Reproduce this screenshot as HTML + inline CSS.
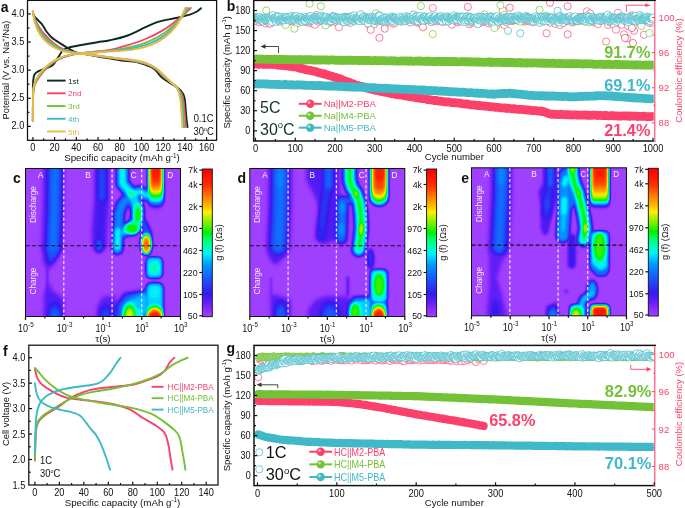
<!DOCTYPE html>
<html><head><meta charset="utf-8"><title>Figure</title>
<style>html,body{margin:0;padding:0;background:#fff}svg{display:block}text{font-family:"Liberation Sans", Arial, sans-serif}</style>
</head><body>
<svg width="685" height="508" viewBox="0 0 685 508">
<rect width="685" height="508" fill="#fff"/>
<path d="M32.8,88.6C32.9,87.2 33.0,82.3 33.3,80.0C33.6,77.7 33.7,76.0 34.5,74.5C35.3,73.0 36.2,72.3 38.1,71.3C40.0,70.3 43.6,69.4 46.1,68.3C48.6,67.2 51.1,66.6 53.2,64.7C55.3,62.8 57.0,58.9 58.5,56.7C60.0,54.5 60.9,52.7 62.0,51.4C63.1,50.1 63.8,49.7 65.0,49.0C66.2,48.3 66.6,48.0 69.1,47.4C71.6,46.8 75.1,46.1 79.8,45.2C84.5,44.3 92.5,43.0 97.5,42.2C102.5,41.4 105.0,41.3 110.0,40.2C115.0,39.1 121.8,37.7 127.7,35.5C133.6,33.3 140.5,29.5 145.5,27.2C150.5,24.9 152.6,23.4 157.9,21.8C163.2,20.2 172.1,18.9 177.4,17.7C182.7,16.5 186.6,15.6 189.8,14.6C193.1,13.6 195.0,12.6 196.9,11.5C198.8,10.4 200.3,8.8 201.0,8.3" fill="none" stroke="#0b2a1c" stroke-width="1.9" stroke-linejoin="round" stroke-linecap="round"/>
<path d="M32.8,13.3C33.2,14.0 34.0,15.9 35.5,17.7C37.0,19.5 39.9,21.7 41.7,23.9C43.5,26.1 44.5,28.8 46.1,31.0C47.7,33.2 49.0,35.1 51.4,37.2C53.8,39.3 57.3,41.5 60.3,43.4C63.2,45.3 66.4,47.3 69.1,48.8C71.8,50.3 73.5,51.4 76.2,52.3C78.9,53.2 81.2,53.4 85.1,54.1C88.9,54.8 93.5,55.7 99.3,56.7C105.1,57.7 113.8,59.4 120.0,60.3C126.2,61.2 131.5,60.9 136.6,62.0C141.7,63.1 147.6,65.5 150.8,67.0C154.1,68.5 154.3,69.2 156.1,70.9C157.9,72.6 159.8,75.5 161.4,77.1C163.1,78.7 163.9,79.1 166.0,80.5C168.1,81.9 171.3,83.6 173.8,85.3C176.3,87.0 179.1,88.5 180.9,90.6C182.7,92.7 183.6,93.5 184.5,97.7C185.4,101.9 185.7,110.6 186.2,115.5C186.7,120.4 187.3,125.1 187.5,127.0" fill="none" stroke="#0b2a1c" stroke-width="1.9" stroke-linejoin="round" stroke-linecap="round"/>
<path d="M32.8,121.0C32.8,117.5 32.9,105.4 33.0,100.0C33.1,94.6 33.2,91.7 33.7,88.6C34.2,85.5 34.8,84.2 36.3,81.6C37.8,78.9 40.3,75.4 42.5,72.7C44.7,70.0 46.9,67.8 49.6,65.6C52.3,63.4 55.0,61.2 58.5,59.4C62.0,57.6 67.1,56.0 70.9,55.0C74.8,54.0 76.9,53.8 81.6,53.2C86.3,52.6 94.6,51.7 99.3,51.2C104.0,50.7 105.3,51.0 110.0,50.0C114.7,49.0 121.8,47.0 127.7,45.2C133.6,43.4 139.6,41.5 145.5,39.0C151.4,36.5 158.2,33.1 163.2,30.1C168.2,27.2 172.0,24.0 175.6,21.3C179.2,18.6 182.0,16.4 184.5,14.2C187.0,12.0 189.7,9.0 190.7,8.0" fill="none" stroke="#fb416b" stroke-width="1.9" stroke-linejoin="round" stroke-linecap="round"/>
<path d="M32.8,11.5C33.2,12.8 34.0,16.4 35.0,19.0C36.0,21.6 37.2,24.2 39.0,27.0C40.8,29.8 43.5,33.2 46.0,36.0C48.5,38.8 51.2,41.3 54.0,43.5C56.8,45.7 59.5,47.5 63.0,49.0C66.5,50.5 71.3,51.7 75.0,52.5C78.7,53.3 81.0,53.4 85.0,54.0C89.0,54.6 93.2,55.3 99.0,56.2C104.8,57.1 113.8,58.3 120.0,59.2C126.2,60.1 131.0,60.5 136.0,61.5C141.0,62.5 146.5,64.1 150.0,65.5C153.5,66.9 154.8,68.2 157.0,70.0C159.2,71.8 160.8,74.0 163.0,76.0C165.2,78.0 167.5,79.9 170.0,82.0C172.5,84.1 175.9,86.2 178.0,88.5C180.1,90.8 181.4,92.4 182.5,96.0C183.6,99.6 183.9,104.8 184.5,110.0C185.1,115.2 185.6,124.2 185.8,127.0" fill="none" stroke="#fb416b" stroke-width="1.9" stroke-linejoin="round" stroke-linecap="round"/>
<path d="M32.8,121.0C32.8,117.3 32.9,104.6 33.0,99.1C33.1,93.5 33.2,90.8 33.7,87.7C34.2,84.6 34.8,83.1 36.3,80.4C37.8,77.7 40.3,74.2 42.5,71.6C44.7,69.0 46.9,66.9 49.6,64.8C52.3,62.7 55.0,60.6 58.5,58.9C62.0,57.3 67.1,55.8 70.9,54.8C74.8,53.9 76.9,53.7 81.6,53.2C86.3,52.7 94.4,52.1 99.3,51.7C104.2,51.2 105.8,51.4 110.9,50.6C116.0,49.9 123.9,48.7 130.1,47.2C136.2,45.7 142.2,44.1 147.9,41.8C153.5,39.5 159.4,36.3 164.0,33.3C168.6,30.3 172.5,26.6 175.6,23.7C178.7,20.8 180.8,18.4 182.9,15.8C185.0,13.2 187.4,9.3 188.3,8.0" fill="none" stroke="#72c136" stroke-width="1.9" stroke-linejoin="round" stroke-linecap="round"/>
<path d="M32.8,11.5C33.1,12.9 33.9,17.1 34.8,19.9C35.8,22.8 36.9,25.7 38.6,28.6C40.4,31.5 42.8,34.8 45.3,37.6C47.8,40.3 50.7,42.8 53.7,44.9C56.7,47.0 59.4,48.6 63.3,50.0C67.2,51.3 73.0,52.3 76.9,53.0C80.9,53.7 83.3,53.8 87.0,54.3C90.7,54.8 93.6,55.3 99.1,56.1C104.6,56.8 114.2,58.1 120.0,58.9C125.8,59.7 129.4,59.9 134.1,60.8C138.8,61.7 144.4,63.0 148.2,64.5C152.0,65.9 154.2,67.5 156.6,69.3C159.1,71.1 160.8,73.3 163.1,75.4C165.3,77.5 167.7,79.8 170.1,81.8C172.5,83.9 175.5,85.5 177.4,87.9C179.3,90.4 180.5,92.6 181.5,96.7C182.5,100.7 182.9,107.1 183.4,112.2C183.9,117.3 184.2,124.5 184.4,127.0" fill="none" stroke="#72c136" stroke-width="1.9" stroke-linejoin="round" stroke-linecap="round"/>
<path d="M32.8,121.0C32.8,117.2 32.9,104.2 33.0,98.5C33.1,92.8 33.2,90.2 33.7,87.1C34.2,84.0 34.8,82.4 36.3,79.7C37.8,76.9 40.3,73.4 42.5,70.8C44.7,68.3 46.9,66.3 49.6,64.2C52.3,62.2 55.0,60.2 58.5,58.6C62.0,57.1 67.1,55.6 70.9,54.7C74.8,53.8 76.9,53.7 81.6,53.2C86.3,52.7 94.3,52.3 99.3,52.0C104.3,51.6 106.1,51.6 111.5,51.0C116.9,50.5 125.3,49.7 131.7,48.5C138.0,47.3 144.0,45.8 149.5,43.7C155.0,41.5 160.2,38.5 164.6,35.4C168.9,32.4 172.7,28.4 175.6,25.3C178.5,22.2 179.9,19.7 181.8,16.8C183.7,13.9 185.9,9.5 186.7,8.0" fill="none" stroke="#3fb9c8" stroke-width="1.9" stroke-linejoin="round" stroke-linecap="round"/>
<path d="M32.8,11.5C33.1,13.0 33.8,17.6 34.7,20.6C35.6,23.7 36.7,26.8 38.4,29.8C40.1,32.8 42.3,36.0 44.8,38.7C47.3,41.4 50.3,44.0 53.4,46.0C56.6,47.9 59.4,49.4 63.6,50.7C67.7,51.9 74.2,52.7 78.4,53.3C82.5,54.0 85.0,54.1 88.5,54.6C92.0,55.0 94.0,55.3 99.2,56.0C104.5,56.7 114.4,58.0 120.0,58.7C125.6,59.4 128.2,59.5 132.7,60.3C137.2,61.1 142.9,62.3 146.8,63.7C150.8,65.1 153.7,66.9 156.4,68.8C159.1,70.7 160.8,72.8 163.1,75.0C165.4,77.1 167.9,79.6 170.2,81.7C172.5,83.8 175.2,84.9 176.9,87.5C178.7,90.1 179.8,92.8 180.8,97.2C181.7,101.6 182.2,108.9 182.6,113.8C183.0,118.8 183.2,124.8 183.4,127.0" fill="none" stroke="#3fb9c8" stroke-width="1.9" stroke-linejoin="round" stroke-linecap="round"/>
<path d="M32.8,121.0C32.8,117.2 32.9,103.7 33.0,98.0C33.1,92.3 33.2,89.8 33.7,86.6C34.2,83.4 34.8,81.7 36.3,79.0C37.8,76.3 40.3,72.7 42.5,70.2C44.7,67.7 46.9,65.8 49.6,63.8C52.3,61.8 55.0,59.9 58.5,58.4C62.0,56.9 67.1,55.5 70.9,54.6C74.8,53.7 76.9,53.6 81.6,53.2C86.3,52.8 94.2,52.5 99.3,52.2C104.4,51.9 106.4,51.8 112.0,51.4C117.6,51.0 126.5,50.6 133.0,49.6C139.5,48.6 145.5,47.3 150.8,45.2C156.1,43.1 160.9,40.3 165.0,37.2C169.1,34.1 172.9,29.9 175.6,26.6C178.2,23.4 179.3,20.8 180.9,17.7C182.5,14.6 184.7,9.6 185.4,8.0" fill="none" stroke="#efb73e" stroke-width="1.9" stroke-linejoin="round" stroke-linecap="round"/>
<path d="M32.8,11.5C33.1,13.1 33.7,18.1 34.6,21.3C35.5,24.6 36.5,27.9 38.1,31.0C39.7,34.1 41.8,37.2 44.3,39.9C46.8,42.6 50.0,45.1 53.2,47.0C56.5,48.9 59.4,50.3 63.8,51.4C68.2,52.5 75.4,53.1 79.8,53.7C84.2,54.3 86.8,54.4 90.0,54.8C93.2,55.2 94.3,55.3 99.3,55.9C104.3,56.5 114.7,57.9 120.0,58.5C125.3,59.1 127.1,59.1 131.3,59.8C135.6,60.5 141.4,61.5 145.5,62.9C149.6,64.3 153.2,66.4 156.1,68.3C159.0,70.2 160.8,72.3 163.2,74.5C165.6,76.7 168.1,79.5 170.3,81.6C172.5,83.7 174.9,84.4 176.5,87.1C178.1,89.8 179.1,93.0 180.0,97.7C180.9,102.4 181.4,110.6 181.8,115.5C182.2,120.4 182.2,125.1 182.3,127.0" fill="none" stroke="#efb73e" stroke-width="1.9" stroke-linejoin="round" stroke-linecap="round"/>
<rect x="27.5" y="0.4" width="189.1" height="139.9" fill="none" stroke="#111" stroke-width="1.25"/>
<line x1="32.90" y1="140.30" x2="32.90" y2="137.00" stroke="#111" stroke-width="1.2"/>
<text transform="translate(32.9 150.8) scale(0.9 1)" font-size="10.25" fill="#111" text-anchor="middle">0</text>
<line x1="43.76" y1="140.30" x2="43.76" y2="138.30" stroke="#111" stroke-width="1.2"/>
<line x1="54.61" y1="140.30" x2="54.61" y2="137.00" stroke="#111" stroke-width="1.2"/>
<text transform="translate(54.611999999999995 150.8) scale(0.9 1)" font-size="10.25" fill="#111" text-anchor="middle">20</text>
<line x1="65.47" y1="140.30" x2="65.47" y2="138.30" stroke="#111" stroke-width="1.2"/>
<line x1="76.32" y1="140.30" x2="76.32" y2="137.00" stroke="#111" stroke-width="1.2"/>
<text transform="translate(76.32399999999998 150.8) scale(0.9 1)" font-size="10.25" fill="#111" text-anchor="middle">40</text>
<line x1="87.18" y1="140.30" x2="87.18" y2="138.30" stroke="#111" stroke-width="1.2"/>
<line x1="98.04" y1="140.30" x2="98.04" y2="137.00" stroke="#111" stroke-width="1.2"/>
<text transform="translate(98.036 150.8) scale(0.9 1)" font-size="10.25" fill="#111" text-anchor="middle">60</text>
<line x1="108.89" y1="140.30" x2="108.89" y2="138.30" stroke="#111" stroke-width="1.2"/>
<line x1="119.75" y1="140.30" x2="119.75" y2="137.00" stroke="#111" stroke-width="1.2"/>
<text transform="translate(119.74799999999999 150.8) scale(0.9 1)" font-size="10.25" fill="#111" text-anchor="middle">80</text>
<line x1="130.60" y1="140.30" x2="130.60" y2="138.30" stroke="#111" stroke-width="1.2"/>
<line x1="141.46" y1="140.30" x2="141.46" y2="137.00" stroke="#111" stroke-width="1.2"/>
<text transform="translate(141.45999999999998 150.8) scale(0.9 1)" font-size="10.25" fill="#111" text-anchor="middle">100</text>
<line x1="152.32" y1="140.30" x2="152.32" y2="138.30" stroke="#111" stroke-width="1.2"/>
<line x1="163.17" y1="140.30" x2="163.17" y2="137.00" stroke="#111" stroke-width="1.2"/>
<text transform="translate(163.172 150.8) scale(0.9 1)" font-size="10.25" fill="#111" text-anchor="middle">120</text>
<line x1="174.03" y1="140.30" x2="174.03" y2="138.30" stroke="#111" stroke-width="1.2"/>
<line x1="184.88" y1="140.30" x2="184.88" y2="137.00" stroke="#111" stroke-width="1.2"/>
<text transform="translate(184.884 150.8) scale(0.9 1)" font-size="10.25" fill="#111" text-anchor="middle">140</text>
<line x1="195.74" y1="140.30" x2="195.74" y2="138.30" stroke="#111" stroke-width="1.2"/>
<line x1="206.60" y1="140.30" x2="206.60" y2="137.00" stroke="#111" stroke-width="1.2"/>
<text transform="translate(206.59599999999998 150.8) scale(0.9 1)" font-size="10.25" fill="#111" text-anchor="middle">160</text>
<line x1="27.50" y1="126.40" x2="30.80" y2="126.40" stroke="#111" stroke-width="1.2"/>
<text transform="translate(24.3 129.3) scale(0.9 1)" font-size="10.25" fill="#111" text-anchor="end">2.0</text>
<line x1="27.50" y1="112.34" x2="29.50" y2="112.34" stroke="#111" stroke-width="1.2"/>
<line x1="27.50" y1="98.28" x2="30.80" y2="98.28" stroke="#111" stroke-width="1.2"/>
<text transform="translate(24.3 101.17500000000001) scale(0.9 1)" font-size="10.25" fill="#111" text-anchor="end">2.5</text>
<line x1="27.50" y1="84.21" x2="29.50" y2="84.21" stroke="#111" stroke-width="1.2"/>
<line x1="27.50" y1="70.15" x2="30.80" y2="70.15" stroke="#111" stroke-width="1.2"/>
<text transform="translate(24.3 73.05000000000001) scale(0.9 1)" font-size="10.25" fill="#111" text-anchor="end">3.0</text>
<line x1="27.50" y1="56.09" x2="29.50" y2="56.09" stroke="#111" stroke-width="1.2"/>
<line x1="27.50" y1="42.02" x2="30.80" y2="42.02" stroke="#111" stroke-width="1.2"/>
<text transform="translate(24.3 44.925) scale(0.9 1)" font-size="10.25" fill="#111" text-anchor="end">3.5</text>
<line x1="27.50" y1="27.96" x2="29.50" y2="27.96" stroke="#111" stroke-width="1.2"/>
<line x1="27.50" y1="13.90" x2="30.80" y2="13.90" stroke="#111" stroke-width="1.2"/>
<text transform="translate(24.3 16.8) scale(0.9 1)" font-size="10.25" fill="#111" text-anchor="end">4.0</text>
<text x="122" y="161.4" font-size="9.75" fill="#111" text-anchor="middle">Specific capacity (mAh g<tspan font-size="6.3" dy="-3.8">-1</tspan><tspan dy="3.8">)</tspan></text>
<text x="9" y="70" font-size="9.4" fill="#111" text-anchor="middle" transform="rotate(-90 9 70)">Potential (V vs. Na<tspan font-size="6" dy="-3.6">+</tspan><tspan dy="3.6">/Na)</tspan></text>
<text x="0.8" y="11.5" font-size="14" fill="#111" text-anchor="start" font-weight="bold">a</text>
<line x1="47.00" y1="80.60" x2="65.60" y2="80.60" stroke="#0b2a1c" stroke-width="1.9"/>
<text x="68" y="83.69999999999999" font-size="8.1" fill="#0b2a1c" text-anchor="start">1st</text>
<line x1="47.00" y1="93.32" x2="65.60" y2="93.32" stroke="#fb416b" stroke-width="1.9"/>
<text x="68" y="96.41999999999999" font-size="8.1" fill="#fb416b" text-anchor="start">2nd</text>
<line x1="47.00" y1="106.04" x2="65.60" y2="106.04" stroke="#72c136" stroke-width="1.9"/>
<text x="68" y="109.13999999999999" font-size="8.1" fill="#72c136" text-anchor="start">3rd</text>
<line x1="47.00" y1="118.76" x2="65.60" y2="118.76" stroke="#3fb9c8" stroke-width="1.9"/>
<text x="68" y="121.85999999999999" font-size="8.1" fill="#3fb9c8" text-anchor="start">4th</text>
<line x1="47.00" y1="131.48" x2="65.60" y2="131.48" stroke="#efb73e" stroke-width="1.9"/>
<text x="68" y="134.57999999999998" font-size="8.1" fill="#efb73e" text-anchor="start">5th</text>
<text transform="translate(213.5 122.0) scale(0.9 1)" font-size="10.46" fill="#111" text-anchor="end">0.1C</text>
<text transform="translate(213.8 134.7) scale(0.9 1)" font-size="10.46" fill="#111" text-anchor="end">30<tspan font-size="6" dy="-4">o</tspan><tspan dy="4">C</tspan></text>
<clipPath id="cb"><rect x="253.7" y="0.4" width="401.50000000000006" height="140.6"/></clipPath>
<g fill="#fff" stroke="#fb416b" stroke-width="0.65" clip-path="url(#cb)"><circle cx="256.3" cy="21.2" r="3.6"/><circle cx="257.9" cy="20.0" r="3.6"/><circle cx="259.5" cy="22.3" r="3.6"/><circle cx="261.1" cy="21.2" r="3.6"/><circle cx="262.7" cy="19.2" r="3.6"/><circle cx="264.2" cy="20.4" r="3.6"/><circle cx="265.8" cy="23.5" r="3.6"/><circle cx="267.4" cy="19.5" r="3.6"/><circle cx="269.0" cy="23.5" r="3.6"/><circle cx="270.6" cy="23.6" r="3.6"/><circle cx="272.2" cy="20.4" r="3.6"/><circle cx="273.8" cy="20.9" r="3.6"/><circle cx="275.4" cy="20.3" r="3.6"/><circle cx="277.0" cy="20.2" r="3.6"/><circle cx="278.6" cy="20.0" r="3.6"/><circle cx="280.1" cy="18.9" r="3.6"/><circle cx="281.7" cy="21.4" r="3.6"/><circle cx="283.3" cy="21.0" r="3.6"/><circle cx="284.9" cy="21.5" r="3.6"/><circle cx="286.5" cy="22.3" r="3.6"/><circle cx="288.1" cy="22.1" r="3.6"/><circle cx="289.7" cy="20.4" r="3.6"/><circle cx="291.3" cy="20.8" r="3.6"/><circle cx="292.9" cy="18.8" r="3.6"/><circle cx="294.5" cy="21.0" r="3.6"/><circle cx="296.0" cy="22.1" r="3.6"/><circle cx="297.6" cy="23.2" r="3.6"/><circle cx="299.2" cy="19.5" r="3.6"/><circle cx="300.8" cy="18.6" r="3.6"/><circle cx="302.4" cy="20.3" r="3.6"/><circle cx="304.0" cy="19.9" r="3.6"/><circle cx="305.6" cy="21.8" r="3.6"/><circle cx="307.2" cy="22.4" r="3.6"/><circle cx="308.8" cy="21.7" r="3.6"/><circle cx="310.4" cy="23.1" r="3.6"/><circle cx="311.9" cy="20.5" r="3.6"/><circle cx="313.5" cy="23.8" r="3.6"/><circle cx="315.1" cy="24.8" r="3.6"/><circle cx="316.7" cy="14.9" r="3.6"/><circle cx="318.3" cy="21.8" r="3.6"/><circle cx="319.9" cy="20.6" r="3.6"/><circle cx="321.5" cy="20.7" r="3.6"/><circle cx="323.1" cy="21.7" r="3.6"/><circle cx="324.7" cy="20.4" r="3.6"/><circle cx="326.3" cy="21.3" r="3.6"/><circle cx="327.8" cy="18.7" r="3.6"/><circle cx="329.4" cy="22.8" r="3.6"/><circle cx="331.0" cy="22.1" r="3.6"/><circle cx="332.6" cy="20.1" r="3.6"/><circle cx="334.2" cy="20.3" r="3.6"/><circle cx="335.8" cy="20.0" r="3.6"/><circle cx="337.4" cy="22.9" r="3.6"/><circle cx="339.0" cy="27.3" r="3.6"/><circle cx="340.6" cy="20.1" r="3.6"/><circle cx="342.2" cy="18.5" r="3.6"/><circle cx="343.7" cy="21.5" r="3.6"/><circle cx="345.3" cy="21.1" r="3.6"/><circle cx="346.9" cy="21.3" r="3.6"/><circle cx="348.5" cy="18.8" r="3.6"/><circle cx="350.1" cy="22.8" r="3.6"/><circle cx="351.7" cy="19.1" r="3.6"/><circle cx="353.3" cy="19.5" r="3.6"/><circle cx="354.9" cy="20.6" r="3.6"/><circle cx="356.5" cy="19.9" r="3.6"/><circle cx="358.1" cy="19.9" r="3.6"/><circle cx="359.6" cy="20.8" r="3.6"/><circle cx="361.2" cy="17.7" r="3.6"/><circle cx="362.8" cy="20.3" r="3.6"/><circle cx="364.4" cy="20.9" r="3.6"/><circle cx="366.0" cy="19.4" r="3.6"/><circle cx="367.6" cy="17.9" r="3.6"/><circle cx="369.2" cy="24.9" r="3.6"/><circle cx="370.8" cy="20.2" r="3.6"/><circle cx="372.4" cy="20.5" r="3.6"/><circle cx="374.0" cy="24.5" r="3.6"/><circle cx="375.5" cy="19.0" r="3.6"/><circle cx="377.1" cy="21.4" r="3.6"/><circle cx="378.7" cy="18.9" r="3.6"/><circle cx="380.3" cy="20.5" r="3.6"/><circle cx="381.9" cy="21.2" r="3.6"/><circle cx="383.5" cy="22.0" r="3.6"/><circle cx="385.1" cy="20.6" r="3.6"/><circle cx="386.7" cy="22.8" r="3.6"/><circle cx="388.3" cy="20.3" r="3.6"/><circle cx="389.9" cy="18.0" r="3.6"/><circle cx="391.4" cy="19.8" r="3.6"/><circle cx="393.0" cy="23.6" r="3.6"/><circle cx="394.6" cy="23.1" r="3.6"/><circle cx="396.2" cy="19.6" r="3.6"/><circle cx="397.8" cy="20.6" r="3.6"/><circle cx="399.4" cy="19.2" r="3.6"/><circle cx="401.0" cy="21.3" r="3.6"/><circle cx="402.6" cy="19.4" r="3.6"/><circle cx="404.2" cy="21.3" r="3.6"/><circle cx="405.8" cy="20.5" r="3.6"/><circle cx="407.3" cy="19.8" r="3.6"/><circle cx="408.9" cy="19.9" r="3.6"/><circle cx="410.5" cy="22.4" r="3.6"/><circle cx="412.1" cy="18.8" r="3.6"/><circle cx="413.7" cy="19.7" r="3.6"/><circle cx="415.3" cy="20.8" r="3.6"/><circle cx="416.9" cy="22.6" r="3.6"/><circle cx="418.5" cy="22.2" r="3.6"/><circle cx="420.1" cy="18.4" r="3.6"/><circle cx="421.7" cy="24.0" r="3.6"/><circle cx="423.2" cy="18.6" r="3.6"/><circle cx="424.8" cy="20.2" r="3.6"/><circle cx="426.4" cy="20.2" r="3.6"/><circle cx="428.0" cy="19.0" r="3.6"/><circle cx="429.6" cy="18.5" r="3.6"/><circle cx="431.2" cy="22.0" r="3.6"/><circle cx="432.8" cy="8.0" r="3.6"/><circle cx="434.4" cy="21.3" r="3.6"/><circle cx="436.0" cy="19.3" r="3.6"/><circle cx="437.6" cy="21.5" r="3.6"/><circle cx="439.1" cy="20.5" r="3.6"/><circle cx="440.7" cy="19.7" r="3.6"/><circle cx="442.3" cy="21.9" r="3.6"/><circle cx="443.9" cy="21.5" r="3.6"/><circle cx="445.5" cy="19.6" r="3.6"/><circle cx="447.1" cy="21.6" r="3.6"/><circle cx="448.7" cy="19.5" r="3.6"/><circle cx="450.3" cy="21.8" r="3.6"/><circle cx="451.9" cy="24.6" r="3.6"/><circle cx="453.5" cy="19.9" r="3.6"/><circle cx="455.0" cy="20.5" r="3.6"/><circle cx="456.6" cy="21.8" r="3.6"/><circle cx="458.2" cy="22.2" r="3.6"/><circle cx="459.8" cy="21.3" r="3.6"/><circle cx="461.4" cy="20.7" r="3.6"/><circle cx="463.0" cy="21.6" r="3.6"/><circle cx="464.6" cy="21.3" r="3.6"/><circle cx="466.2" cy="18.2" r="3.6"/><circle cx="467.8" cy="20.6" r="3.6"/><circle cx="469.4" cy="24.3" r="3.6"/><circle cx="470.9" cy="22.7" r="3.6"/><circle cx="472.5" cy="20.9" r="3.6"/><circle cx="474.1" cy="22.6" r="3.6"/><circle cx="475.7" cy="21.2" r="3.6"/><circle cx="477.3" cy="18.1" r="3.6"/><circle cx="478.9" cy="23.5" r="3.6"/><circle cx="480.5" cy="18.0" r="3.6"/><circle cx="482.1" cy="21.9" r="3.6"/><circle cx="483.7" cy="21.4" r="3.6"/><circle cx="485.3" cy="20.6" r="3.6"/><circle cx="486.8" cy="22.2" r="3.6"/><circle cx="488.4" cy="23.3" r="3.6"/><circle cx="490.0" cy="21.3" r="3.6"/><circle cx="491.6" cy="23.1" r="3.6"/><circle cx="493.2" cy="19.7" r="3.6"/><circle cx="494.8" cy="21.1" r="3.6"/><circle cx="496.4" cy="25.6" r="3.6"/><circle cx="498.0" cy="20.5" r="3.6"/><circle cx="499.6" cy="22.6" r="3.6"/><circle cx="501.2" cy="20.0" r="3.6"/><circle cx="502.7" cy="10.4" r="3.6"/><circle cx="504.3" cy="25.3" r="3.6"/><circle cx="505.9" cy="21.9" r="3.6"/><circle cx="507.5" cy="18.9" r="3.6"/><circle cx="509.1" cy="18.1" r="3.6"/><circle cx="510.7" cy="21.1" r="3.6"/><circle cx="512.3" cy="20.9" r="3.6"/><circle cx="513.9" cy="20.4" r="3.6"/><circle cx="515.5" cy="19.7" r="3.6"/><circle cx="517.1" cy="19.6" r="3.6"/><circle cx="518.6" cy="20.9" r="3.6"/><circle cx="520.2" cy="19.9" r="3.6"/><circle cx="521.8" cy="21.0" r="3.6"/><circle cx="523.4" cy="21.5" r="3.6"/><circle cx="525.0" cy="21.4" r="3.6"/><circle cx="526.6" cy="20.6" r="3.6"/><circle cx="528.2" cy="20.6" r="3.6"/><circle cx="529.8" cy="21.5" r="3.6"/><circle cx="531.4" cy="19.7" r="3.6"/><circle cx="533.0" cy="22.2" r="3.6"/><circle cx="534.5" cy="19.7" r="3.6"/><circle cx="536.1" cy="21.4" r="3.6"/><circle cx="537.7" cy="20.8" r="3.6"/><circle cx="539.3" cy="20.1" r="3.6"/><circle cx="540.9" cy="20.4" r="3.6"/><circle cx="542.5" cy="19.5" r="3.6"/><circle cx="544.1" cy="21.3" r="3.6"/><circle cx="545.7" cy="19.0" r="3.6"/><circle cx="547.3" cy="19.0" r="3.6"/><circle cx="548.9" cy="21.0" r="3.6"/><circle cx="550.4" cy="22.8" r="3.6"/><circle cx="552.0" cy="20.1" r="3.6"/><circle cx="553.6" cy="21.1" r="3.6"/><circle cx="555.2" cy="23.8" r="3.6"/><circle cx="556.8" cy="20.7" r="3.6"/><circle cx="558.4" cy="22.5" r="3.6"/><circle cx="560.0" cy="25.0" r="3.6"/><circle cx="561.6" cy="21.4" r="3.6"/><circle cx="563.2" cy="23.0" r="3.6"/><circle cx="564.8" cy="20.1" r="3.6"/><circle cx="566.3" cy="20.6" r="3.6"/><circle cx="567.9" cy="20.9" r="3.6"/><circle cx="569.5" cy="19.9" r="3.6"/><circle cx="571.1" cy="19.2" r="3.6"/><circle cx="572.7" cy="22.5" r="3.6"/><circle cx="574.3" cy="21.3" r="3.6"/><circle cx="575.9" cy="19.1" r="3.6"/><circle cx="577.5" cy="21.2" r="3.6"/><circle cx="579.1" cy="16.8" r="3.6"/><circle cx="580.7" cy="20.7" r="3.6"/><circle cx="582.2" cy="16.7" r="3.6"/><circle cx="583.8" cy="19.3" r="3.6"/><circle cx="585.4" cy="20.8" r="3.6"/><circle cx="587.0" cy="11.3" r="3.6"/><circle cx="588.6" cy="20.9" r="3.6"/><circle cx="590.2" cy="13.5" r="3.6"/><circle cx="591.8" cy="20.6" r="3.6"/><circle cx="593.4" cy="22.5" r="3.6"/><circle cx="595.0" cy="21.8" r="3.6"/><circle cx="596.6" cy="21.5" r="3.6"/><circle cx="598.1" cy="24.0" r="3.6"/><circle cx="599.7" cy="19.9" r="3.6"/><circle cx="601.3" cy="20.9" r="3.6"/><circle cx="602.9" cy="17.9" r="3.6"/><circle cx="604.5" cy="20.0" r="3.6"/></g>
<g fill="#fff" stroke="#fb416b" stroke-width="0.65" clip-path="url(#cb)"><circle cx="606.1" cy="41.5" r="3.6"/><circle cx="608.1" cy="25.0" r="3.6"/><circle cx="610.1" cy="22.4" r="3.6"/><circle cx="612.1" cy="20.3" r="3.6"/><circle cx="614.0" cy="25.0" r="3.6"/><circle cx="616.0" cy="29.7" r="3.6"/><circle cx="618.0" cy="12.8" r="3.6"/><circle cx="620.0" cy="20.2" r="3.6"/><circle cx="622.0" cy="24.8" r="3.6"/><circle cx="624.0" cy="34.3" r="3.6"/><circle cx="626.0" cy="20.6" r="3.6"/><circle cx="628.0" cy="26.1" r="3.6"/><circle cx="629.9" cy="22.4" r="3.6"/><circle cx="631.9" cy="15.3" r="3.6"/><circle cx="633.9" cy="21.0" r="3.6"/><circle cx="635.9" cy="20.7" r="3.6"/><circle cx="637.9" cy="17.7" r="3.6"/><circle cx="639.9" cy="24.1" r="3.6"/><circle cx="641.9" cy="19.9" r="3.6"/><circle cx="643.9" cy="34.8" r="3.6"/><circle cx="645.8" cy="20.7" r="3.6"/><circle cx="647.8" cy="20.3" r="3.6"/><circle cx="649.8" cy="23.0" r="3.6"/><circle cx="651.8" cy="22.4" r="3.6"/></g>
<g fill="#fff" stroke="#72c136" stroke-width="0.65" clip-path="url(#cb)"><circle cx="255.9" cy="17.7" r="3.6"/><circle cx="257.9" cy="19.6" r="3.6"/><circle cx="259.9" cy="18.0" r="3.6"/><circle cx="261.9" cy="17.6" r="3.6"/><circle cx="263.8" cy="17.7" r="3.6"/><circle cx="265.8" cy="19.1" r="3.6"/><circle cx="267.8" cy="19.3" r="3.6"/><circle cx="269.8" cy="18.1" r="3.6"/><circle cx="271.8" cy="19.5" r="3.6"/><circle cx="273.8" cy="18.6" r="3.6"/><circle cx="275.8" cy="19.5" r="3.6"/><circle cx="277.8" cy="21.8" r="3.6"/><circle cx="279.7" cy="19.6" r="3.6"/><circle cx="281.7" cy="21.5" r="3.6"/><circle cx="283.7" cy="19.4" r="3.6"/><circle cx="285.7" cy="25.0" r="3.6"/><circle cx="287.7" cy="18.0" r="3.6"/><circle cx="289.7" cy="19.2" r="3.6"/><circle cx="291.7" cy="18.6" r="3.6"/><circle cx="293.7" cy="18.5" r="3.6"/><circle cx="295.6" cy="17.5" r="3.6"/><circle cx="297.6" cy="19.2" r="3.6"/><circle cx="299.6" cy="17.8" r="3.6"/><circle cx="301.6" cy="20.0" r="3.6"/><circle cx="303.6" cy="20.0" r="3.6"/><circle cx="305.6" cy="18.5" r="3.6"/><circle cx="307.6" cy="20.0" r="3.6"/><circle cx="309.6" cy="3.7" r="3.6"/><circle cx="311.5" cy="18.1" r="3.6"/><circle cx="313.5" cy="18.5" r="3.6"/><circle cx="315.5" cy="19.6" r="3.6"/><circle cx="317.5" cy="18.9" r="3.6"/><circle cx="319.5" cy="18.3" r="3.6"/><circle cx="321.5" cy="18.7" r="3.6"/><circle cx="323.5" cy="20.6" r="3.6"/><circle cx="325.5" cy="25.5" r="3.6"/><circle cx="327.4" cy="19.4" r="3.6"/><circle cx="329.4" cy="20.4" r="3.6"/><circle cx="331.4" cy="19.3" r="3.6"/><circle cx="333.4" cy="18.9" r="3.6"/><circle cx="335.4" cy="20.2" r="3.6"/><circle cx="337.4" cy="19.1" r="3.6"/><circle cx="339.4" cy="18.4" r="3.6"/><circle cx="341.4" cy="19.4" r="3.6"/><circle cx="343.3" cy="20.2" r="3.6"/><circle cx="345.3" cy="19.6" r="3.6"/><circle cx="347.3" cy="18.7" r="3.6"/><circle cx="349.3" cy="17.0" r="3.6"/><circle cx="351.3" cy="16.3" r="3.6"/><circle cx="353.3" cy="21.2" r="3.6"/><circle cx="355.3" cy="19.1" r="3.6"/><circle cx="357.3" cy="18.8" r="3.6"/><circle cx="359.2" cy="19.2" r="3.6"/><circle cx="361.2" cy="18.4" r="3.6"/><circle cx="363.2" cy="19.3" r="3.6"/><circle cx="365.2" cy="20.3" r="3.6"/><circle cx="367.2" cy="19.9" r="3.6"/><circle cx="369.2" cy="18.6" r="3.6"/><circle cx="371.2" cy="18.7" r="3.6"/><circle cx="373.2" cy="19.4" r="3.6"/><circle cx="375.1" cy="18.8" r="3.6"/><circle cx="377.1" cy="19.8" r="3.6"/><circle cx="379.1" cy="20.2" r="3.6"/><circle cx="381.1" cy="18.6" r="3.6"/><circle cx="383.1" cy="20.6" r="3.6"/><circle cx="385.1" cy="19.8" r="3.6"/><circle cx="387.1" cy="21.4" r="3.6"/><circle cx="389.1" cy="18.2" r="3.6"/><circle cx="391.0" cy="19.3" r="3.6"/><circle cx="393.0" cy="17.5" r="3.6"/><circle cx="395.0" cy="21.5" r="3.6"/><circle cx="397.0" cy="18.5" r="3.6"/><circle cx="399.0" cy="18.2" r="3.6"/><circle cx="401.0" cy="19.5" r="3.6"/><circle cx="403.0" cy="20.8" r="3.6"/><circle cx="405.0" cy="19.5" r="3.6"/><circle cx="406.9" cy="19.4" r="3.6"/><circle cx="408.9" cy="17.9" r="3.6"/><circle cx="410.9" cy="20.0" r="3.6"/><circle cx="412.9" cy="19.3" r="3.6"/><circle cx="414.9" cy="17.8" r="3.6"/><circle cx="416.9" cy="18.1" r="3.6"/><circle cx="418.9" cy="18.7" r="3.6"/><circle cx="420.9" cy="6.1" r="3.6"/><circle cx="422.8" cy="19.6" r="3.6"/><circle cx="424.8" cy="18.1" r="3.6"/><circle cx="426.8" cy="18.4" r="3.6"/><circle cx="428.8" cy="20.1" r="3.6"/><circle cx="430.8" cy="17.7" r="3.6"/><circle cx="432.8" cy="34.1" r="3.6"/><circle cx="434.8" cy="19.2" r="3.6"/><circle cx="436.8" cy="19.3" r="3.6"/><circle cx="438.7" cy="17.7" r="3.6"/><circle cx="440.7" cy="18.3" r="3.6"/><circle cx="442.7" cy="19.1" r="3.6"/><circle cx="444.7" cy="18.7" r="3.6"/><circle cx="446.7" cy="17.5" r="3.6"/><circle cx="448.7" cy="18.5" r="3.6"/><circle cx="450.7" cy="16.6" r="3.6"/><circle cx="452.7" cy="19.2" r="3.6"/><circle cx="454.6" cy="18.5" r="3.6"/><circle cx="456.6" cy="18.1" r="3.6"/><circle cx="458.6" cy="19.6" r="3.6"/><circle cx="460.6" cy="20.6" r="3.6"/><circle cx="462.6" cy="18.5" r="3.6"/><circle cx="464.6" cy="19.8" r="3.6"/><circle cx="466.6" cy="18.8" r="3.6"/><circle cx="468.6" cy="18.9" r="3.6"/><circle cx="470.5" cy="19.1" r="3.6"/><circle cx="472.5" cy="18.0" r="3.6"/><circle cx="474.5" cy="20.4" r="3.6"/><circle cx="476.5" cy="19.6" r="3.6"/><circle cx="478.5" cy="18.7" r="3.6"/><circle cx="480.5" cy="17.7" r="3.6"/><circle cx="482.5" cy="18.9" r="3.6"/><circle cx="484.5" cy="14.4" r="3.6"/><circle cx="486.4" cy="19.4" r="3.6"/><circle cx="488.4" cy="18.3" r="3.6"/><circle cx="490.4" cy="18.6" r="3.6"/><circle cx="492.4" cy="19.4" r="3.6"/><circle cx="494.4" cy="28.0" r="3.6"/><circle cx="496.4" cy="20.3" r="3.6"/><circle cx="498.4" cy="19.1" r="3.6"/><circle cx="500.4" cy="5.2" r="3.6"/><circle cx="502.3" cy="20.9" r="3.6"/><circle cx="504.3" cy="14.8" r="3.6"/><circle cx="506.3" cy="19.2" r="3.6"/><circle cx="508.3" cy="19.3" r="3.6"/><circle cx="510.3" cy="17.5" r="3.6"/><circle cx="512.3" cy="19.6" r="3.6"/><circle cx="514.3" cy="16.6" r="3.6"/><circle cx="516.3" cy="19.4" r="3.6"/><circle cx="518.2" cy="19.4" r="3.6"/><circle cx="520.2" cy="21.6" r="3.6"/><circle cx="522.2" cy="19.0" r="3.6"/><circle cx="524.2" cy="19.3" r="3.6"/><circle cx="526.2" cy="16.7" r="3.6"/><circle cx="528.2" cy="20.0" r="3.6"/><circle cx="530.2" cy="20.4" r="3.6"/><circle cx="532.2" cy="18.7" r="3.6"/><circle cx="534.1" cy="18.7" r="3.6"/><circle cx="536.1" cy="20.9" r="3.6"/><circle cx="538.1" cy="20.0" r="3.6"/><circle cx="540.1" cy="19.8" r="3.6"/><circle cx="542.1" cy="19.2" r="3.6"/><circle cx="544.1" cy="19.7" r="3.6"/><circle cx="546.1" cy="15.7" r="3.6"/><circle cx="548.1" cy="20.1" r="3.6"/><circle cx="550.0" cy="19.6" r="3.6"/><circle cx="552.0" cy="18.4" r="3.6"/><circle cx="554.0" cy="19.3" r="3.6"/><circle cx="556.0" cy="20.9" r="3.6"/><circle cx="558.0" cy="19.2" r="3.6"/><circle cx="560.0" cy="20.5" r="3.6"/><circle cx="562.0" cy="18.5" r="3.6"/><circle cx="564.0" cy="18.4" r="3.6"/><circle cx="565.9" cy="20.5" r="3.6"/><circle cx="567.9" cy="19.6" r="3.6"/><circle cx="569.9" cy="17.9" r="3.6"/><circle cx="571.9" cy="19.0" r="3.6"/><circle cx="573.9" cy="18.5" r="3.6"/><circle cx="575.9" cy="18.2" r="3.6"/><circle cx="577.9" cy="20.2" r="3.6"/><circle cx="579.9" cy="18.0" r="3.6"/><circle cx="581.8" cy="19.3" r="3.6"/><circle cx="583.8" cy="21.1" r="3.6"/><circle cx="585.8" cy="21.9" r="3.6"/><circle cx="587.8" cy="18.4" r="3.6"/><circle cx="589.8" cy="22.4" r="3.6"/><circle cx="591.8" cy="18.7" r="3.6"/><circle cx="593.8" cy="17.9" r="3.6"/><circle cx="595.8" cy="19.5" r="3.6"/><circle cx="597.7" cy="18.5" r="3.6"/><circle cx="599.7" cy="20.1" r="3.6"/><circle cx="601.7" cy="18.8" r="3.6"/><circle cx="603.7" cy="19.4" r="3.6"/><circle cx="605.7" cy="19.1" r="3.6"/><circle cx="607.7" cy="18.3" r="3.6"/><circle cx="609.7" cy="19.3" r="3.6"/><circle cx="611.7" cy="17.8" r="3.6"/><circle cx="613.6" cy="18.3" r="3.6"/><circle cx="615.6" cy="19.2" r="3.6"/><circle cx="617.6" cy="19.5" r="3.6"/><circle cx="619.6" cy="18.6" r="3.6"/><circle cx="621.6" cy="18.8" r="3.6"/><circle cx="623.6" cy="19.1" r="3.6"/><circle cx="625.6" cy="19.6" r="3.6"/><circle cx="627.6" cy="19.6" r="3.6"/><circle cx="629.5" cy="20.0" r="3.6"/><circle cx="631.5" cy="18.8" r="3.6"/><circle cx="633.5" cy="19.8" r="3.6"/><circle cx="635.5" cy="18.0" r="3.6"/><circle cx="637.5" cy="16.9" r="3.6"/><circle cx="639.5" cy="21.9" r="3.6"/><circle cx="641.5" cy="25.8" r="3.6"/><circle cx="643.5" cy="18.4" r="3.6"/><circle cx="645.4" cy="19.9" r="3.6"/><circle cx="647.4" cy="18.4" r="3.6"/><circle cx="649.4" cy="33.1" r="3.6"/><circle cx="651.4" cy="19.7" r="3.6"/></g>
<g fill="#fff" stroke="#fb416b" stroke-width="0.7" clip-path="url(#cb)"><circle cx="370.7" cy="29.8" r="3.6"/><circle cx="379.4" cy="37.8" r="3.6"/><circle cx="384.7" cy="28.7" r="3.6"/><circle cx="423" cy="27.3" r="3.6"/><circle cx="550" cy="2.8" r="3.6"/><circle cx="567.6" cy="6.3" r="3.6"/><circle cx="509.8" cy="7.7" r="3.6"/><circle cx="467.8" cy="7" r="3.6"/><circle cx="546.6" cy="33.3" r="3.6"/><circle cx="567.6" cy="34.3" r="3.6"/><circle cx="627" cy="38.5" r="3.6"/><circle cx="634" cy="30.8" r="3.6"/><circle cx="632" cy="28" r="3.6"/><circle cx="625" cy="38" r="3.6"/><circle cx="633" cy="43" r="3.6"/></g>
<g fill="#fff" stroke="#72c136" stroke-width="0.7" clip-path="url(#cb)"><circle cx="266.3" cy="10.5" r="3.6"/><circle cx="320.9" cy="6.3" r="3.6"/><circle cx="294.3" cy="28.7" r="3.6"/><circle cx="375.9" cy="13.3" r="3.6"/><circle cx="539.6" cy="9.8" r="3.6"/></g>
<g fill="#fff" stroke="#3fb9c8" stroke-width="0.72" clip-path="url(#cb)"><circle cx="255.9" cy="17.2" r="3.6"/><circle cx="256.3" cy="17.8" r="3.6"/><circle cx="256.7" cy="18.1" r="3.6"/><circle cx="257.1" cy="17.9" r="3.6"/><circle cx="257.5" cy="17.5" r="3.6"/><circle cx="257.9" cy="17.8" r="3.6"/><circle cx="258.3" cy="18.5" r="3.6"/><circle cx="258.7" cy="18.1" r="3.6"/><circle cx="259.1" cy="19.2" r="3.6"/><circle cx="259.5" cy="18.7" r="3.6"/><circle cx="259.9" cy="17.2" r="3.6"/><circle cx="260.3" cy="19.8" r="3.6"/><circle cx="260.7" cy="18.5" r="3.6"/><circle cx="261.1" cy="19.6" r="3.6"/><circle cx="261.5" cy="18.3" r="3.6"/><circle cx="261.9" cy="19.5" r="3.6"/><circle cx="262.3" cy="20.0" r="3.6"/><circle cx="262.7" cy="18.9" r="3.6"/><circle cx="263.1" cy="19.2" r="3.6"/><circle cx="263.4" cy="21.5" r="3.6"/><circle cx="263.8" cy="18.7" r="3.6"/><circle cx="264.2" cy="19.1" r="3.6"/><circle cx="264.6" cy="20.1" r="3.6"/><circle cx="265.0" cy="19.7" r="3.6"/><circle cx="265.4" cy="20.3" r="3.6"/><circle cx="265.8" cy="17.9" r="3.6"/><circle cx="266.2" cy="20.1" r="3.6"/><circle cx="266.6" cy="18.3" r="3.6"/><circle cx="267.0" cy="19.7" r="3.6"/><circle cx="267.4" cy="18.7" r="3.6"/><circle cx="267.8" cy="19.5" r="3.6"/><circle cx="268.2" cy="18.5" r="3.6"/><circle cx="268.6" cy="17.8" r="3.6"/><circle cx="269.0" cy="17.7" r="3.6"/><circle cx="269.4" cy="19.1" r="3.6"/><circle cx="269.8" cy="18.8" r="3.6"/><circle cx="270.2" cy="19.0" r="3.6"/><circle cx="270.6" cy="21.0" r="3.6"/><circle cx="271.0" cy="20.0" r="3.6"/><circle cx="271.4" cy="18.8" r="3.6"/><circle cx="271.8" cy="16.0" r="3.6"/><circle cx="272.2" cy="22.2" r="3.6"/><circle cx="272.6" cy="17.4" r="3.6"/><circle cx="273.0" cy="15.2" r="3.6"/><circle cx="273.4" cy="18.0" r="3.6"/><circle cx="273.8" cy="19.1" r="3.6"/><circle cx="274.2" cy="17.6" r="3.6"/><circle cx="274.6" cy="18.2" r="3.6"/><circle cx="275.0" cy="17.9" r="3.6"/><circle cx="275.4" cy="19.4" r="3.6"/><circle cx="275.8" cy="21.7" r="3.6"/><circle cx="276.2" cy="18.8" r="3.6"/><circle cx="276.6" cy="19.9" r="3.6"/><circle cx="277.0" cy="18.8" r="3.6"/><circle cx="277.4" cy="17.1" r="3.6"/><circle cx="277.8" cy="16.1" r="3.6"/><circle cx="278.2" cy="17.6" r="3.6"/><circle cx="278.6" cy="16.7" r="3.6"/><circle cx="279.0" cy="19.5" r="3.6"/><circle cx="279.4" cy="19.7" r="3.6"/><circle cx="279.7" cy="21.1" r="3.6"/><circle cx="280.1" cy="20.0" r="3.6"/><circle cx="280.5" cy="19.6" r="3.6"/><circle cx="280.9" cy="19.7" r="3.6"/><circle cx="281.3" cy="17.0" r="3.6"/><circle cx="281.7" cy="18.8" r="3.6"/><circle cx="282.1" cy="19.5" r="3.6"/><circle cx="282.5" cy="18.4" r="3.6"/><circle cx="282.9" cy="18.3" r="3.6"/><circle cx="283.3" cy="19.6" r="3.6"/><circle cx="283.7" cy="20.4" r="3.6"/><circle cx="284.1" cy="17.3" r="3.6"/><circle cx="284.5" cy="18.6" r="3.6"/><circle cx="284.9" cy="20.2" r="3.6"/><circle cx="285.3" cy="18.1" r="3.6"/><circle cx="285.7" cy="18.5" r="3.6"/><circle cx="286.1" cy="18.1" r="3.6"/><circle cx="286.5" cy="18.2" r="3.6"/><circle cx="286.9" cy="18.4" r="3.6"/><circle cx="287.3" cy="17.0" r="3.6"/><circle cx="287.7" cy="19.8" r="3.6"/><circle cx="288.1" cy="19.8" r="3.6"/><circle cx="288.5" cy="18.7" r="3.6"/><circle cx="288.9" cy="18.0" r="3.6"/><circle cx="289.3" cy="17.1" r="3.6"/><circle cx="289.7" cy="20.4" r="3.6"/><circle cx="290.1" cy="16.8" r="3.6"/><circle cx="290.5" cy="18.6" r="3.6"/><circle cx="290.9" cy="19.6" r="3.6"/><circle cx="291.3" cy="19.9" r="3.6"/><circle cx="291.7" cy="18.7" r="3.6"/><circle cx="292.1" cy="15.9" r="3.6"/><circle cx="292.5" cy="19.5" r="3.6"/><circle cx="292.9" cy="18.2" r="3.6"/><circle cx="293.3" cy="17.1" r="3.6"/><circle cx="293.7" cy="18.6" r="3.6"/><circle cx="294.1" cy="18.2" r="3.6"/><circle cx="294.5" cy="17.0" r="3.6"/><circle cx="294.9" cy="18.4" r="3.6"/><circle cx="295.2" cy="19.5" r="3.6"/><circle cx="295.6" cy="16.1" r="3.6"/><circle cx="296.0" cy="17.9" r="3.6"/><circle cx="296.4" cy="16.2" r="3.6"/><circle cx="296.8" cy="18.6" r="3.6"/><circle cx="297.2" cy="18.8" r="3.6"/><circle cx="297.6" cy="20.2" r="3.6"/><circle cx="298.0" cy="18.7" r="3.6"/><circle cx="298.4" cy="18.4" r="3.6"/><circle cx="298.8" cy="19.6" r="3.6"/><circle cx="299.2" cy="21.1" r="3.6"/><circle cx="299.6" cy="20.1" r="3.6"/><circle cx="300.0" cy="19.2" r="3.6"/><circle cx="300.4" cy="18.9" r="3.6"/><circle cx="300.8" cy="16.9" r="3.6"/><circle cx="301.2" cy="18.6" r="3.6"/><circle cx="301.6" cy="18.9" r="3.6"/><circle cx="302.0" cy="18.9" r="3.6"/><circle cx="302.4" cy="21.9" r="3.6"/><circle cx="302.8" cy="17.9" r="3.6"/><circle cx="303.2" cy="19.5" r="3.6"/><circle cx="303.6" cy="20.1" r="3.6"/><circle cx="304.0" cy="20.2" r="3.6"/><circle cx="304.4" cy="21.2" r="3.6"/><circle cx="304.8" cy="18.2" r="3.6"/><circle cx="305.2" cy="20.7" r="3.6"/><circle cx="305.6" cy="17.9" r="3.6"/><circle cx="306.0" cy="18.3" r="3.6"/><circle cx="306.4" cy="16.9" r="3.6"/><circle cx="306.8" cy="18.5" r="3.6"/><circle cx="307.2" cy="18.5" r="3.6"/><circle cx="307.6" cy="19.1" r="3.6"/><circle cx="308.0" cy="18.1" r="3.6"/><circle cx="308.4" cy="19.4" r="3.6"/><circle cx="308.8" cy="20.5" r="3.6"/><circle cx="309.2" cy="17.1" r="3.6"/><circle cx="309.6" cy="18.0" r="3.6"/><circle cx="310.0" cy="17.6" r="3.6"/><circle cx="310.4" cy="21.2" r="3.6"/><circle cx="310.8" cy="16.0" r="3.6"/><circle cx="311.1" cy="20.4" r="3.6"/><circle cx="311.5" cy="18.5" r="3.6"/><circle cx="311.9" cy="18.5" r="3.6"/><circle cx="312.3" cy="20.4" r="3.6"/><circle cx="312.7" cy="20.6" r="3.6"/><circle cx="313.1" cy="18.2" r="3.6"/><circle cx="313.5" cy="18.4" r="3.6"/><circle cx="313.9" cy="19.3" r="3.6"/><circle cx="314.3" cy="17.5" r="3.6"/><circle cx="314.7" cy="19.2" r="3.6"/><circle cx="315.1" cy="16.7" r="3.6"/><circle cx="315.5" cy="17.2" r="3.6"/><circle cx="315.9" cy="19.1" r="3.6"/><circle cx="316.3" cy="17.4" r="3.6"/><circle cx="316.7" cy="18.5" r="3.6"/><circle cx="317.1" cy="19.9" r="3.6"/><circle cx="317.5" cy="17.0" r="3.6"/><circle cx="317.9" cy="18.4" r="3.6"/><circle cx="318.3" cy="19.2" r="3.6"/><circle cx="318.7" cy="17.8" r="3.6"/><circle cx="319.1" cy="18.7" r="3.6"/><circle cx="319.5" cy="17.2" r="3.6"/><circle cx="319.9" cy="18.7" r="3.6"/><circle cx="320.3" cy="18.1" r="3.6"/><circle cx="320.7" cy="17.3" r="3.6"/><circle cx="321.1" cy="18.9" r="3.6"/><circle cx="321.5" cy="15.6" r="3.6"/><circle cx="321.9" cy="19.2" r="3.6"/><circle cx="322.3" cy="20.2" r="3.6"/><circle cx="322.7" cy="16.7" r="3.6"/><circle cx="323.1" cy="17.6" r="3.6"/><circle cx="323.5" cy="19.6" r="3.6"/><circle cx="323.9" cy="19.6" r="3.6"/><circle cx="324.3" cy="18.3" r="3.6"/><circle cx="324.7" cy="19.1" r="3.6"/><circle cx="325.1" cy="18.4" r="3.6"/><circle cx="325.5" cy="17.7" r="3.6"/><circle cx="325.9" cy="20.7" r="3.6"/><circle cx="326.3" cy="16.8" r="3.6"/><circle cx="326.7" cy="20.9" r="3.6"/><circle cx="327.1" cy="19.2" r="3.6"/><circle cx="327.4" cy="19.4" r="3.6"/><circle cx="327.8" cy="17.8" r="3.6"/><circle cx="328.2" cy="19.9" r="3.6"/><circle cx="328.6" cy="20.6" r="3.6"/><circle cx="329.0" cy="18.5" r="3.6"/><circle cx="329.4" cy="20.4" r="3.6"/><circle cx="329.8" cy="18.0" r="3.6"/><circle cx="330.2" cy="19.4" r="3.6"/><circle cx="330.6" cy="19.5" r="3.6"/><circle cx="331.0" cy="21.2" r="3.6"/><circle cx="331.4" cy="18.7" r="3.6"/><circle cx="331.8" cy="17.6" r="3.6"/><circle cx="332.2" cy="19.1" r="3.6"/><circle cx="332.6" cy="18.0" r="3.6"/><circle cx="333.0" cy="16.0" r="3.6"/><circle cx="333.4" cy="16.7" r="3.6"/><circle cx="333.8" cy="16.4" r="3.6"/><circle cx="334.2" cy="19.0" r="3.6"/><circle cx="334.6" cy="18.1" r="3.6"/><circle cx="335.0" cy="17.0" r="3.6"/><circle cx="335.4" cy="19.0" r="3.6"/><circle cx="335.8" cy="18.5" r="3.6"/><circle cx="336.2" cy="19.3" r="3.6"/><circle cx="336.6" cy="20.2" r="3.6"/><circle cx="337.0" cy="17.6" r="3.6"/><circle cx="337.4" cy="17.3" r="3.6"/><circle cx="337.8" cy="17.6" r="3.6"/><circle cx="338.2" cy="19.5" r="3.6"/><circle cx="338.6" cy="19.6" r="3.6"/><circle cx="339.0" cy="18.3" r="3.6"/><circle cx="339.4" cy="18.4" r="3.6"/><circle cx="339.8" cy="20.7" r="3.6"/><circle cx="340.2" cy="19.6" r="3.6"/><circle cx="340.6" cy="19.9" r="3.6"/><circle cx="341.0" cy="17.6" r="3.6"/><circle cx="341.4" cy="17.9" r="3.6"/><circle cx="341.8" cy="19.4" r="3.6"/><circle cx="342.2" cy="19.5" r="3.6"/><circle cx="342.6" cy="19.7" r="3.6"/><circle cx="342.9" cy="19.7" r="3.6"/><circle cx="343.3" cy="17.9" r="3.6"/><circle cx="343.7" cy="17.0" r="3.6"/><circle cx="344.1" cy="22.3" r="3.6"/><circle cx="344.5" cy="18.5" r="3.6"/><circle cx="344.9" cy="17.5" r="3.6"/><circle cx="345.3" cy="16.8" r="3.6"/><circle cx="345.7" cy="17.3" r="3.6"/><circle cx="346.1" cy="17.7" r="3.6"/><circle cx="346.5" cy="20.6" r="3.6"/><circle cx="346.9" cy="18.9" r="3.6"/><circle cx="347.3" cy="21.4" r="3.6"/><circle cx="347.7" cy="17.0" r="3.6"/><circle cx="348.1" cy="20.5" r="3.6"/><circle cx="348.5" cy="17.3" r="3.6"/><circle cx="348.9" cy="19.0" r="3.6"/><circle cx="349.3" cy="18.4" r="3.6"/><circle cx="349.7" cy="17.4" r="3.6"/><circle cx="350.1" cy="18.6" r="3.6"/><circle cx="350.5" cy="19.3" r="3.6"/><circle cx="350.9" cy="17.9" r="3.6"/><circle cx="351.3" cy="17.2" r="3.6"/><circle cx="351.7" cy="19.3" r="3.6"/><circle cx="352.1" cy="19.4" r="3.6"/><circle cx="352.5" cy="18.2" r="3.6"/><circle cx="352.9" cy="18.0" r="3.6"/><circle cx="353.3" cy="20.5" r="3.6"/><circle cx="353.7" cy="18.2" r="3.6"/><circle cx="354.1" cy="15.4" r="3.6"/><circle cx="354.5" cy="17.7" r="3.6"/><circle cx="354.9" cy="20.9" r="3.6"/><circle cx="355.3" cy="19.4" r="3.6"/><circle cx="355.7" cy="18.9" r="3.6"/><circle cx="356.1" cy="18.1" r="3.6"/><circle cx="356.5" cy="19.6" r="3.6"/><circle cx="356.9" cy="18.2" r="3.6"/><circle cx="357.3" cy="18.9" r="3.6"/><circle cx="357.7" cy="19.8" r="3.6"/><circle cx="358.1" cy="20.1" r="3.6"/><circle cx="358.5" cy="18.6" r="3.6"/><circle cx="358.9" cy="20.7" r="3.6"/><circle cx="359.2" cy="16.4" r="3.6"/><circle cx="359.6" cy="17.4" r="3.6"/><circle cx="360.0" cy="21.3" r="3.6"/><circle cx="360.4" cy="17.8" r="3.6"/><circle cx="360.8" cy="14.2" r="3.6"/><circle cx="361.2" cy="19.3" r="3.6"/><circle cx="361.6" cy="18.1" r="3.6"/><circle cx="362.0" cy="18.3" r="3.6"/><circle cx="362.4" cy="19.2" r="3.6"/><circle cx="362.8" cy="18.1" r="3.6"/><circle cx="363.2" cy="17.4" r="3.6"/><circle cx="363.6" cy="16.3" r="3.6"/><circle cx="364.0" cy="20.1" r="3.6"/><circle cx="364.4" cy="21.2" r="3.6"/><circle cx="364.8" cy="18.1" r="3.6"/><circle cx="365.2" cy="16.8" r="3.6"/><circle cx="365.6" cy="21.3" r="3.6"/><circle cx="366.0" cy="17.7" r="3.6"/><circle cx="366.4" cy="18.7" r="3.6"/><circle cx="366.8" cy="18.0" r="3.6"/><circle cx="367.2" cy="19.4" r="3.6"/><circle cx="367.6" cy="18.6" r="3.6"/><circle cx="368.0" cy="23.4" r="3.6"/><circle cx="368.4" cy="17.9" r="3.6"/><circle cx="368.8" cy="20.0" r="3.6"/><circle cx="369.2" cy="18.0" r="3.6"/><circle cx="369.6" cy="19.8" r="3.6"/><circle cx="370.0" cy="17.1" r="3.6"/><circle cx="370.4" cy="17.9" r="3.6"/><circle cx="370.8" cy="20.3" r="3.6"/><circle cx="371.2" cy="20.0" r="3.6"/><circle cx="371.6" cy="17.2" r="3.6"/><circle cx="372.0" cy="18.9" r="3.6"/><circle cx="372.4" cy="16.7" r="3.6"/><circle cx="372.8" cy="18.3" r="3.6"/><circle cx="373.2" cy="17.9" r="3.6"/><circle cx="373.6" cy="19.7" r="3.6"/><circle cx="374.0" cy="18.6" r="3.6"/><circle cx="374.4" cy="19.6" r="3.6"/><circle cx="374.8" cy="21.1" r="3.6"/><circle cx="375.1" cy="19.6" r="3.6"/><circle cx="375.5" cy="20.0" r="3.6"/><circle cx="375.9" cy="17.8" r="3.6"/><circle cx="376.3" cy="16.8" r="3.6"/><circle cx="376.7" cy="19.0" r="3.6"/><circle cx="377.1" cy="19.2" r="3.6"/><circle cx="377.5" cy="17.7" r="3.6"/><circle cx="377.9" cy="18.6" r="3.6"/><circle cx="378.3" cy="19.1" r="3.6"/><circle cx="378.7" cy="19.1" r="3.6"/><circle cx="379.1" cy="15.2" r="3.6"/><circle cx="379.5" cy="16.0" r="3.6"/><circle cx="379.9" cy="20.0" r="3.6"/><circle cx="380.3" cy="20.7" r="3.6"/><circle cx="380.7" cy="20.1" r="3.6"/><circle cx="381.1" cy="20.0" r="3.6"/><circle cx="381.5" cy="19.1" r="3.6"/><circle cx="381.9" cy="19.6" r="3.6"/><circle cx="382.3" cy="18.7" r="3.6"/><circle cx="382.7" cy="19.3" r="3.6"/><circle cx="383.1" cy="18.3" r="3.6"/><circle cx="383.5" cy="21.6" r="3.6"/><circle cx="383.9" cy="17.7" r="3.6"/><circle cx="384.3" cy="20.8" r="3.6"/><circle cx="384.7" cy="19.2" r="3.6"/><circle cx="385.1" cy="17.4" r="3.6"/><circle cx="385.5" cy="20.7" r="3.6"/><circle cx="385.9" cy="21.1" r="3.6"/><circle cx="386.3" cy="18.1" r="3.6"/><circle cx="386.7" cy="18.6" r="3.6"/><circle cx="387.1" cy="17.5" r="3.6"/><circle cx="387.5" cy="19.4" r="3.6"/><circle cx="387.9" cy="21.3" r="3.6"/><circle cx="388.3" cy="20.4" r="3.6"/><circle cx="388.7" cy="19.3" r="3.6"/><circle cx="389.1" cy="18.4" r="3.6"/><circle cx="389.5" cy="18.0" r="3.6"/><circle cx="389.9" cy="19.0" r="3.6"/><circle cx="390.3" cy="19.3" r="3.6"/><circle cx="390.6" cy="18.3" r="3.6"/><circle cx="391.0" cy="19.2" r="3.6"/><circle cx="391.4" cy="18.6" r="3.6"/><circle cx="391.8" cy="16.6" r="3.6"/><circle cx="392.2" cy="18.4" r="3.6"/><circle cx="392.6" cy="20.8" r="3.6"/><circle cx="393.0" cy="17.1" r="3.6"/><circle cx="393.4" cy="17.8" r="3.6"/><circle cx="393.8" cy="17.8" r="3.6"/><circle cx="394.2" cy="19.1" r="3.6"/><circle cx="394.6" cy="18.5" r="3.6"/><circle cx="395.0" cy="18.7" r="3.6"/><circle cx="395.4" cy="17.7" r="3.6"/><circle cx="395.8" cy="18.2" r="3.6"/><circle cx="396.2" cy="17.8" r="3.6"/><circle cx="396.6" cy="19.9" r="3.6"/><circle cx="397.0" cy="20.0" r="3.6"/><circle cx="397.4" cy="19.4" r="3.6"/><circle cx="397.8" cy="18.4" r="3.6"/><circle cx="398.2" cy="19.9" r="3.6"/><circle cx="398.6" cy="19.9" r="3.6"/><circle cx="399.0" cy="18.1" r="3.6"/><circle cx="399.4" cy="18.4" r="3.6"/><circle cx="399.8" cy="20.4" r="3.6"/><circle cx="400.2" cy="16.7" r="3.6"/><circle cx="400.6" cy="19.1" r="3.6"/><circle cx="401.0" cy="21.6" r="3.6"/><circle cx="401.4" cy="21.0" r="3.6"/><circle cx="401.8" cy="19.2" r="3.6"/><circle cx="402.2" cy="17.4" r="3.6"/><circle cx="402.6" cy="19.4" r="3.6"/><circle cx="403.0" cy="20.4" r="3.6"/><circle cx="403.4" cy="18.7" r="3.6"/><circle cx="403.8" cy="18.7" r="3.6"/><circle cx="404.2" cy="20.8" r="3.6"/><circle cx="404.6" cy="20.0" r="3.6"/><circle cx="405.0" cy="17.5" r="3.6"/><circle cx="405.4" cy="20.8" r="3.6"/><circle cx="405.8" cy="19.1" r="3.6"/><circle cx="406.2" cy="16.2" r="3.6"/><circle cx="406.6" cy="17.7" r="3.6"/><circle cx="406.9" cy="19.4" r="3.6"/><circle cx="407.3" cy="18.5" r="3.6"/><circle cx="407.7" cy="19.6" r="3.6"/><circle cx="408.1" cy="18.5" r="3.6"/><circle cx="408.5" cy="16.9" r="3.6"/><circle cx="408.9" cy="18.5" r="3.6"/><circle cx="409.3" cy="17.8" r="3.6"/><circle cx="409.7" cy="19.3" r="3.6"/><circle cx="410.1" cy="18.6" r="3.6"/><circle cx="410.5" cy="18.5" r="3.6"/><circle cx="410.9" cy="17.0" r="3.6"/><circle cx="411.3" cy="20.2" r="3.6"/><circle cx="411.7" cy="18.9" r="3.6"/><circle cx="412.1" cy="18.4" r="3.6"/><circle cx="412.5" cy="18.0" r="3.6"/><circle cx="412.9" cy="20.0" r="3.6"/><circle cx="413.3" cy="19.3" r="3.6"/><circle cx="413.7" cy="14.4" r="3.6"/><circle cx="414.1" cy="17.5" r="3.6"/><circle cx="414.5" cy="20.3" r="3.6"/><circle cx="414.9" cy="20.4" r="3.6"/><circle cx="415.3" cy="19.6" r="3.6"/><circle cx="415.7" cy="17.4" r="3.6"/><circle cx="416.1" cy="16.1" r="3.6"/><circle cx="416.5" cy="18.9" r="3.6"/><circle cx="416.9" cy="18.9" r="3.6"/><circle cx="417.3" cy="16.4" r="3.6"/><circle cx="417.7" cy="18.5" r="3.6"/><circle cx="418.1" cy="21.1" r="3.6"/><circle cx="418.5" cy="17.9" r="3.6"/><circle cx="418.9" cy="18.5" r="3.6"/><circle cx="419.3" cy="17.1" r="3.6"/><circle cx="419.7" cy="18.2" r="3.6"/><circle cx="420.1" cy="16.0" r="3.6"/><circle cx="420.5" cy="19.7" r="3.6"/><circle cx="420.9" cy="19.3" r="3.6"/><circle cx="421.3" cy="18.3" r="3.6"/><circle cx="421.7" cy="20.5" r="3.6"/><circle cx="422.1" cy="19.5" r="3.6"/><circle cx="422.5" cy="19.9" r="3.6"/><circle cx="422.8" cy="17.8" r="3.6"/><circle cx="423.2" cy="17.8" r="3.6"/><circle cx="423.6" cy="18.8" r="3.6"/><circle cx="424.0" cy="20.4" r="3.6"/><circle cx="424.4" cy="16.5" r="3.6"/><circle cx="424.8" cy="16.5" r="3.6"/><circle cx="425.2" cy="18.1" r="3.6"/><circle cx="425.6" cy="18.3" r="3.6"/><circle cx="426.0" cy="18.8" r="3.6"/><circle cx="426.4" cy="16.9" r="3.6"/><circle cx="426.8" cy="19.5" r="3.6"/><circle cx="427.2" cy="18.7" r="3.6"/><circle cx="427.6" cy="19.4" r="3.6"/><circle cx="428.0" cy="17.7" r="3.6"/><circle cx="428.4" cy="17.7" r="3.6"/><circle cx="428.8" cy="17.5" r="3.6"/><circle cx="429.2" cy="17.2" r="3.6"/><circle cx="429.6" cy="18.6" r="3.6"/><circle cx="430.0" cy="18.4" r="3.6"/><circle cx="430.4" cy="16.3" r="3.6"/><circle cx="430.8" cy="19.8" r="3.6"/><circle cx="431.2" cy="19.3" r="3.6"/><circle cx="431.6" cy="18.5" r="3.6"/><circle cx="432.0" cy="19.7" r="3.6"/><circle cx="432.4" cy="19.8" r="3.6"/><circle cx="432.8" cy="20.6" r="3.6"/><circle cx="433.2" cy="18.5" r="3.6"/><circle cx="433.6" cy="16.8" r="3.6"/><circle cx="434.0" cy="18.0" r="3.6"/><circle cx="434.4" cy="18.0" r="3.6"/><circle cx="434.8" cy="19.5" r="3.6"/><circle cx="435.2" cy="19.1" r="3.6"/><circle cx="435.6" cy="16.2" r="3.6"/><circle cx="436.0" cy="19.9" r="3.6"/><circle cx="436.4" cy="18.7" r="3.6"/><circle cx="436.8" cy="18.3" r="3.6"/><circle cx="437.2" cy="18.8" r="3.6"/><circle cx="437.6" cy="18.4" r="3.6"/><circle cx="438.0" cy="17.3" r="3.6"/><circle cx="438.4" cy="18.4" r="3.6"/><circle cx="438.7" cy="17.5" r="3.6"/><circle cx="439.1" cy="18.2" r="3.6"/><circle cx="439.5" cy="19.0" r="3.6"/><circle cx="439.9" cy="16.7" r="3.6"/><circle cx="440.3" cy="18.0" r="3.6"/><circle cx="440.7" cy="16.4" r="3.6"/><circle cx="441.1" cy="18.5" r="3.6"/><circle cx="441.5" cy="16.2" r="3.6"/><circle cx="441.9" cy="18.7" r="3.6"/><circle cx="442.3" cy="21.4" r="3.6"/><circle cx="442.7" cy="17.6" r="3.6"/><circle cx="443.1" cy="18.2" r="3.6"/><circle cx="443.5" cy="18.1" r="3.6"/><circle cx="443.9" cy="18.6" r="3.6"/><circle cx="444.3" cy="18.2" r="3.6"/><circle cx="444.7" cy="19.8" r="3.6"/><circle cx="445.1" cy="18.7" r="3.6"/><circle cx="445.5" cy="19.4" r="3.6"/><circle cx="445.9" cy="21.1" r="3.6"/><circle cx="446.3" cy="16.8" r="3.6"/><circle cx="446.7" cy="17.9" r="3.6"/><circle cx="447.1" cy="16.5" r="3.6"/><circle cx="447.5" cy="17.9" r="3.6"/><circle cx="447.9" cy="17.7" r="3.6"/><circle cx="448.3" cy="19.9" r="3.6"/><circle cx="448.7" cy="21.4" r="3.6"/><circle cx="449.1" cy="18.3" r="3.6"/><circle cx="449.5" cy="18.1" r="3.6"/><circle cx="449.9" cy="19.8" r="3.6"/><circle cx="450.3" cy="18.8" r="3.6"/><circle cx="450.7" cy="18.8" r="3.6"/><circle cx="451.1" cy="19.4" r="3.6"/><circle cx="451.5" cy="18.8" r="3.6"/><circle cx="451.9" cy="18.0" r="3.6"/><circle cx="452.3" cy="19.6" r="3.6"/><circle cx="452.7" cy="18.7" r="3.6"/><circle cx="453.1" cy="19.2" r="3.6"/><circle cx="453.5" cy="20.3" r="3.6"/><circle cx="453.9" cy="18.7" r="3.6"/><circle cx="454.2" cy="15.3" r="3.6"/><circle cx="454.6" cy="18.3" r="3.6"/><circle cx="455.0" cy="17.9" r="3.6"/><circle cx="455.4" cy="18.1" r="3.6"/><circle cx="455.8" cy="17.1" r="3.6"/><circle cx="456.2" cy="17.6" r="3.6"/><circle cx="456.6" cy="20.1" r="3.6"/><circle cx="457.0" cy="19.7" r="3.6"/><circle cx="457.4" cy="16.6" r="3.6"/><circle cx="457.8" cy="17.1" r="3.6"/><circle cx="458.2" cy="17.6" r="3.6"/><circle cx="458.6" cy="17.7" r="3.6"/><circle cx="459.0" cy="17.8" r="3.6"/><circle cx="459.4" cy="17.8" r="3.6"/><circle cx="459.8" cy="18.3" r="3.6"/><circle cx="460.2" cy="19.3" r="3.6"/><circle cx="460.6" cy="17.5" r="3.6"/><circle cx="461.0" cy="16.6" r="3.6"/><circle cx="461.4" cy="20.9" r="3.6"/><circle cx="461.8" cy="17.5" r="3.6"/><circle cx="462.2" cy="16.6" r="3.6"/><circle cx="462.6" cy="19.6" r="3.6"/><circle cx="463.0" cy="19.4" r="3.6"/><circle cx="463.4" cy="17.5" r="3.6"/><circle cx="463.8" cy="16.7" r="3.6"/><circle cx="464.2" cy="20.0" r="3.6"/><circle cx="464.6" cy="22.0" r="3.6"/><circle cx="465.0" cy="19.1" r="3.6"/><circle cx="465.4" cy="20.4" r="3.6"/><circle cx="465.8" cy="17.9" r="3.6"/><circle cx="466.2" cy="17.5" r="3.6"/><circle cx="466.6" cy="18.1" r="3.6"/><circle cx="467.0" cy="16.5" r="3.6"/><circle cx="467.4" cy="16.1" r="3.6"/><circle cx="467.8" cy="20.3" r="3.6"/><circle cx="468.2" cy="20.5" r="3.6"/><circle cx="468.6" cy="16.9" r="3.6"/><circle cx="469.0" cy="18.3" r="3.6"/><circle cx="469.4" cy="19.0" r="3.6"/><circle cx="469.8" cy="17.1" r="3.6"/><circle cx="470.1" cy="18.7" r="3.6"/><circle cx="470.5" cy="17.1" r="3.6"/><circle cx="470.9" cy="19.0" r="3.6"/><circle cx="471.3" cy="17.6" r="3.6"/><circle cx="471.7" cy="21.5" r="3.6"/><circle cx="472.1" cy="20.6" r="3.6"/><circle cx="472.5" cy="20.3" r="3.6"/><circle cx="472.9" cy="18.4" r="3.6"/><circle cx="473.3" cy="18.0" r="3.6"/><circle cx="473.7" cy="17.9" r="3.6"/><circle cx="474.1" cy="18.7" r="3.6"/><circle cx="474.5" cy="18.2" r="3.6"/><circle cx="474.9" cy="20.0" r="3.6"/><circle cx="475.3" cy="19.8" r="3.6"/><circle cx="475.7" cy="19.1" r="3.6"/><circle cx="476.1" cy="20.1" r="3.6"/><circle cx="476.5" cy="19.8" r="3.6"/><circle cx="476.9" cy="18.5" r="3.6"/><circle cx="477.3" cy="20.0" r="3.6"/><circle cx="477.7" cy="24.1" r="3.6"/><circle cx="478.1" cy="16.6" r="3.6"/><circle cx="478.5" cy="20.2" r="3.6"/><circle cx="478.9" cy="19.3" r="3.6"/><circle cx="479.3" cy="19.4" r="3.6"/><circle cx="479.7" cy="16.6" r="3.6"/><circle cx="480.1" cy="17.8" r="3.6"/><circle cx="480.5" cy="19.8" r="3.6"/><circle cx="480.9" cy="20.7" r="3.6"/><circle cx="481.3" cy="17.9" r="3.6"/><circle cx="481.7" cy="16.6" r="3.6"/><circle cx="482.1" cy="19.3" r="3.6"/><circle cx="482.5" cy="19.9" r="3.6"/><circle cx="482.9" cy="17.1" r="3.6"/><circle cx="483.3" cy="18.0" r="3.6"/><circle cx="483.7" cy="20.2" r="3.6"/><circle cx="484.1" cy="18.6" r="3.6"/><circle cx="484.5" cy="20.2" r="3.6"/><circle cx="484.9" cy="18.1" r="3.6"/><circle cx="485.3" cy="18.5" r="3.6"/><circle cx="485.7" cy="20.5" r="3.6"/><circle cx="486.1" cy="17.1" r="3.6"/><circle cx="486.4" cy="19.1" r="3.6"/><circle cx="486.8" cy="17.5" r="3.6"/><circle cx="487.2" cy="20.0" r="3.6"/><circle cx="487.6" cy="20.8" r="3.6"/><circle cx="488.0" cy="18.2" r="3.6"/><circle cx="488.4" cy="19.9" r="3.6"/><circle cx="488.8" cy="19.2" r="3.6"/><circle cx="489.2" cy="17.8" r="3.6"/><circle cx="489.6" cy="20.0" r="3.6"/><circle cx="490.0" cy="19.0" r="3.6"/><circle cx="490.4" cy="18.0" r="3.6"/><circle cx="490.8" cy="16.2" r="3.6"/><circle cx="491.2" cy="17.2" r="3.6"/><circle cx="491.6" cy="17.0" r="3.6"/><circle cx="492.0" cy="21.6" r="3.6"/><circle cx="492.4" cy="18.6" r="3.6"/><circle cx="492.8" cy="18.8" r="3.6"/><circle cx="493.2" cy="21.7" r="3.6"/><circle cx="493.6" cy="18.7" r="3.6"/><circle cx="494.0" cy="17.1" r="3.6"/><circle cx="494.4" cy="18.7" r="3.6"/><circle cx="494.8" cy="19.7" r="3.6"/><circle cx="495.2" cy="17.9" r="3.6"/><circle cx="495.6" cy="16.9" r="3.6"/><circle cx="496.0" cy="19.4" r="3.6"/><circle cx="496.4" cy="19.7" r="3.6"/><circle cx="496.8" cy="17.8" r="3.6"/><circle cx="497.2" cy="16.3" r="3.6"/><circle cx="497.6" cy="21.1" r="3.6"/><circle cx="498.0" cy="21.8" r="3.6"/><circle cx="498.4" cy="21.8" r="3.6"/><circle cx="498.8" cy="18.4" r="3.6"/><circle cx="499.2" cy="19.5" r="3.6"/><circle cx="499.6" cy="18.0" r="3.6"/><circle cx="500.0" cy="20.1" r="3.6"/><circle cx="500.4" cy="19.6" r="3.6"/><circle cx="500.8" cy="21.0" r="3.6"/><circle cx="501.2" cy="19.4" r="3.6"/><circle cx="501.6" cy="18.4" r="3.6"/><circle cx="502.0" cy="19.6" r="3.6"/><circle cx="502.3" cy="18.8" r="3.6"/><circle cx="502.7" cy="19.7" r="3.6"/><circle cx="503.1" cy="19.5" r="3.6"/><circle cx="503.5" cy="17.4" r="3.6"/><circle cx="503.9" cy="18.4" r="3.6"/><circle cx="504.3" cy="18.8" r="3.6"/><circle cx="504.7" cy="18.8" r="3.6"/><circle cx="505.1" cy="20.4" r="3.6"/><circle cx="505.5" cy="19.7" r="3.6"/><circle cx="505.9" cy="19.7" r="3.6"/><circle cx="506.3" cy="19.1" r="3.6"/><circle cx="506.7" cy="17.0" r="3.6"/><circle cx="507.1" cy="18.8" r="3.6"/><circle cx="507.5" cy="17.5" r="3.6"/><circle cx="507.9" cy="16.9" r="3.6"/><circle cx="508.3" cy="18.0" r="3.6"/><circle cx="508.7" cy="17.3" r="3.6"/><circle cx="509.1" cy="18.6" r="3.6"/><circle cx="509.5" cy="19.2" r="3.6"/><circle cx="509.9" cy="19.7" r="3.6"/><circle cx="510.3" cy="16.9" r="3.6"/><circle cx="510.7" cy="18.8" r="3.6"/><circle cx="511.1" cy="18.1" r="3.6"/><circle cx="511.5" cy="19.6" r="3.6"/><circle cx="511.9" cy="17.6" r="3.6"/><circle cx="512.3" cy="17.4" r="3.6"/><circle cx="512.7" cy="19.8" r="3.6"/><circle cx="513.1" cy="19.5" r="3.6"/><circle cx="513.5" cy="19.4" r="3.6"/><circle cx="513.9" cy="18.0" r="3.6"/><circle cx="514.3" cy="19.6" r="3.6"/><circle cx="514.7" cy="19.3" r="3.6"/><circle cx="515.1" cy="17.0" r="3.6"/><circle cx="515.5" cy="17.8" r="3.6"/><circle cx="515.9" cy="19.0" r="3.6"/><circle cx="516.3" cy="18.5" r="3.6"/><circle cx="516.7" cy="17.6" r="3.6"/><circle cx="517.1" cy="18.5" r="3.6"/><circle cx="517.5" cy="19.7" r="3.6"/><circle cx="517.9" cy="17.4" r="3.6"/><circle cx="518.2" cy="15.5" r="3.6"/><circle cx="518.6" cy="17.5" r="3.6"/><circle cx="519.0" cy="17.7" r="3.6"/><circle cx="519.4" cy="18.1" r="3.6"/><circle cx="519.8" cy="18.5" r="3.6"/><circle cx="520.2" cy="18.7" r="3.6"/><circle cx="520.6" cy="17.9" r="3.6"/><circle cx="521.0" cy="16.8" r="3.6"/><circle cx="521.4" cy="18.3" r="3.6"/><circle cx="521.8" cy="18.9" r="3.6"/><circle cx="522.2" cy="19.3" r="3.6"/><circle cx="522.6" cy="17.7" r="3.6"/><circle cx="523.0" cy="17.7" r="3.6"/><circle cx="523.4" cy="18.1" r="3.6"/><circle cx="523.8" cy="17.7" r="3.6"/><circle cx="524.2" cy="17.9" r="3.6"/><circle cx="524.6" cy="19.0" r="3.6"/><circle cx="525.0" cy="18.5" r="3.6"/><circle cx="525.4" cy="17.3" r="3.6"/><circle cx="525.8" cy="18.9" r="3.6"/><circle cx="526.2" cy="15.9" r="3.6"/><circle cx="526.6" cy="18.7" r="3.6"/><circle cx="527.0" cy="16.9" r="3.6"/><circle cx="527.4" cy="17.6" r="3.6"/><circle cx="527.8" cy="17.6" r="3.6"/><circle cx="528.2" cy="18.6" r="3.6"/><circle cx="528.6" cy="20.0" r="3.6"/><circle cx="529.0" cy="19.2" r="3.6"/><circle cx="529.4" cy="17.5" r="3.6"/><circle cx="529.8" cy="18.0" r="3.6"/><circle cx="530.2" cy="19.7" r="3.6"/><circle cx="530.6" cy="19.9" r="3.6"/><circle cx="531.0" cy="19.2" r="3.6"/><circle cx="531.4" cy="17.7" r="3.6"/><circle cx="531.8" cy="18.3" r="3.6"/><circle cx="532.2" cy="19.0" r="3.6"/><circle cx="532.6" cy="19.8" r="3.6"/><circle cx="533.0" cy="18.3" r="3.6"/><circle cx="533.4" cy="21.4" r="3.6"/><circle cx="533.8" cy="18.8" r="3.6"/><circle cx="534.1" cy="18.4" r="3.6"/><circle cx="534.5" cy="19.5" r="3.6"/><circle cx="534.9" cy="17.6" r="3.6"/><circle cx="535.3" cy="18.7" r="3.6"/><circle cx="535.7" cy="16.2" r="3.6"/><circle cx="536.1" cy="18.5" r="3.6"/><circle cx="536.5" cy="18.1" r="3.6"/><circle cx="536.9" cy="18.8" r="3.6"/><circle cx="537.3" cy="19.1" r="3.6"/><circle cx="537.7" cy="18.4" r="3.6"/><circle cx="538.1" cy="17.7" r="3.6"/><circle cx="538.5" cy="19.4" r="3.6"/><circle cx="538.9" cy="17.0" r="3.6"/><circle cx="539.3" cy="20.6" r="3.6"/><circle cx="539.7" cy="19.6" r="3.6"/><circle cx="540.1" cy="22.9" r="3.6"/><circle cx="540.5" cy="17.6" r="3.6"/><circle cx="540.9" cy="20.7" r="3.6"/><circle cx="541.3" cy="17.6" r="3.6"/><circle cx="541.7" cy="20.2" r="3.6"/><circle cx="542.1" cy="16.9" r="3.6"/><circle cx="542.5" cy="17.2" r="3.6"/><circle cx="542.9" cy="18.7" r="3.6"/><circle cx="543.3" cy="19.3" r="3.6"/><circle cx="543.7" cy="18.8" r="3.6"/><circle cx="544.1" cy="21.2" r="3.6"/><circle cx="544.5" cy="17.4" r="3.6"/><circle cx="544.9" cy="19.2" r="3.6"/><circle cx="545.3" cy="18.9" r="3.6"/><circle cx="545.7" cy="21.2" r="3.6"/><circle cx="546.1" cy="16.8" r="3.6"/><circle cx="546.5" cy="18.0" r="3.6"/><circle cx="546.9" cy="18.1" r="3.6"/><circle cx="547.3" cy="19.0" r="3.6"/><circle cx="547.7" cy="19.4" r="3.6"/><circle cx="548.1" cy="21.0" r="3.6"/><circle cx="548.5" cy="16.9" r="3.6"/><circle cx="548.9" cy="19.1" r="3.6"/><circle cx="549.3" cy="17.6" r="3.6"/><circle cx="549.7" cy="18.3" r="3.6"/><circle cx="550.0" cy="19.0" r="3.6"/><circle cx="550.4" cy="18.1" r="3.6"/><circle cx="550.8" cy="18.7" r="3.6"/><circle cx="551.2" cy="17.8" r="3.6"/><circle cx="551.6" cy="17.6" r="3.6"/><circle cx="552.0" cy="19.2" r="3.6"/><circle cx="552.4" cy="17.7" r="3.6"/><circle cx="552.8" cy="17.4" r="3.6"/><circle cx="553.2" cy="20.9" r="3.6"/><circle cx="553.6" cy="19.4" r="3.6"/><circle cx="554.0" cy="19.9" r="3.6"/><circle cx="554.4" cy="19.6" r="3.6"/><circle cx="554.8" cy="17.9" r="3.6"/><circle cx="555.2" cy="18.0" r="3.6"/><circle cx="555.6" cy="17.7" r="3.6"/><circle cx="556.0" cy="18.3" r="3.6"/><circle cx="556.4" cy="19.3" r="3.6"/><circle cx="556.8" cy="18.5" r="3.6"/><circle cx="557.2" cy="19.2" r="3.6"/><circle cx="557.6" cy="10.8" r="3.6"/><circle cx="558.0" cy="18.8" r="3.6"/><circle cx="558.4" cy="19.5" r="3.6"/><circle cx="558.8" cy="22.3" r="3.6"/><circle cx="559.2" cy="20.1" r="3.6"/><circle cx="559.6" cy="18.6" r="3.6"/><circle cx="560.0" cy="15.8" r="3.6"/><circle cx="560.4" cy="18.6" r="3.6"/><circle cx="560.8" cy="17.0" r="3.6"/><circle cx="561.2" cy="19.5" r="3.6"/><circle cx="561.6" cy="18.5" r="3.6"/><circle cx="562.0" cy="18.5" r="3.6"/><circle cx="562.4" cy="19.0" r="3.6"/><circle cx="562.8" cy="17.9" r="3.6"/><circle cx="563.2" cy="18.0" r="3.6"/><circle cx="563.6" cy="19.1" r="3.6"/><circle cx="564.0" cy="18.8" r="3.6"/><circle cx="564.4" cy="19.9" r="3.6"/><circle cx="564.8" cy="19.3" r="3.6"/><circle cx="565.2" cy="17.6" r="3.6"/><circle cx="565.5" cy="18.3" r="3.6"/><circle cx="565.9" cy="19.6" r="3.6"/><circle cx="566.3" cy="20.4" r="3.6"/><circle cx="566.7" cy="20.5" r="3.6"/><circle cx="567.1" cy="17.3" r="3.6"/><circle cx="567.5" cy="19.3" r="3.6"/><circle cx="567.9" cy="19.3" r="3.6"/><circle cx="568.3" cy="17.1" r="3.6"/><circle cx="568.7" cy="18.0" r="3.6"/><circle cx="569.1" cy="17.5" r="3.6"/><circle cx="569.5" cy="17.4" r="3.6"/><circle cx="569.9" cy="18.4" r="3.6"/><circle cx="570.3" cy="16.2" r="3.6"/><circle cx="570.7" cy="18.7" r="3.6"/><circle cx="571.1" cy="19.7" r="3.6"/><circle cx="571.5" cy="18.2" r="3.6"/><circle cx="571.9" cy="19.8" r="3.6"/><circle cx="572.3" cy="18.2" r="3.6"/><circle cx="572.7" cy="17.4" r="3.6"/><circle cx="573.1" cy="21.3" r="3.6"/><circle cx="573.5" cy="20.3" r="3.6"/><circle cx="573.9" cy="18.1" r="3.6"/><circle cx="574.3" cy="17.7" r="3.6"/><circle cx="574.7" cy="18.1" r="3.6"/><circle cx="575.1" cy="16.5" r="3.6"/><circle cx="575.5" cy="20.2" r="3.6"/><circle cx="575.9" cy="20.5" r="3.6"/><circle cx="576.3" cy="20.4" r="3.6"/><circle cx="576.7" cy="19.6" r="3.6"/><circle cx="577.1" cy="19.4" r="3.6"/><circle cx="577.5" cy="20.6" r="3.6"/><circle cx="577.9" cy="18.5" r="3.6"/><circle cx="578.3" cy="18.5" r="3.6"/><circle cx="578.7" cy="18.9" r="3.6"/><circle cx="579.1" cy="19.3" r="3.6"/><circle cx="579.5" cy="18.5" r="3.6"/><circle cx="579.9" cy="19.9" r="3.6"/><circle cx="580.3" cy="19.4" r="3.6"/><circle cx="580.7" cy="19.2" r="3.6"/><circle cx="581.1" cy="18.3" r="3.6"/><circle cx="581.5" cy="19.3" r="3.6"/><circle cx="581.8" cy="18.9" r="3.6"/><circle cx="582.2" cy="17.4" r="3.6"/><circle cx="582.6" cy="17.8" r="3.6"/><circle cx="583.0" cy="19.6" r="3.6"/><circle cx="583.4" cy="19.0" r="3.6"/><circle cx="583.8" cy="20.5" r="3.6"/><circle cx="584.2" cy="18.9" r="3.6"/><circle cx="584.6" cy="17.5" r="3.6"/><circle cx="585.0" cy="18.1" r="3.6"/><circle cx="585.4" cy="19.2" r="3.6"/><circle cx="585.8" cy="20.9" r="3.6"/><circle cx="586.2" cy="18.8" r="3.6"/><circle cx="586.6" cy="19.3" r="3.6"/><circle cx="587.0" cy="17.1" r="3.6"/><circle cx="587.4" cy="15.8" r="3.6"/><circle cx="587.8" cy="17.2" r="3.6"/><circle cx="588.2" cy="17.0" r="3.6"/><circle cx="588.6" cy="18.9" r="3.6"/><circle cx="589.0" cy="18.6" r="3.6"/><circle cx="589.4" cy="19.4" r="3.6"/><circle cx="589.8" cy="16.8" r="3.6"/><circle cx="590.2" cy="20.7" r="3.6"/><circle cx="590.6" cy="20.6" r="3.6"/><circle cx="591.0" cy="18.2" r="3.6"/><circle cx="591.4" cy="19.3" r="3.6"/><circle cx="591.8" cy="18.6" r="3.6"/><circle cx="592.2" cy="20.7" r="3.6"/><circle cx="592.6" cy="20.2" r="3.6"/><circle cx="593.0" cy="17.2" r="3.6"/><circle cx="593.4" cy="17.0" r="3.6"/><circle cx="593.8" cy="18.2" r="3.6"/><circle cx="594.2" cy="18.5" r="3.6"/><circle cx="594.6" cy="19.3" r="3.6"/><circle cx="595.0" cy="18.8" r="3.6"/><circle cx="595.4" cy="17.9" r="3.6"/><circle cx="595.8" cy="19.3" r="3.6"/><circle cx="596.2" cy="19.0" r="3.6"/><circle cx="596.6" cy="18.5" r="3.6"/><circle cx="597.0" cy="19.5" r="3.6"/><circle cx="597.4" cy="19.2" r="3.6"/><circle cx="597.7" cy="19.9" r="3.6"/><circle cx="598.1" cy="20.7" r="3.6"/><circle cx="598.5" cy="19.2" r="3.6"/><circle cx="598.9" cy="17.5" r="3.6"/><circle cx="599.3" cy="18.6" r="3.6"/><circle cx="599.7" cy="17.1" r="3.6"/><circle cx="600.1" cy="20.4" r="3.6"/><circle cx="600.5" cy="17.9" r="3.6"/><circle cx="600.9" cy="20.5" r="3.6"/><circle cx="601.3" cy="17.3" r="3.6"/><circle cx="601.7" cy="16.6" r="3.6"/><circle cx="602.1" cy="19.1" r="3.6"/><circle cx="602.5" cy="19.1" r="3.6"/><circle cx="602.9" cy="17.3" r="3.6"/><circle cx="603.3" cy="19.8" r="3.6"/><circle cx="603.7" cy="19.7" r="3.6"/><circle cx="604.1" cy="17.6" r="3.6"/><circle cx="604.5" cy="18.8" r="3.6"/><circle cx="604.9" cy="18.6" r="3.6"/><circle cx="605.3" cy="17.3" r="3.6"/><circle cx="605.7" cy="18.5" r="3.6"/><circle cx="606.1" cy="17.5" r="3.6"/><circle cx="606.5" cy="17.2" r="3.6"/><circle cx="606.9" cy="19.8" r="3.6"/><circle cx="607.3" cy="18.7" r="3.6"/><circle cx="607.7" cy="14.8" r="3.6"/><circle cx="608.1" cy="19.8" r="3.6"/><circle cx="608.5" cy="18.4" r="3.6"/><circle cx="608.9" cy="21.4" r="3.6"/><circle cx="609.3" cy="19.6" r="3.6"/><circle cx="609.7" cy="19.7" r="3.6"/><circle cx="610.1" cy="16.6" r="3.6"/><circle cx="610.5" cy="21.0" r="3.6"/><circle cx="610.9" cy="18.5" r="3.6"/><circle cx="611.3" cy="20.9" r="3.6"/><circle cx="611.7" cy="19.7" r="3.6"/><circle cx="612.1" cy="17.4" r="3.6"/><circle cx="612.5" cy="19.3" r="3.6"/><circle cx="612.9" cy="17.7" r="3.6"/><circle cx="613.2" cy="19.4" r="3.6"/><circle cx="613.6" cy="18.0" r="3.6"/><circle cx="614.0" cy="18.6" r="3.6"/><circle cx="614.4" cy="18.6" r="3.6"/><circle cx="614.8" cy="20.3" r="3.6"/><circle cx="615.2" cy="18.2" r="3.6"/><circle cx="615.6" cy="17.7" r="3.6"/><circle cx="616.0" cy="18.3" r="3.6"/><circle cx="616.4" cy="21.7" r="3.6"/><circle cx="616.8" cy="19.7" r="3.6"/><circle cx="617.2" cy="19.2" r="3.6"/><circle cx="617.6" cy="19.0" r="3.6"/><circle cx="618.0" cy="17.5" r="3.6"/><circle cx="618.4" cy="18.8" r="3.6"/><circle cx="618.8" cy="18.4" r="3.6"/><circle cx="619.2" cy="19.1" r="3.6"/><circle cx="619.6" cy="18.9" r="3.6"/><circle cx="620.0" cy="17.7" r="3.6"/><circle cx="620.4" cy="19.0" r="3.6"/><circle cx="620.8" cy="16.7" r="3.6"/><circle cx="621.2" cy="18.2" r="3.6"/><circle cx="621.6" cy="17.0" r="3.6"/><circle cx="622.0" cy="18.0" r="3.6"/><circle cx="622.4" cy="16.7" r="3.6"/><circle cx="622.8" cy="16.6" r="3.6"/><circle cx="623.2" cy="17.6" r="3.6"/><circle cx="623.6" cy="18.2" r="3.6"/><circle cx="624.0" cy="18.1" r="3.6"/><circle cx="624.4" cy="20.6" r="3.6"/><circle cx="624.8" cy="21.0" r="3.6"/><circle cx="625.2" cy="18.7" r="3.6"/><circle cx="625.6" cy="20.6" r="3.6"/><circle cx="626.0" cy="19.0" r="3.6"/><circle cx="626.4" cy="18.3" r="3.6"/><circle cx="626.8" cy="19.6" r="3.6"/><circle cx="627.2" cy="19.6" r="3.6"/><circle cx="627.6" cy="18.8" r="3.6"/><circle cx="628.0" cy="17.3" r="3.6"/><circle cx="628.4" cy="22.3" r="3.6"/><circle cx="628.8" cy="20.3" r="3.6"/><circle cx="629.2" cy="18.9" r="3.6"/><circle cx="629.5" cy="19.9" r="3.6"/><circle cx="629.9" cy="17.3" r="3.6"/><circle cx="630.3" cy="17.0" r="3.6"/><circle cx="630.7" cy="20.2" r="3.6"/><circle cx="631.1" cy="18.0" r="3.6"/><circle cx="631.5" cy="19.7" r="3.6"/><circle cx="631.9" cy="20.2" r="3.6"/><circle cx="632.3" cy="18.8" r="3.6"/><circle cx="632.7" cy="16.7" r="3.6"/><circle cx="633.1" cy="19.6" r="3.6"/><circle cx="633.5" cy="16.6" r="3.6"/><circle cx="633.9" cy="19.0" r="3.6"/><circle cx="634.3" cy="17.2" r="3.6"/><circle cx="634.7" cy="17.2" r="3.6"/><circle cx="635.1" cy="18.6" r="3.6"/><circle cx="635.5" cy="21.3" r="3.6"/><circle cx="635.9" cy="15.7" r="3.6"/><circle cx="636.3" cy="18.5" r="3.6"/><circle cx="636.7" cy="18.6" r="3.6"/><circle cx="637.1" cy="20.4" r="3.6"/><circle cx="637.5" cy="18.7" r="3.6"/><circle cx="637.9" cy="19.2" r="3.6"/><circle cx="638.3" cy="18.2" r="3.6"/><circle cx="638.7" cy="18.0" r="3.6"/><circle cx="639.1" cy="19.1" r="3.6"/><circle cx="639.5" cy="18.6" r="3.6"/><circle cx="639.9" cy="15.0" r="3.6"/><circle cx="640.3" cy="20.0" r="3.6"/><circle cx="640.7" cy="16.8" r="3.6"/><circle cx="641.1" cy="18.2" r="3.6"/><circle cx="641.5" cy="19.1" r="3.6"/><circle cx="641.9" cy="19.5" r="3.6"/><circle cx="642.3" cy="19.8" r="3.6"/><circle cx="642.7" cy="20.0" r="3.6"/><circle cx="643.1" cy="19.3" r="3.6"/><circle cx="643.5" cy="19.4" r="3.6"/><circle cx="643.9" cy="19.4" r="3.6"/><circle cx="644.3" cy="19.6" r="3.6"/><circle cx="644.7" cy="18.3" r="3.6"/><circle cx="645.0" cy="19.4" r="3.6"/><circle cx="645.4" cy="19.6" r="3.6"/><circle cx="645.8" cy="19.4" r="3.6"/><circle cx="646.2" cy="19.1" r="3.6"/><circle cx="646.6" cy="19.0" r="3.6"/><circle cx="647.0" cy="16.5" r="3.6"/><circle cx="647.4" cy="19.5" r="3.6"/><circle cx="647.8" cy="17.4" r="3.6"/><circle cx="648.2" cy="19.5" r="3.6"/><circle cx="648.6" cy="20.4" r="3.6"/><circle cx="649.0" cy="18.1" r="3.6"/><circle cx="649.4" cy="19.3" r="3.6"/><circle cx="649.8" cy="18.2" r="3.6"/><circle cx="650.2" cy="21.3" r="3.6"/><circle cx="650.6" cy="17.6" r="3.6"/><circle cx="651.0" cy="18.8" r="3.6"/><circle cx="651.4" cy="18.6" r="3.6"/><circle cx="651.8" cy="18.8" r="3.6"/><circle cx="652.2" cy="18.8" r="3.6"/><circle cx="652.6" cy="19.3" r="3.6"/><circle cx="653.0" cy="17.7" r="3.6"/></g>
<g fill="#fff" stroke="#3fb9c8" stroke-width="0.7" clip-path="url(#cb)"><circle cx="520.3" cy="33.3" r="3.6"/><circle cx="508" cy="30.8" r="3.6"/></g>
<g clip-path="url(#cb)">
<polyline points="255.9,64.1 257.5,64.2 259.1,64.3 260.7,63.9 262.3,64.1 263.8,64.4 265.4,64.4 267.0,64.1 268.6,64.4 270.2,64.3 271.8,64.5 273.4,64.4 275.0,64.4 276.6,65.0 278.2,64.9 279.7,65.3 281.3,65.2 282.9,65.5 284.5,65.5 286.1,65.9 287.7,65.9 289.3,66.4 290.9,66.3 292.5,66.8 294.1,66.8 295.6,66.9 297.2,67.4 298.8,67.8 300.4,68.4 302.0,68.5 303.6,68.8 305.2,69.6 306.8,69.9 308.4,70.2 310.0,70.3 311.5,70.7 313.1,71.1 314.7,71.3 316.3,71.7 317.9,72.4 319.5,72.8 321.1,73.3 322.7,73.6 324.3,73.9 325.9,74.6 327.4,75.0 329.0,75.4 330.6,75.9 332.2,76.3 333.8,76.9 335.4,77.3 337.0,77.9 338.6,78.3 340.2,78.9 341.8,79.6 343.3,80.5 344.9,80.8 346.5,81.4 348.1,82.0 349.7,82.5 351.3,83.6 352.9,83.7 354.5,84.6 356.1,85.2 357.7,85.3 359.2,85.9 360.8,86.2 362.4,86.6 364.0,87.0 365.6,87.4 367.2,88.2 368.8,88.6 370.4,89.1 372.0,89.1 373.6,89.8 375.1,90.0 376.7,90.5 378.3,90.8 379.9,91.0 381.5,91.6 383.1,91.5 384.7,92.2 386.3,92.5 387.9,92.7 389.5,93.0 391.0,93.6 392.6,93.5 394.2,94.0 395.8,94.4 397.4,94.5 399.0,94.9 400.6,95.0 402.2,95.3 403.8,95.6 405.4,95.9 406.9,96.0 408.5,96.4 410.1,96.7 411.7,96.8 413.3,97.2 414.9,97.3 416.5,97.9 418.1,97.9 419.7,98.3 421.3,98.4 422.8,98.6 424.4,98.7 426.0,99.0 427.6,99.6 429.2,99.6 430.8,99.9 432.4,100.1 434.0,100.5 435.6,100.4 437.2,100.6 438.7,101.1 440.3,101.1 441.9,101.4 443.5,101.6 445.1,101.9 446.7,102.0 448.3,101.8 449.9,102.2 451.5,102.6 453.1,102.7 454.6,102.6 456.2,102.8 457.8,103.0 459.4,103.1 461.0,103.4 462.6,103.8 464.2,103.9 465.8,104.0 467.4,104.0 469.0,104.3 470.5,104.8 472.1,104.8 473.7,104.9 475.3,105.1 476.9,105.4 478.5,105.6 480.1,105.5 481.7,105.9 483.3,105.9 484.9,106.2 486.4,106.2 488.0,106.5 489.6,106.6 491.2,106.8 492.8,106.8 494.4,107.1 496.0,107.4 497.6,107.3 499.2,107.5 500.8,107.9 502.3,107.8 503.9,108.0 505.5,108.0 507.1,108.5 508.7,108.2 510.3,108.6 511.9,108.9 513.5,108.7 515.1,108.9 516.7,109.3 518.2,109.3 519.8,109.3 521.4,109.3 523.0,109.6 524.6,109.7 526.2,110.0 527.8,109.9 529.4,110.1 531.0,110.4 532.6,110.6 534.1,110.5 535.7,110.7 537.3,110.9 538.9,111.2 540.5,111.0 542.1,111.5 543.7,111.5 545.3,112.1 546.9,112.9 548.5,113.5 550.0,113.9 551.6,114.3 553.2,114.2 554.8,114.3 556.4,114.3 558.0,114.6 559.6,114.6 561.2,114.2 562.8,114.6 564.4,114.6 565.9,114.6 567.5,114.9 569.1,114.7 570.7,114.8 572.3,115.0 573.9,114.9 575.5,114.9 577.1,115.0 578.7,115.2 580.3,115.1 581.8,115.2 583.4,115.1 585.0,114.9 586.6,115.3 588.2,115.2 589.8,115.4 591.4,115.4 593.0,115.1 594.6,115.2 596.2,115.2 597.7,115.6 599.3,115.3 600.9,115.3 602.5,115.7 604.1,115.6 605.7,115.4 607.3,115.7 608.9,115.8 610.5,115.7 612.1,115.5 613.6,115.9 615.2,115.8 616.8,115.9 618.4,116.1 620.0,116.1 621.6,116.1 623.2,115.8 624.8,115.9 626.4,116.1 628.0,115.8 629.5,116.4 631.1,116.0 632.7,116.1 634.3,116.1 635.9,116.1 637.5,116.5 639.1,116.4 640.7,116.4 642.3,116.4 643.9,116.2 645.4,116.4 647.0,116.7 648.6,116.7 650.2,116.7 651.8,116.5" fill="none" stroke="#fb416b" stroke-width="8.8" stroke-linejoin="round" stroke-linecap="round"/>
<polyline points="255.9,59.0 257.5,59.0 259.1,59.2 260.7,59.2 262.3,59.2 263.8,59.3 265.4,59.3 267.0,59.2 268.6,59.5 270.2,59.2 271.8,59.6 273.4,59.4 275.0,59.2 276.6,59.3 278.2,59.5 279.7,59.4 281.3,59.5 282.9,59.4 284.5,59.4 286.1,59.7 287.7,59.5 289.3,59.7 290.9,59.7 292.5,59.7 294.1,59.6 295.6,59.9 297.2,59.6 298.8,59.9 300.4,59.5 302.0,59.7 303.6,59.8 305.2,59.6 306.8,60.0 308.4,59.6 310.0,59.9 311.5,59.7 313.1,60.1 314.7,59.9 316.3,60.1 317.9,59.9 319.5,60.0 321.1,60.1 322.7,59.9 324.3,59.9 325.9,60.2 327.4,59.9 329.0,60.3 330.6,59.9 332.2,59.9 333.8,59.9 335.4,60.3 337.0,60.4 338.6,60.1 340.2,60.3 341.8,60.1 343.3,60.5 344.9,60.4 346.5,60.1 348.1,60.1 349.7,60.4 351.3,60.1 352.9,60.5 354.5,60.3 356.1,60.3 357.7,60.5 359.2,60.4 360.8,60.5 362.4,60.3 364.0,60.7 365.6,60.4 367.2,60.7 368.8,60.4 370.4,60.7 372.0,60.8 373.6,60.6 375.1,60.4 376.7,60.6 378.3,60.8 379.9,60.6 381.5,60.7 383.1,60.5 384.7,60.7 386.3,60.9 387.9,60.8 389.5,60.9 391.0,60.7 392.6,61.0 394.2,60.7 395.8,61.1 397.4,61.2 399.0,61.2 400.6,61.0 402.2,60.9 403.8,60.9 405.4,61.1 406.9,61.0 408.5,61.3 410.1,60.9 411.7,61.1 413.3,61.3 414.9,61.2 416.5,61.2 418.1,61.0 419.7,61.0 421.3,61.1 422.8,61.4 424.4,61.4 426.0,61.1 427.6,61.5 429.2,61.1 430.8,61.4 432.4,61.6 434.0,61.3 435.6,61.6 437.2,61.5 438.7,61.2 440.3,61.4 441.9,61.5 443.5,61.4 445.1,61.6 446.7,61.4 448.3,61.7 449.9,61.5 451.5,61.4 453.1,61.6 454.6,61.4 456.2,61.7 457.8,61.8 459.4,61.8 461.0,61.7 462.6,61.5 464.2,61.8 465.8,61.6 467.4,61.9 469.0,61.7 470.5,62.0 472.1,61.9 473.7,61.9 475.3,62.1 476.9,61.9 478.5,61.9 480.1,62.3 481.7,62.0 483.3,62.3 484.9,62.4 486.4,62.2 488.0,62.0 489.6,62.0 491.2,62.5 492.8,62.1 494.4,62.3 496.0,62.4 497.6,62.2 499.2,62.4 500.8,62.3 502.3,62.5 503.9,62.5 505.5,62.5 507.1,62.4 508.7,62.5 510.3,62.5 511.9,62.5 513.5,62.5 515.1,62.9 516.7,62.7 518.2,62.9 519.8,62.5 521.4,63.0 523.0,62.8 524.6,63.0 526.2,62.9 527.8,63.0 529.4,62.8 531.0,63.1 532.6,62.8 534.1,62.9 535.7,62.8 537.3,63.0 538.9,63.1 540.5,63.0 542.1,63.4 543.7,63.0 545.3,63.3 546.9,63.1 548.5,63.3 550.0,63.4 551.6,63.4 553.2,63.1 554.8,63.3 556.4,63.5 558.0,63.7 559.6,63.2 561.2,63.6 562.8,63.6 564.4,63.7 565.9,63.5 567.5,63.8 569.1,63.6 570.7,63.9 572.3,63.5 573.9,63.9 575.5,63.7 577.1,63.7 578.7,63.6 580.3,63.7 581.8,64.0 583.4,64.0 585.0,63.7 586.6,63.9 588.2,63.8 589.8,63.9 591.4,63.9 593.0,64.0 594.6,64.3 596.2,64.4 597.7,64.3 599.3,64.2 600.9,64.2 602.5,64.4 604.1,64.5 605.7,64.4 607.3,64.4 608.9,64.2 610.5,64.4 612.1,64.6 613.6,64.6 615.2,64.2 616.8,64.6 618.4,64.4 620.0,64.4 621.6,64.8 623.2,64.7 624.8,64.7 626.4,64.5 628.0,64.8 629.5,64.9 631.1,64.9 632.7,64.9 634.3,64.9 635.9,65.0 637.5,64.9 639.1,64.8 640.7,65.1 642.3,65.1 643.9,65.1 645.4,64.9 647.0,65.2 648.6,65.0 650.2,65.3 651.8,64.9" fill="none" stroke="#72c136" stroke-width="8.8" stroke-linejoin="round" stroke-linecap="round"/>
<polyline points="255.9,83.9 257.5,83.9 259.1,83.7 260.7,84.0 262.3,83.8 263.8,83.8 265.4,84.0 267.0,83.9 268.6,84.1 270.2,84.3 271.8,84.3 273.4,84.3 275.0,84.2 276.6,84.5 278.2,84.5 279.7,84.5 281.3,84.7 282.9,84.7 284.5,84.5 286.1,84.4 287.7,84.8 289.3,84.9 290.9,84.7 292.5,84.9 294.1,85.1 295.6,85.1 297.2,84.7 298.8,85.0 300.4,84.8 302.0,84.9 303.6,85.3 305.2,85.2 306.8,85.3 308.4,85.3 310.0,85.3 311.5,85.3 313.1,85.4 314.7,85.7 316.3,85.6 317.9,85.5 319.5,85.5 321.1,85.6 322.7,85.9 324.3,85.8 325.9,86.0 327.4,86.1 329.0,85.8 330.6,86.1 332.2,85.8 333.8,86.3 335.4,86.0 337.0,86.1 338.6,86.5 340.2,86.3 341.8,86.3 343.3,86.7 344.9,86.6 346.5,86.9 348.1,86.7 349.7,86.8 351.3,87.1 352.9,86.9 354.5,87.3 356.1,86.9 357.7,87.3 359.2,87.0 360.8,87.3 362.4,87.1 364.0,87.3 365.6,87.7 367.2,87.5 368.8,87.8 370.4,87.6 372.0,87.7 373.6,87.6 375.1,87.9 376.7,88.2 378.3,88.1 379.9,88.1 381.5,88.4 383.1,88.5 384.7,88.4 386.3,88.2 387.9,88.5 389.5,88.5 391.0,88.8 392.6,88.6 394.2,88.8 395.8,88.9 397.4,88.8 399.0,89.0 400.6,89.1 402.2,89.3 403.8,89.2 405.4,89.2 406.9,89.5 408.5,89.2 410.1,89.6 411.7,89.6 413.3,89.6 414.9,89.6 416.5,89.9 418.1,90.0 419.7,90.0 421.3,90.1 422.8,89.9 424.4,90.1 426.0,90.1 427.6,90.6 429.2,90.6 430.8,90.4 432.4,90.7 434.0,90.7 435.6,90.6 437.2,90.8 438.7,91.1 440.3,91.1 441.9,91.0 443.5,91.4 445.1,91.2 446.7,91.4 448.3,91.5 449.9,91.8 451.5,91.7 453.1,91.9 454.6,91.9 456.2,91.9 457.8,92.2 459.4,92.2 461.0,92.3 462.6,92.2 464.2,92.2 465.8,92.5 467.4,92.7 469.0,92.8 470.5,92.7 472.1,92.7 473.7,93.0 475.3,93.2 476.9,93.0 478.5,93.4 480.1,93.2 481.7,93.3 483.3,93.3 484.9,93.5 486.4,93.7 488.0,94.1 489.6,94.1 491.2,93.9 492.8,94.0 494.4,94.4 496.0,93.9 497.6,93.9 499.2,93.8 500.8,93.6 502.3,93.5 503.9,93.5 505.5,93.4 507.1,93.6 508.7,93.1 510.3,93.1 511.9,93.6 513.5,93.5 515.1,93.9 516.7,93.9 518.2,94.2 519.8,94.1 521.4,94.2 523.0,94.6 524.6,94.6 526.2,94.8 527.8,95.1 529.4,95.3 531.0,95.2 532.6,95.4 534.1,95.8 535.7,95.7 537.3,95.6 538.9,95.8 540.5,95.7 542.1,96.0 543.7,95.6 545.3,96.1 546.9,96.0 548.5,95.9 550.0,96.3 551.6,96.0 553.2,96.0 554.8,96.0 556.4,96.3 558.0,96.4 559.6,96.4 561.2,96.3 562.8,96.6 564.4,96.3 565.9,96.4 567.5,96.6 569.1,96.8 570.7,96.7 572.3,96.8 573.9,96.8 575.5,96.6 577.1,96.8 578.7,96.7 580.3,96.4 581.8,96.4 583.4,96.5 585.0,96.2 586.6,96.1 588.2,96.4 589.8,96.2 591.4,96.1 593.0,96.1 594.6,96.2 596.2,95.7 597.7,95.8 599.3,95.6 600.9,95.7 602.5,95.7 604.1,95.8 605.7,95.7 607.3,95.8 608.9,95.8 610.5,96.0 612.1,96.0 613.6,96.4 615.2,96.5 616.8,96.6 618.4,96.4 620.0,96.8 621.6,96.9 623.2,96.9 624.8,97.2 626.4,97.3 628.0,97.4 629.5,97.5 631.1,97.6 632.7,97.8 634.3,97.6 635.9,98.0 637.5,98.1 639.1,98.1 640.7,98.1 642.3,98.1 643.9,98.5 645.4,98.7 647.0,98.6 648.6,98.7 650.2,98.8 651.8,98.8" fill="none" stroke="#3fb9c8" stroke-width="8.8" stroke-linejoin="round" stroke-linecap="round"/>
</g>
<rect x="253.7" y="0.4" width="401.50000000000006" height="140.6" fill="none" stroke="#111" stroke-width="1.5"/>
<line x1="654.90" y1="1.15" x2="654.90" y2="141.75" stroke="#fff" stroke-width="2.2"/>
<line x1="654.80" y1="1.15" x2="654.80" y2="141.75" stroke="#fb416b" stroke-width="1.1"/>
<line x1="255.50" y1="141.00" x2="255.50" y2="137.70" stroke="#111" stroke-width="1.2"/>
<text transform="translate(255.5 151.6) scale(0.9 1)" font-size="10.36" fill="#111" text-anchor="middle">0</text>
<line x1="275.38" y1="141.00" x2="275.38" y2="139.00" stroke="#111" stroke-width="1.2"/>
<line x1="295.25" y1="141.00" x2="295.25" y2="137.70" stroke="#111" stroke-width="1.2"/>
<text transform="translate(295.25 151.6) scale(0.9 1)" font-size="10.36" fill="#111" text-anchor="middle">100</text>
<line x1="315.12" y1="141.00" x2="315.12" y2="139.00" stroke="#111" stroke-width="1.2"/>
<line x1="335.00" y1="141.00" x2="335.00" y2="137.70" stroke="#111" stroke-width="1.2"/>
<text transform="translate(335.0 151.6) scale(0.9 1)" font-size="10.36" fill="#111" text-anchor="middle">200</text>
<line x1="354.88" y1="141.00" x2="354.88" y2="139.00" stroke="#111" stroke-width="1.2"/>
<line x1="374.75" y1="141.00" x2="374.75" y2="137.70" stroke="#111" stroke-width="1.2"/>
<text transform="translate(374.75 151.6) scale(0.9 1)" font-size="10.36" fill="#111" text-anchor="middle">300</text>
<line x1="394.62" y1="141.00" x2="394.62" y2="139.00" stroke="#111" stroke-width="1.2"/>
<line x1="414.50" y1="141.00" x2="414.50" y2="137.70" stroke="#111" stroke-width="1.2"/>
<text transform="translate(414.5 151.6) scale(0.9 1)" font-size="10.36" fill="#111" text-anchor="middle">400</text>
<line x1="434.38" y1="141.00" x2="434.38" y2="139.00" stroke="#111" stroke-width="1.2"/>
<line x1="454.25" y1="141.00" x2="454.25" y2="137.70" stroke="#111" stroke-width="1.2"/>
<text transform="translate(454.25 151.6) scale(0.9 1)" font-size="10.36" fill="#111" text-anchor="middle">500</text>
<line x1="474.12" y1="141.00" x2="474.12" y2="139.00" stroke="#111" stroke-width="1.2"/>
<line x1="494.00" y1="141.00" x2="494.00" y2="137.70" stroke="#111" stroke-width="1.2"/>
<text transform="translate(494.0 151.6) scale(0.9 1)" font-size="10.36" fill="#111" text-anchor="middle">600</text>
<line x1="513.88" y1="141.00" x2="513.88" y2="139.00" stroke="#111" stroke-width="1.2"/>
<line x1="533.75" y1="141.00" x2="533.75" y2="137.70" stroke="#111" stroke-width="1.2"/>
<text transform="translate(533.75 151.6) scale(0.9 1)" font-size="10.36" fill="#111" text-anchor="middle">700</text>
<line x1="553.62" y1="141.00" x2="553.62" y2="139.00" stroke="#111" stroke-width="1.2"/>
<line x1="573.50" y1="141.00" x2="573.50" y2="137.70" stroke="#111" stroke-width="1.2"/>
<text transform="translate(573.5 151.6) scale(0.9 1)" font-size="10.36" fill="#111" text-anchor="middle">800</text>
<line x1="593.38" y1="141.00" x2="593.38" y2="139.00" stroke="#111" stroke-width="1.2"/>
<line x1="613.25" y1="141.00" x2="613.25" y2="137.70" stroke="#111" stroke-width="1.2"/>
<text transform="translate(613.25 151.6) scale(0.9 1)" font-size="10.36" fill="#111" text-anchor="middle">900</text>
<line x1="633.12" y1="141.00" x2="633.12" y2="139.00" stroke="#111" stroke-width="1.2"/>
<line x1="653.00" y1="141.00" x2="653.00" y2="137.70" stroke="#111" stroke-width="1.2"/>
<text transform="translate(653.0 151.6) scale(0.9 1)" font-size="10.36" fill="#111" text-anchor="middle">1000</text>
<line x1="253.70" y1="130.80" x2="257.00" y2="130.80" stroke="#111" stroke-width="1.2"/>
<text transform="translate(250.39999999999998 134.10000000000002) scale(0.9 1)" font-size="10.14" fill="#111" text-anchor="end">0</text>
<line x1="253.70" y1="120.78" x2="255.70" y2="120.78" stroke="#111" stroke-width="1.2"/>
<line x1="253.70" y1="110.75" x2="257.00" y2="110.75" stroke="#111" stroke-width="1.2"/>
<text transform="translate(250.39999999999998 114.051) scale(0.9 1)" font-size="10.14" fill="#111" text-anchor="end">30</text>
<line x1="253.70" y1="100.73" x2="255.70" y2="100.73" stroke="#111" stroke-width="1.2"/>
<line x1="253.70" y1="90.70" x2="257.00" y2="90.70" stroke="#111" stroke-width="1.2"/>
<text transform="translate(250.39999999999998 94.00200000000001) scale(0.9 1)" font-size="10.14" fill="#111" text-anchor="end">60</text>
<line x1="253.70" y1="80.68" x2="255.70" y2="80.68" stroke="#111" stroke-width="1.2"/>
<line x1="253.70" y1="70.65" x2="257.00" y2="70.65" stroke="#111" stroke-width="1.2"/>
<text transform="translate(250.39999999999998 73.95300000000002) scale(0.9 1)" font-size="10.14" fill="#111" text-anchor="end">90</text>
<line x1="253.70" y1="60.63" x2="255.70" y2="60.63" stroke="#111" stroke-width="1.2"/>
<line x1="253.70" y1="50.60" x2="257.00" y2="50.60" stroke="#111" stroke-width="1.2"/>
<text transform="translate(250.39999999999998 53.90400000000001) scale(0.9 1)" font-size="10.14" fill="#111" text-anchor="end">120</text>
<line x1="253.70" y1="40.58" x2="255.70" y2="40.58" stroke="#111" stroke-width="1.2"/>
<line x1="253.70" y1="30.56" x2="257.00" y2="30.56" stroke="#111" stroke-width="1.2"/>
<text transform="translate(250.39999999999998 33.855000000000004) scale(0.9 1)" font-size="10.14" fill="#111" text-anchor="end">150</text>
<line x1="253.70" y1="20.53" x2="255.70" y2="20.53" stroke="#111" stroke-width="1.2"/>
<line x1="253.70" y1="10.51" x2="257.00" y2="10.51" stroke="#111" stroke-width="1.2"/>
<text transform="translate(250.39999999999998 13.806000000000015) scale(0.9 1)" font-size="10.14" fill="#111" text-anchor="end">180</text>
<line x1="654.80" y1="122.86" x2="651.90" y2="122.86" stroke="#fb416b" stroke-width="1"/>
<text x="658.6" y="126.25999999999999" font-size="9.5" fill="#fb416b" text-anchor="start">88</text>
<line x1="654.80" y1="105.30" x2="653.20" y2="105.30" stroke="#fb416b" stroke-width="1"/>
<line x1="654.80" y1="87.74" x2="651.90" y2="87.74" stroke="#fb416b" stroke-width="1"/>
<text x="658.6" y="91.14" font-size="9.5" fill="#fb416b" text-anchor="start">92</text>
<line x1="654.80" y1="70.18" x2="653.20" y2="70.18" stroke="#fb416b" stroke-width="1"/>
<line x1="654.80" y1="52.62" x2="651.90" y2="52.62" stroke="#fb416b" stroke-width="1"/>
<text x="658.6" y="56.019999999999996" font-size="9.5" fill="#fb416b" text-anchor="start">96</text>
<line x1="654.80" y1="35.06" x2="653.20" y2="35.06" stroke="#fb416b" stroke-width="1"/>
<line x1="654.80" y1="17.50" x2="651.90" y2="17.50" stroke="#fb416b" stroke-width="1"/>
<text x="658.6" y="20.9" font-size="9.5" fill="#fb416b" text-anchor="start">100</text>
<text x="454.3" y="160.4" font-size="9.6" fill="#111" text-anchor="middle">Cycle number</text>
<text x="229.8" y="72.3" font-size="9.5" fill="#111" text-anchor="middle" transform="rotate(-90 229.8 72.3)">Specific capacity (mAh g<tspan font-size="6" dy="-3.5">-1</tspan><tspan dy="3.5">)</tspan></text>
<text x="681.6" y="70.5" font-size="9.5" fill="#fb416b" text-anchor="middle" transform="rotate(-90 681.6 70.5)">Coulombic efficiency (%)</text>
<text x="226.8" y="11" font-size="14" fill="#111" text-anchor="start" font-weight="bold">b</text>
<text x="260" y="112.5" font-size="16" fill="#143321" text-anchor="start">5C</text>
<text x="260" y="134.5" font-size="16" fill="#143321" text-anchor="start">30<tspan font-size="9.5" dy="-6.3">o</tspan><tspan dy="6.3">C</tspan></text>
<line x1="298.80" y1="103.80" x2="321.60" y2="103.80" stroke="#fb416b" stroke-width="2"/>
<circle cx="310.20000000000005" cy="103.8" r="4.2" fill="#fb416b"/>
<circle cx="309.00000000000006" cy="102.5" r="1.5" fill="#fff" opacity="0.55"/>
<text x="323.7" y="107.2" font-size="9.45" fill="#fb416b" text-anchor="start">Na||M2-PBA</text>
<line x1="298.80" y1="115.75" x2="321.60" y2="115.75" stroke="#72c136" stroke-width="2"/>
<circle cx="310.20000000000005" cy="115.75" r="4.2" fill="#72c136"/>
<circle cx="309.00000000000006" cy="114.45" r="1.5" fill="#fff" opacity="0.55"/>
<text x="323.7" y="119.15" font-size="9.45" fill="#72c136" text-anchor="start">Na||M4-PBA</text>
<line x1="298.80" y1="127.70" x2="321.60" y2="127.70" stroke="#3fb9c8" stroke-width="2"/>
<circle cx="310.20000000000005" cy="127.69999999999999" r="4.2" fill="#3fb9c8"/>
<circle cx="309.00000000000006" cy="126.39999999999999" r="1.5" fill="#fff" opacity="0.55"/>
<text x="323.7" y="131.1" font-size="9.45" fill="#3fb9c8" text-anchor="start">Na||M5-PBA</text>
<text x="650.4" y="57.5" font-size="16.3" fill="#72c136" text-anchor="end" font-weight="bold">91.7%</text>
<text x="650.4" y="91" font-size="16.3" fill="#3fb9c8" text-anchor="end" font-weight="bold">69.1%</text>
<text x="650.4" y="135.8" font-size="16.3" fill="#fb416b" text-anchor="end" font-weight="bold">21.4%</text>
<path d="M278.5,53 V46.5 H262" fill="none" stroke="#333" stroke-width="0.9"/><path d="M260.5,46.5 l5,-2.2 v4.4z" fill="#333"/>
<path d="M626.4,12 V5.2 H646" fill="none" stroke="#fb416b" stroke-width="0.9"/><path d="M650.8,5.2 l-5.6,-1.8 v3.6z" fill="#fb416b"/>
<path d="M34.9,460.5C35.0,457.0 35.2,444.8 35.5,439.1C35.8,433.5 36.0,429.6 36.7,426.4C37.4,423.2 38.1,421.9 39.8,419.8C41.5,417.7 43.9,416.0 47.1,413.7C50.4,411.4 55.3,408.8 59.4,406.1C63.4,403.3 67.5,399.8 71.6,397.4C75.7,395.0 79.8,393.2 83.8,391.8C87.9,390.4 91.0,389.6 96.1,388.7C101.2,387.9 108.3,387.4 114.4,386.7C120.5,386.0 127.7,385.6 132.8,384.7C137.9,383.7 140.9,382.5 145.0,381.1C149.1,379.8 154.0,378.2 157.2,376.5C160.5,374.8 162.6,373.2 164.6,370.9C166.6,368.6 167.9,365.0 169.5,362.8C171.1,360.6 173.6,358.5 174.4,357.7" fill="none" stroke="#fb416b" stroke-width="1.9" stroke-linejoin="round" stroke-linecap="round"/>
<path d="M34.9,368.9C35.3,370.4 36.1,375.4 37.3,378.1C38.6,380.7 39.6,382.4 42.2,384.7C44.9,387.0 49.4,389.7 53.3,391.8C57.1,393.9 61.4,396.1 65.5,397.4C69.6,398.7 72.6,398.8 77.7,399.4C82.8,400.1 90.0,400.6 96.1,401.5C102.2,402.3 108.7,403.2 114.4,404.5C120.1,405.9 125.6,407.4 130.3,409.6C135.0,411.8 138.5,415.2 142.6,417.8C146.6,420.3 151.1,422.3 154.8,424.9C158.5,427.4 162.3,429.8 164.6,433.0C166.8,436.3 167.2,439.8 168.3,444.2C169.3,448.6 170.0,455.3 170.7,459.5C171.4,463.7 172.2,468.0 172.5,469.7" fill="none" stroke="#fb416b" stroke-width="1.9" stroke-linejoin="round" stroke-linecap="round"/>
<path d="M34.9,459.5C35.0,456.1 35.3,444.9 35.6,439.1C35.9,433.4 36.0,428.3 36.7,424.9C37.4,421.5 38.1,420.8 39.8,418.8C41.5,416.7 43.9,415.0 47.1,412.7C50.4,410.4 55.3,407.4 59.4,405.0C63.4,402.7 67.5,400.3 71.6,398.4C75.7,396.6 79.8,395.0 83.8,393.8C87.9,392.7 91.0,392.2 96.1,391.3C101.2,390.4 108.3,389.4 114.4,388.2C120.5,387.1 126.7,385.9 132.8,384.2C138.9,382.5 146.0,380.1 151.1,378.1C156.2,376.0 159.9,374.1 163.4,372.0C166.8,369.8 168.9,367.3 171.9,365.3C175.0,363.4 179.1,361.5 181.7,360.2C184.4,359.0 186.8,358.1 187.8,357.7" fill="none" stroke="#72c136" stroke-width="1.9" stroke-linejoin="round" stroke-linecap="round"/>
<path d="M34.9,367.9C35.5,368.6 36.9,370.1 38.6,372.0C40.2,373.8 42.2,376.6 44.7,379.1C47.1,381.5 49.8,384.2 53.3,386.7C56.7,389.3 61.4,392.4 65.5,394.3C69.6,396.3 72.6,397.1 77.7,398.4C82.8,399.7 90.0,400.9 96.1,402.0C102.2,403.1 108.3,404.0 114.4,405.0C120.5,406.1 126.7,406.6 132.8,408.1C138.9,409.5 146.0,411.5 151.1,413.7C156.2,415.9 159.7,418.8 163.4,421.3C167.0,423.9 170.5,426.4 173.2,429.0C175.8,431.5 177.6,432.4 179.3,436.6C180.9,440.8 181.9,448.9 182.9,454.4C184.0,459.9 185.0,467.1 185.4,469.7" fill="none" stroke="#72c136" stroke-width="1.9" stroke-linejoin="round" stroke-linecap="round"/>
<path d="M34.9,454.4C35.0,450.2 35.2,435.7 35.5,429.0C35.8,422.2 36.0,417.9 36.7,413.7C37.4,409.4 38.5,406.2 39.8,403.5C41.1,400.8 42.4,399.3 44.7,397.4C46.9,395.5 49.8,393.8 53.3,392.3C56.7,390.9 61.4,389.7 65.5,388.7C69.6,387.8 73.6,387.3 77.7,386.7C81.8,386.1 86.5,385.8 90.0,385.2C93.4,384.6 96.1,384.2 98.5,383.1C101.0,382.1 102.6,380.9 104.6,379.1C106.7,377.2 108.9,374.4 110.8,372.0C112.6,369.5 114.0,366.7 115.7,364.3C117.3,361.9 119.7,358.8 120.5,357.7" fill="none" stroke="#3fb9c8" stroke-width="1.9" stroke-linejoin="round" stroke-linecap="round"/>
<path d="M34.9,383.1C35.1,384.4 35.5,388.2 36.1,390.8C36.7,393.3 37.3,396.3 38.6,398.4C39.8,400.5 41.4,402.1 43.5,403.5C45.5,405.0 47.7,406.0 50.8,407.1C53.9,408.2 58.4,409.3 61.8,410.1C65.3,411.0 68.5,411.2 71.6,412.2C74.7,413.1 77.7,413.9 80.2,415.7C82.6,417.5 84.7,420.8 86.3,422.9C87.9,424.9 88.3,425.9 90.0,427.9C91.6,430.0 94.2,432.4 96.1,435.1C97.9,437.8 99.3,440.6 101.0,444.2C102.6,447.9 104.3,452.7 105.9,457.0C107.4,461.2 109.4,467.6 110.1,469.7" fill="none" stroke="#3fb9c8" stroke-width="1.9" stroke-linejoin="round" stroke-linecap="round"/>
<rect x="28.8" y="345.2" width="189.2" height="139.8" fill="none" stroke="#111" stroke-width="1.25"/>
<line x1="34.90" y1="485.00" x2="34.90" y2="481.70" stroke="#111" stroke-width="1.2"/>
<text transform="translate(34.9 495.8) scale(0.9 1)" font-size="10.25" fill="#111" text-anchor="middle">0</text>
<line x1="47.13" y1="485.00" x2="47.13" y2="483.00" stroke="#111" stroke-width="1.2"/>
<line x1="59.37" y1="485.00" x2="59.37" y2="481.70" stroke="#111" stroke-width="1.2"/>
<text transform="translate(59.37 495.8) scale(0.9 1)" font-size="10.25" fill="#111" text-anchor="middle">20</text>
<line x1="71.60" y1="485.00" x2="71.60" y2="483.00" stroke="#111" stroke-width="1.2"/>
<line x1="83.84" y1="485.00" x2="83.84" y2="481.70" stroke="#111" stroke-width="1.2"/>
<text transform="translate(83.84 495.8) scale(0.9 1)" font-size="10.25" fill="#111" text-anchor="middle">40</text>
<line x1="96.08" y1="485.00" x2="96.08" y2="483.00" stroke="#111" stroke-width="1.2"/>
<line x1="108.31" y1="485.00" x2="108.31" y2="481.70" stroke="#111" stroke-width="1.2"/>
<text transform="translate(108.31 495.8) scale(0.9 1)" font-size="10.25" fill="#111" text-anchor="middle">60</text>
<line x1="120.54" y1="485.00" x2="120.54" y2="483.00" stroke="#111" stroke-width="1.2"/>
<line x1="132.78" y1="485.00" x2="132.78" y2="481.70" stroke="#111" stroke-width="1.2"/>
<text transform="translate(132.78 495.8) scale(0.9 1)" font-size="10.25" fill="#111" text-anchor="middle">80</text>
<line x1="145.02" y1="485.00" x2="145.02" y2="483.00" stroke="#111" stroke-width="1.2"/>
<line x1="157.25" y1="485.00" x2="157.25" y2="481.70" stroke="#111" stroke-width="1.2"/>
<text transform="translate(157.25 495.8) scale(0.9 1)" font-size="10.25" fill="#111" text-anchor="middle">100</text>
<line x1="169.49" y1="485.00" x2="169.49" y2="483.00" stroke="#111" stroke-width="1.2"/>
<line x1="181.72" y1="485.00" x2="181.72" y2="481.70" stroke="#111" stroke-width="1.2"/>
<text transform="translate(181.72 495.8) scale(0.9 1)" font-size="10.25" fill="#111" text-anchor="middle">120</text>
<line x1="193.96" y1="485.00" x2="193.96" y2="483.00" stroke="#111" stroke-width="1.2"/>
<line x1="206.19" y1="485.00" x2="206.19" y2="481.70" stroke="#111" stroke-width="1.2"/>
<text transform="translate(206.19 495.8) scale(0.9 1)" font-size="10.25" fill="#111" text-anchor="middle">140</text>
<text transform="translate(25.3 488.65) scale(0.9 1)" font-size="10.25" fill="#111" text-anchor="end">1.5</text>
<line x1="28.80" y1="472.22" x2="30.80" y2="472.22" stroke="#111" stroke-width="1.2"/>
<line x1="28.80" y1="459.50" x2="32.10" y2="459.50" stroke="#111" stroke-width="1.2"/>
<text transform="translate(25.3 463.2) scale(0.9 1)" font-size="10.25" fill="#111" text-anchor="end">2.0</text>
<line x1="28.80" y1="446.77" x2="30.80" y2="446.77" stroke="#111" stroke-width="1.2"/>
<line x1="28.80" y1="434.05" x2="32.10" y2="434.05" stroke="#111" stroke-width="1.2"/>
<text transform="translate(25.3 437.74999999999994) scale(0.9 1)" font-size="10.25" fill="#111" text-anchor="end">2.5</text>
<line x1="28.80" y1="421.32" x2="30.80" y2="421.32" stroke="#111" stroke-width="1.2"/>
<line x1="28.80" y1="408.60" x2="32.10" y2="408.60" stroke="#111" stroke-width="1.2"/>
<text transform="translate(25.3 412.29999999999995) scale(0.9 1)" font-size="10.25" fill="#111" text-anchor="end">3.0</text>
<line x1="28.80" y1="395.88" x2="30.80" y2="395.88" stroke="#111" stroke-width="1.2"/>
<line x1="28.80" y1="383.15" x2="32.10" y2="383.15" stroke="#111" stroke-width="1.2"/>
<text transform="translate(25.3 386.84999999999997) scale(0.9 1)" font-size="10.25" fill="#111" text-anchor="end">3.5</text>
<line x1="28.80" y1="370.43" x2="30.80" y2="370.43" stroke="#111" stroke-width="1.2"/>
<line x1="28.80" y1="357.70" x2="32.10" y2="357.70" stroke="#111" stroke-width="1.2"/>
<text transform="translate(25.3 361.4) scale(0.9 1)" font-size="10.25" fill="#111" text-anchor="end">4.0</text>
<text x="122.5" y="506" font-size="9.75" fill="#111" text-anchor="middle">Specific capacity (mAh g<tspan font-size="6.3" dy="-3.8">-1</tspan><tspan dy="3.8">)</tspan></text>
<text x="9" y="414" font-size="9.4" fill="#111" text-anchor="middle" transform="rotate(-90 9 414)">Cell voltage (V)</text>
<text x="3" y="356" font-size="14" fill="#111" text-anchor="start" font-weight="bold">f</text>
<line x1="151.60" y1="386.80" x2="163.50" y2="386.80" stroke="#fb416b" stroke-width="1.9"/>
<text transform="translate(167.6 390.0) scale(0.9 1)" font-size="8.99" fill="#fb416b" text-anchor="start">HC||M2-PBA</text>
<line x1="151.60" y1="398.20" x2="163.50" y2="398.20" stroke="#72c136" stroke-width="1.9"/>
<text transform="translate(167.6 401.4) scale(0.9 1)" font-size="8.99" fill="#72c136" text-anchor="start">HC||M4-PBA</text>
<line x1="151.60" y1="409.60" x2="163.50" y2="409.60" stroke="#3fb9c8" stroke-width="1.9"/>
<text transform="translate(167.6 412.8) scale(0.9 1)" font-size="8.99" fill="#3fb9c8" text-anchor="start">HC||M5-PBA</text>
<text transform="translate(40 463.7) scale(0.9 1)" font-size="10.46" fill="#111" text-anchor="start">1C</text>
<text transform="translate(40 476.8) scale(0.9 1)" font-size="10.46" fill="#111" text-anchor="start">30<tspan font-size="6" dy="-4">o</tspan><tspan dy="4">C</tspan></text>
<clipPath id="cg"><rect x="254" y="345.4" width="401.20000000000005" height="140.20000000000005"/></clipPath>
<g fill="#fff" stroke="#fb416b" stroke-width="0.65" clip-path="url(#cg)"><circle cx="258.3" cy="377.2" r="3.6"/><circle cx="259.9" cy="359.7" r="3.6"/><circle cx="261.5" cy="360.2" r="3.6"/><circle cx="263.1" cy="358.3" r="3.6"/><circle cx="264.6" cy="360.2" r="3.6"/><circle cx="266.2" cy="360.3" r="3.6"/><circle cx="267.8" cy="358.9" r="3.6"/><circle cx="269.4" cy="359.5" r="3.6"/><circle cx="271.0" cy="358.2" r="3.6"/><circle cx="272.6" cy="359.5" r="3.6"/><circle cx="274.2" cy="360.5" r="3.6"/><circle cx="275.8" cy="360.5" r="3.6"/><circle cx="277.3" cy="359.5" r="3.6"/><circle cx="278.9" cy="358.2" r="3.6"/><circle cx="280.5" cy="359.4" r="3.6"/><circle cx="282.1" cy="360.9" r="3.6"/><circle cx="283.7" cy="358.8" r="3.6"/><circle cx="285.3" cy="359.7" r="3.6"/><circle cx="286.9" cy="360.9" r="3.6"/><circle cx="288.4" cy="360.9" r="3.6"/><circle cx="290.0" cy="361.1" r="3.6"/><circle cx="291.6" cy="359.9" r="3.6"/><circle cx="293.2" cy="358.2" r="3.6"/><circle cx="294.8" cy="359.9" r="3.6"/><circle cx="296.4" cy="359.5" r="3.6"/><circle cx="298.0" cy="359.9" r="3.6"/><circle cx="299.6" cy="361.2" r="3.6"/><circle cx="301.1" cy="359.4" r="3.6"/><circle cx="302.7" cy="360.2" r="3.6"/><circle cx="304.3" cy="359.3" r="3.6"/><circle cx="305.9" cy="359.3" r="3.6"/><circle cx="307.5" cy="358.4" r="3.6"/><circle cx="309.1" cy="359.3" r="3.6"/><circle cx="310.7" cy="358.4" r="3.6"/><circle cx="312.3" cy="361.2" r="3.6"/><circle cx="313.8" cy="360.3" r="3.6"/><circle cx="315.4" cy="357.8" r="3.6"/><circle cx="317.0" cy="360.5" r="3.6"/><circle cx="318.6" cy="358.5" r="3.6"/><circle cx="320.2" cy="358.8" r="3.6"/><circle cx="321.8" cy="360.9" r="3.6"/><circle cx="323.4" cy="360.1" r="3.6"/><circle cx="324.9" cy="359.3" r="3.6"/><circle cx="326.5" cy="359.9" r="3.6"/><circle cx="328.1" cy="359.5" r="3.6"/><circle cx="329.7" cy="358.4" r="3.6"/><circle cx="331.3" cy="360.8" r="3.6"/><circle cx="332.9" cy="359.3" r="3.6"/><circle cx="334.5" cy="359.4" r="3.6"/><circle cx="336.1" cy="357.7" r="3.6"/><circle cx="337.6" cy="359.9" r="3.6"/><circle cx="339.2" cy="359.5" r="3.6"/><circle cx="340.8" cy="360.2" r="3.6"/><circle cx="342.4" cy="360.4" r="3.6"/><circle cx="344.0" cy="356.1" r="3.6"/><circle cx="345.6" cy="360.5" r="3.6"/><circle cx="347.2" cy="358.7" r="3.6"/><circle cx="348.8" cy="359.8" r="3.6"/><circle cx="350.3" cy="359.0" r="3.6"/><circle cx="351.9" cy="360.5" r="3.6"/><circle cx="353.5" cy="358.5" r="3.6"/><circle cx="355.1" cy="358.0" r="3.6"/><circle cx="356.7" cy="359.6" r="3.6"/><circle cx="358.3" cy="357.8" r="3.6"/><circle cx="359.9" cy="359.2" r="3.6"/><circle cx="361.4" cy="360.3" r="3.6"/><circle cx="363.0" cy="358.5" r="3.6"/><circle cx="364.6" cy="360.1" r="3.6"/><circle cx="366.2" cy="360.2" r="3.6"/><circle cx="367.8" cy="360.0" r="3.6"/><circle cx="369.4" cy="359.4" r="3.6"/><circle cx="371.0" cy="359.4" r="3.6"/><circle cx="372.6" cy="358.7" r="3.6"/><circle cx="374.1" cy="359.9" r="3.6"/><circle cx="375.7" cy="360.6" r="3.6"/><circle cx="377.3" cy="358.7" r="3.6"/><circle cx="378.9" cy="359.3" r="3.6"/><circle cx="380.5" cy="359.8" r="3.6"/><circle cx="382.1" cy="360.3" r="3.6"/><circle cx="383.7" cy="360.2" r="3.6"/><circle cx="385.3" cy="359.6" r="3.6"/><circle cx="386.8" cy="359.0" r="3.6"/><circle cx="388.4" cy="359.4" r="3.6"/><circle cx="390.0" cy="360.9" r="3.6"/><circle cx="391.6" cy="358.6" r="3.6"/><circle cx="393.2" cy="359.6" r="3.6"/><circle cx="394.8" cy="359.9" r="3.6"/><circle cx="396.4" cy="359.5" r="3.6"/><circle cx="397.9" cy="359.9" r="3.6"/><circle cx="399.5" cy="359.0" r="3.6"/><circle cx="401.1" cy="359.9" r="3.6"/><circle cx="402.7" cy="361.0" r="3.6"/><circle cx="404.3" cy="361.2" r="3.6"/><circle cx="405.9" cy="358.0" r="3.6"/><circle cx="407.5" cy="359.4" r="3.6"/><circle cx="409.1" cy="359.7" r="3.6"/><circle cx="410.6" cy="360.2" r="3.6"/><circle cx="412.2" cy="360.0" r="3.6"/><circle cx="413.8" cy="359.6" r="3.6"/><circle cx="415.4" cy="359.5" r="3.6"/><circle cx="417.0" cy="359.6" r="3.6"/><circle cx="418.6" cy="359.1" r="3.6"/><circle cx="420.2" cy="360.6" r="3.6"/><circle cx="421.8" cy="359.5" r="3.6"/><circle cx="423.3" cy="359.9" r="3.6"/><circle cx="424.9" cy="357.1" r="3.6"/><circle cx="426.5" cy="359.6" r="3.6"/><circle cx="428.1" cy="359.8" r="3.6"/><circle cx="429.7" cy="360.0" r="3.6"/><circle cx="431.3" cy="359.4" r="3.6"/><circle cx="432.9" cy="360.0" r="3.6"/><circle cx="434.5" cy="359.4" r="3.6"/><circle cx="436.0" cy="359.8" r="3.6"/><circle cx="437.6" cy="359.2" r="3.6"/><circle cx="439.2" cy="359.3" r="3.6"/><circle cx="440.8" cy="359.9" r="3.6"/><circle cx="442.4" cy="359.5" r="3.6"/><circle cx="444.0" cy="360.1" r="3.6"/><circle cx="445.6" cy="359.5" r="3.6"/><circle cx="447.1" cy="359.6" r="3.6"/><circle cx="448.7" cy="360.0" r="3.6"/><circle cx="450.3" cy="360.7" r="3.6"/><circle cx="451.9" cy="360.6" r="3.6"/><circle cx="453.5" cy="358.8" r="3.6"/><circle cx="455.1" cy="359.7" r="3.6"/><circle cx="456.7" cy="361.2" r="3.6"/><circle cx="458.3" cy="359.5" r="3.6"/><circle cx="459.8" cy="359.7" r="3.6"/><circle cx="461.4" cy="361.2" r="3.6"/><circle cx="463.0" cy="358.7" r="3.6"/><circle cx="464.6" cy="360.8" r="3.6"/><circle cx="466.2" cy="359.0" r="3.6"/><circle cx="467.8" cy="360.0" r="3.6"/><circle cx="469.4" cy="358.8" r="3.6"/><circle cx="471.0" cy="358.1" r="3.6"/><circle cx="472.5" cy="359.6" r="3.6"/><circle cx="474.1" cy="357.9" r="3.6"/><circle cx="475.7" cy="362.0" r="3.6"/><circle cx="477.3" cy="356.6" r="3.6"/><circle cx="478.9" cy="359.2" r="3.6"/><circle cx="480.5" cy="357.5" r="3.6"/><circle cx="482.1" cy="359.2" r="3.6"/><circle cx="483.6" cy="361.0" r="3.6"/></g>
<g fill="#fff" stroke="#72c136" stroke-width="0.9" clip-path="url(#cg)"><circle cx="258.3" cy="370.3" r="3.6"/><circle cx="259.1" cy="358.1" r="3.6"/><circle cx="259.9" cy="357.2" r="3.6"/><circle cx="260.7" cy="357.2" r="3.6"/><circle cx="261.5" cy="356.8" r="3.6"/><circle cx="262.3" cy="356.7" r="3.6"/><circle cx="263.1" cy="356.7" r="3.6"/><circle cx="263.8" cy="357.1" r="3.6"/><circle cx="264.6" cy="356.9" r="3.6"/><circle cx="265.4" cy="357.0" r="3.6"/><circle cx="266.2" cy="357.0" r="3.6"/><circle cx="267.0" cy="357.0" r="3.6"/><circle cx="267.8" cy="356.8" r="3.6"/><circle cx="268.6" cy="357.0" r="3.6"/><circle cx="269.4" cy="357.2" r="3.6"/><circle cx="270.2" cy="357.4" r="3.6"/><circle cx="271.0" cy="357.0" r="3.6"/><circle cx="271.8" cy="356.9" r="3.6"/><circle cx="272.6" cy="357.0" r="3.6"/><circle cx="273.4" cy="356.3" r="3.6"/><circle cx="274.2" cy="357.2" r="3.6"/><circle cx="275.0" cy="357.3" r="3.6"/><circle cx="275.8" cy="356.9" r="3.6"/><circle cx="276.5" cy="357.0" r="3.6"/><circle cx="277.3" cy="356.9" r="3.6"/><circle cx="278.1" cy="356.9" r="3.6"/><circle cx="278.9" cy="357.1" r="3.6"/><circle cx="279.7" cy="357.2" r="3.6"/><circle cx="280.5" cy="356.8" r="3.6"/><circle cx="281.3" cy="356.9" r="3.6"/><circle cx="282.1" cy="357.4" r="3.6"/><circle cx="282.9" cy="356.8" r="3.6"/><circle cx="283.7" cy="357.3" r="3.6"/><circle cx="284.5" cy="356.6" r="3.6"/><circle cx="285.3" cy="356.9" r="3.6"/><circle cx="286.1" cy="356.4" r="3.6"/><circle cx="286.9" cy="357.0" r="3.6"/><circle cx="287.7" cy="357.0" r="3.6"/><circle cx="288.4" cy="356.8" r="3.6"/><circle cx="289.2" cy="356.6" r="3.6"/><circle cx="290.0" cy="356.9" r="3.6"/><circle cx="290.8" cy="356.8" r="3.6"/><circle cx="291.6" cy="357.3" r="3.6"/><circle cx="292.4" cy="356.7" r="3.6"/><circle cx="293.2" cy="356.9" r="3.6"/><circle cx="294.0" cy="357.0" r="3.6"/><circle cx="294.8" cy="356.7" r="3.6"/><circle cx="295.6" cy="357.0" r="3.6"/><circle cx="296.4" cy="356.9" r="3.6"/><circle cx="297.2" cy="357.2" r="3.6"/><circle cx="298.0" cy="356.8" r="3.6"/><circle cx="298.8" cy="356.8" r="3.6"/><circle cx="299.6" cy="357.3" r="3.6"/><circle cx="300.3" cy="356.7" r="3.6"/><circle cx="301.1" cy="356.9" r="3.6"/><circle cx="301.9" cy="356.7" r="3.6"/><circle cx="302.7" cy="357.5" r="3.6"/><circle cx="303.5" cy="356.9" r="3.6"/><circle cx="304.3" cy="356.9" r="3.6"/><circle cx="305.1" cy="357.2" r="3.6"/><circle cx="305.9" cy="356.7" r="3.6"/><circle cx="306.7" cy="356.8" r="3.6"/><circle cx="307.5" cy="356.7" r="3.6"/><circle cx="308.3" cy="356.8" r="3.6"/><circle cx="309.1" cy="357.1" r="3.6"/><circle cx="309.9" cy="356.9" r="3.6"/><circle cx="310.7" cy="357.6" r="3.6"/><circle cx="311.5" cy="356.8" r="3.6"/><circle cx="312.3" cy="356.9" r="3.6"/><circle cx="313.0" cy="356.5" r="3.6"/><circle cx="313.8" cy="356.4" r="3.6"/><circle cx="314.6" cy="357.1" r="3.6"/><circle cx="315.4" cy="357.2" r="3.6"/><circle cx="316.2" cy="357.0" r="3.6"/><circle cx="317.0" cy="356.9" r="3.6"/><circle cx="317.8" cy="356.9" r="3.6"/><circle cx="318.6" cy="357.4" r="3.6"/><circle cx="319.4" cy="356.9" r="3.6"/><circle cx="320.2" cy="357.0" r="3.6"/><circle cx="321.0" cy="356.8" r="3.6"/><circle cx="321.8" cy="356.4" r="3.6"/><circle cx="322.6" cy="356.4" r="3.6"/><circle cx="323.4" cy="356.6" r="3.6"/><circle cx="324.2" cy="356.9" r="3.6"/><circle cx="324.9" cy="357.4" r="3.6"/><circle cx="325.7" cy="356.9" r="3.6"/><circle cx="326.5" cy="357.3" r="3.6"/><circle cx="327.3" cy="357.0" r="3.6"/><circle cx="328.1" cy="356.7" r="3.6"/><circle cx="328.9" cy="357.6" r="3.6"/><circle cx="329.7" cy="357.4" r="3.6"/><circle cx="330.5" cy="356.5" r="3.6"/><circle cx="331.3" cy="357.5" r="3.6"/><circle cx="332.1" cy="357.3" r="3.6"/><circle cx="332.9" cy="356.7" r="3.6"/><circle cx="333.7" cy="356.9" r="3.6"/><circle cx="334.5" cy="357.0" r="3.6"/><circle cx="335.3" cy="357.3" r="3.6"/><circle cx="336.1" cy="357.0" r="3.6"/><circle cx="336.9" cy="357.0" r="3.6"/><circle cx="337.6" cy="357.3" r="3.6"/><circle cx="338.4" cy="356.9" r="3.6"/><circle cx="339.2" cy="356.6" r="3.6"/><circle cx="340.0" cy="357.0" r="3.6"/><circle cx="340.8" cy="356.6" r="3.6"/><circle cx="341.6" cy="355.9" r="3.6"/><circle cx="342.4" cy="356.7" r="3.6"/><circle cx="343.2" cy="357.0" r="3.6"/><circle cx="344.0" cy="357.0" r="3.6"/><circle cx="344.8" cy="357.0" r="3.6"/><circle cx="345.6" cy="356.9" r="3.6"/><circle cx="346.4" cy="357.0" r="3.6"/><circle cx="347.2" cy="357.3" r="3.6"/><circle cx="348.0" cy="356.8" r="3.6"/><circle cx="348.8" cy="356.9" r="3.6"/><circle cx="349.5" cy="356.8" r="3.6"/><circle cx="350.3" cy="356.7" r="3.6"/><circle cx="351.1" cy="356.7" r="3.6"/><circle cx="351.9" cy="356.8" r="3.6"/><circle cx="352.7" cy="356.9" r="3.6"/><circle cx="353.5" cy="357.2" r="3.6"/><circle cx="354.3" cy="356.9" r="3.6"/><circle cx="355.1" cy="356.5" r="3.6"/><circle cx="355.9" cy="357.5" r="3.6"/><circle cx="356.7" cy="357.0" r="3.6"/><circle cx="357.5" cy="356.9" r="3.6"/><circle cx="358.3" cy="356.7" r="3.6"/><circle cx="359.1" cy="356.9" r="3.6"/><circle cx="359.9" cy="356.7" r="3.6"/><circle cx="360.7" cy="357.2" r="3.6"/><circle cx="361.4" cy="356.8" r="3.6"/><circle cx="362.2" cy="357.3" r="3.6"/><circle cx="363.0" cy="356.9" r="3.6"/><circle cx="363.8" cy="356.5" r="3.6"/><circle cx="364.6" cy="356.4" r="3.6"/><circle cx="365.4" cy="357.4" r="3.6"/><circle cx="366.2" cy="356.6" r="3.6"/><circle cx="367.0" cy="357.2" r="3.6"/><circle cx="367.8" cy="356.9" r="3.6"/><circle cx="368.6" cy="356.7" r="3.6"/><circle cx="369.4" cy="357.0" r="3.6"/><circle cx="370.2" cy="357.0" r="3.6"/><circle cx="371.0" cy="357.3" r="3.6"/><circle cx="371.8" cy="356.9" r="3.6"/><circle cx="372.6" cy="357.3" r="3.6"/><circle cx="373.4" cy="356.9" r="3.6"/><circle cx="374.1" cy="356.6" r="3.6"/><circle cx="374.9" cy="356.3" r="3.6"/><circle cx="375.7" cy="357.6" r="3.6"/><circle cx="376.5" cy="356.6" r="3.6"/><circle cx="377.3" cy="356.3" r="3.6"/><circle cx="378.1" cy="357.1" r="3.6"/><circle cx="378.9" cy="357.2" r="3.6"/><circle cx="379.7" cy="356.6" r="3.6"/><circle cx="380.5" cy="356.9" r="3.6"/><circle cx="381.3" cy="356.7" r="3.6"/><circle cx="382.1" cy="356.7" r="3.6"/><circle cx="382.9" cy="356.7" r="3.6"/><circle cx="383.7" cy="357.5" r="3.6"/><circle cx="384.5" cy="357.3" r="3.6"/><circle cx="385.3" cy="357.0" r="3.6"/><circle cx="386.0" cy="357.2" r="3.6"/><circle cx="386.8" cy="356.5" r="3.6"/><circle cx="387.6" cy="356.9" r="3.6"/><circle cx="388.4" cy="356.5" r="3.6"/><circle cx="389.2" cy="357.0" r="3.6"/><circle cx="390.0" cy="357.2" r="3.6"/><circle cx="390.8" cy="357.2" r="3.6"/><circle cx="391.6" cy="356.9" r="3.6"/><circle cx="392.4" cy="357.2" r="3.6"/><circle cx="393.2" cy="357.4" r="3.6"/><circle cx="394.0" cy="357.2" r="3.6"/><circle cx="394.8" cy="356.9" r="3.6"/><circle cx="395.6" cy="356.9" r="3.6"/><circle cx="396.4" cy="356.9" r="3.6"/><circle cx="397.2" cy="356.8" r="3.6"/><circle cx="397.9" cy="356.9" r="3.6"/><circle cx="398.7" cy="356.9" r="3.6"/><circle cx="399.5" cy="357.1" r="3.6"/><circle cx="400.3" cy="357.7" r="3.6"/><circle cx="401.1" cy="356.2" r="3.6"/><circle cx="401.9" cy="357.2" r="3.6"/><circle cx="402.7" cy="357.2" r="3.6"/><circle cx="403.5" cy="356.9" r="3.6"/><circle cx="404.3" cy="356.9" r="3.6"/><circle cx="405.1" cy="356.8" r="3.6"/><circle cx="405.9" cy="356.6" r="3.6"/><circle cx="406.7" cy="356.7" r="3.6"/><circle cx="407.5" cy="356.8" r="3.6"/><circle cx="408.3" cy="357.3" r="3.6"/><circle cx="409.1" cy="356.7" r="3.6"/><circle cx="409.9" cy="356.3" r="3.6"/><circle cx="410.6" cy="356.7" r="3.6"/><circle cx="411.4" cy="356.5" r="3.6"/><circle cx="412.2" cy="356.8" r="3.6"/><circle cx="413.0" cy="356.4" r="3.6"/><circle cx="413.8" cy="357.1" r="3.6"/><circle cx="414.6" cy="357.0" r="3.6"/><circle cx="415.4" cy="356.8" r="3.6"/><circle cx="416.2" cy="357.1" r="3.6"/><circle cx="417.0" cy="357.0" r="3.6"/><circle cx="417.8" cy="357.0" r="3.6"/><circle cx="418.6" cy="356.6" r="3.6"/><circle cx="419.4" cy="356.6" r="3.6"/><circle cx="420.2" cy="357.2" r="3.6"/><circle cx="421.0" cy="356.7" r="3.6"/><circle cx="421.8" cy="356.9" r="3.6"/><circle cx="422.5" cy="357.1" r="3.6"/><circle cx="423.3" cy="357.0" r="3.6"/><circle cx="424.1" cy="357.3" r="3.6"/><circle cx="424.9" cy="357.0" r="3.6"/><circle cx="425.7" cy="356.5" r="3.6"/><circle cx="426.5" cy="356.8" r="3.6"/><circle cx="427.3" cy="356.4" r="3.6"/><circle cx="428.1" cy="356.4" r="3.6"/><circle cx="428.9" cy="357.0" r="3.6"/><circle cx="429.7" cy="356.9" r="3.6"/><circle cx="430.5" cy="357.0" r="3.6"/><circle cx="431.3" cy="356.6" r="3.6"/><circle cx="432.1" cy="356.8" r="3.6"/><circle cx="432.9" cy="356.7" r="3.6"/><circle cx="433.7" cy="357.1" r="3.6"/><circle cx="434.5" cy="357.2" r="3.6"/><circle cx="435.2" cy="356.9" r="3.6"/><circle cx="436.0" cy="357.4" r="3.6"/><circle cx="436.8" cy="357.0" r="3.6"/><circle cx="437.6" cy="357.1" r="3.6"/><circle cx="438.4" cy="356.7" r="3.6"/><circle cx="439.2" cy="356.8" r="3.6"/><circle cx="440.0" cy="356.6" r="3.6"/><circle cx="440.8" cy="356.8" r="3.6"/><circle cx="441.6" cy="357.2" r="3.6"/><circle cx="442.4" cy="356.5" r="3.6"/><circle cx="443.2" cy="357.0" r="3.6"/><circle cx="444.0" cy="357.0" r="3.6"/><circle cx="444.8" cy="357.1" r="3.6"/><circle cx="445.6" cy="356.8" r="3.6"/><circle cx="446.4" cy="357.0" r="3.6"/><circle cx="447.1" cy="356.9" r="3.6"/><circle cx="447.9" cy="356.8" r="3.6"/><circle cx="448.7" cy="357.0" r="3.6"/><circle cx="449.5" cy="356.8" r="3.6"/><circle cx="450.3" cy="356.8" r="3.6"/><circle cx="451.1" cy="356.9" r="3.6"/><circle cx="451.9" cy="356.8" r="3.6"/><circle cx="452.7" cy="356.8" r="3.6"/><circle cx="453.5" cy="357.4" r="3.6"/><circle cx="454.3" cy="357.0" r="3.6"/><circle cx="455.1" cy="356.8" r="3.6"/><circle cx="455.9" cy="357.2" r="3.6"/><circle cx="456.7" cy="356.8" r="3.6"/><circle cx="457.5" cy="356.1" r="3.6"/><circle cx="458.3" cy="356.9" r="3.6"/><circle cx="459.0" cy="357.5" r="3.6"/><circle cx="459.8" cy="356.5" r="3.6"/><circle cx="460.6" cy="357.0" r="3.6"/><circle cx="461.4" cy="357.0" r="3.6"/><circle cx="462.2" cy="357.3" r="3.6"/><circle cx="463.0" cy="356.7" r="3.6"/><circle cx="463.8" cy="356.9" r="3.6"/><circle cx="464.6" cy="356.9" r="3.6"/><circle cx="465.4" cy="356.7" r="3.6"/><circle cx="466.2" cy="356.5" r="3.6"/><circle cx="467.0" cy="356.4" r="3.6"/><circle cx="467.8" cy="356.9" r="3.6"/><circle cx="468.6" cy="357.1" r="3.6"/><circle cx="469.4" cy="356.6" r="3.6"/><circle cx="470.2" cy="357.4" r="3.6"/><circle cx="471.0" cy="356.8" r="3.6"/><circle cx="471.7" cy="357.2" r="3.6"/><circle cx="472.5" cy="357.1" r="3.6"/><circle cx="473.3" cy="356.4" r="3.6"/><circle cx="474.1" cy="357.0" r="3.6"/><circle cx="474.9" cy="356.7" r="3.6"/><circle cx="475.7" cy="356.7" r="3.6"/><circle cx="476.5" cy="356.7" r="3.6"/><circle cx="477.3" cy="357.2" r="3.6"/><circle cx="478.1" cy="357.3" r="3.6"/><circle cx="478.9" cy="356.4" r="3.6"/><circle cx="479.7" cy="357.1" r="3.6"/><circle cx="480.5" cy="356.8" r="3.6"/><circle cx="481.3" cy="357.4" r="3.6"/><circle cx="482.1" cy="357.2" r="3.6"/><circle cx="482.9" cy="356.5" r="3.6"/><circle cx="483.6" cy="357.1" r="3.6"/><circle cx="484.4" cy="356.4" r="3.6"/><circle cx="485.2" cy="356.5" r="3.6"/><circle cx="486.0" cy="357.3" r="3.6"/><circle cx="486.8" cy="356.9" r="3.6"/><circle cx="487.6" cy="357.3" r="3.6"/><circle cx="488.4" cy="356.6" r="3.6"/><circle cx="489.2" cy="357.1" r="3.6"/><circle cx="490.0" cy="356.7" r="3.6"/><circle cx="490.8" cy="357.3" r="3.6"/><circle cx="491.6" cy="357.0" r="3.6"/><circle cx="492.4" cy="356.7" r="3.6"/><circle cx="493.2" cy="356.4" r="3.6"/><circle cx="494.0" cy="356.8" r="3.6"/><circle cx="494.8" cy="356.4" r="3.6"/><circle cx="495.5" cy="356.7" r="3.6"/><circle cx="496.3" cy="357.3" r="3.6"/><circle cx="497.1" cy="356.6" r="3.6"/><circle cx="497.9" cy="357.2" r="3.6"/><circle cx="498.7" cy="357.3" r="3.6"/><circle cx="499.5" cy="356.9" r="3.6"/><circle cx="500.3" cy="357.1" r="3.6"/><circle cx="501.1" cy="356.5" r="3.6"/><circle cx="501.9" cy="356.6" r="3.6"/><circle cx="502.7" cy="357.1" r="3.6"/><circle cx="503.5" cy="356.8" r="3.6"/><circle cx="504.3" cy="356.8" r="3.6"/><circle cx="505.1" cy="356.6" r="3.6"/><circle cx="505.9" cy="356.9" r="3.6"/><circle cx="506.7" cy="357.0" r="3.6"/><circle cx="507.5" cy="357.1" r="3.6"/><circle cx="508.2" cy="357.0" r="3.6"/><circle cx="509.0" cy="356.5" r="3.6"/><circle cx="509.8" cy="356.6" r="3.6"/><circle cx="510.6" cy="357.0" r="3.6"/><circle cx="511.4" cy="356.7" r="3.6"/><circle cx="512.2" cy="356.7" r="3.6"/><circle cx="513.0" cy="356.3" r="3.6"/><circle cx="513.8" cy="357.2" r="3.6"/><circle cx="514.6" cy="356.5" r="3.6"/><circle cx="515.4" cy="356.9" r="3.6"/><circle cx="516.2" cy="356.6" r="3.6"/><circle cx="517.0" cy="357.1" r="3.6"/><circle cx="517.8" cy="356.9" r="3.6"/><circle cx="518.6" cy="355.6" r="3.6"/><circle cx="519.4" cy="357.2" r="3.6"/><circle cx="520.1" cy="356.6" r="3.6"/><circle cx="520.9" cy="356.3" r="3.6"/><circle cx="521.7" cy="356.6" r="3.6"/><circle cx="522.5" cy="357.0" r="3.6"/><circle cx="523.3" cy="356.5" r="3.6"/><circle cx="524.1" cy="356.8" r="3.6"/><circle cx="524.9" cy="356.5" r="3.6"/><circle cx="525.7" cy="356.9" r="3.6"/><circle cx="526.5" cy="356.6" r="3.6"/><circle cx="527.3" cy="356.5" r="3.6"/><circle cx="528.1" cy="357.0" r="3.6"/><circle cx="528.9" cy="357.0" r="3.6"/><circle cx="529.7" cy="357.1" r="3.6"/><circle cx="530.5" cy="356.8" r="3.6"/><circle cx="531.3" cy="357.1" r="3.6"/><circle cx="532.1" cy="356.4" r="3.6"/><circle cx="532.8" cy="356.8" r="3.6"/><circle cx="533.6" cy="356.5" r="3.6"/><circle cx="534.4" cy="356.7" r="3.6"/><circle cx="535.2" cy="356.9" r="3.6"/><circle cx="536.0" cy="356.8" r="3.6"/><circle cx="536.8" cy="357.3" r="3.6"/><circle cx="537.6" cy="356.5" r="3.6"/><circle cx="538.4" cy="357.4" r="3.6"/><circle cx="539.2" cy="356.9" r="3.6"/><circle cx="540.0" cy="356.8" r="3.6"/><circle cx="540.8" cy="356.9" r="3.6"/><circle cx="541.6" cy="357.0" r="3.6"/><circle cx="542.4" cy="356.6" r="3.6"/><circle cx="543.2" cy="356.8" r="3.6"/><circle cx="544.0" cy="356.8" r="3.6"/><circle cx="544.7" cy="356.7" r="3.6"/><circle cx="545.5" cy="356.9" r="3.6"/><circle cx="546.3" cy="356.7" r="3.6"/><circle cx="547.1" cy="356.7" r="3.6"/><circle cx="547.9" cy="356.6" r="3.6"/><circle cx="548.7" cy="357.1" r="3.6"/><circle cx="549.5" cy="356.8" r="3.6"/><circle cx="550.3" cy="356.5" r="3.6"/><circle cx="551.1" cy="356.9" r="3.6"/><circle cx="551.9" cy="356.7" r="3.6"/><circle cx="552.7" cy="356.7" r="3.6"/><circle cx="553.5" cy="356.5" r="3.6"/><circle cx="554.3" cy="356.9" r="3.6"/><circle cx="555.1" cy="357.1" r="3.6"/><circle cx="555.9" cy="356.5" r="3.6"/><circle cx="556.6" cy="356.6" r="3.6"/><circle cx="557.4" cy="357.1" r="3.6"/><circle cx="558.2" cy="356.8" r="3.6"/><circle cx="559.0" cy="357.1" r="3.6"/><circle cx="559.8" cy="357.0" r="3.6"/><circle cx="560.6" cy="356.6" r="3.6"/><circle cx="561.4" cy="357.0" r="3.6"/><circle cx="562.2" cy="357.2" r="3.6"/><circle cx="563.0" cy="357.2" r="3.6"/><circle cx="563.8" cy="356.4" r="3.6"/><circle cx="564.6" cy="356.9" r="3.6"/><circle cx="565.4" cy="357.0" r="3.6"/><circle cx="566.2" cy="356.9" r="3.6"/><circle cx="567.0" cy="356.7" r="3.6"/><circle cx="567.8" cy="356.8" r="3.6"/><circle cx="568.6" cy="356.9" r="3.6"/><circle cx="569.3" cy="357.1" r="3.6"/><circle cx="570.1" cy="356.8" r="3.6"/><circle cx="570.9" cy="357.4" r="3.6"/><circle cx="571.7" cy="356.9" r="3.6"/><circle cx="572.5" cy="356.9" r="3.6"/><circle cx="573.3" cy="356.5" r="3.6"/><circle cx="574.1" cy="356.8" r="3.6"/><circle cx="574.9" cy="356.5" r="3.6"/><circle cx="575.7" cy="356.5" r="3.6"/><circle cx="576.5" cy="357.0" r="3.6"/><circle cx="577.3" cy="356.7" r="3.6"/><circle cx="578.1" cy="356.9" r="3.6"/><circle cx="578.9" cy="356.8" r="3.6"/><circle cx="579.7" cy="356.7" r="3.6"/><circle cx="580.5" cy="356.8" r="3.6"/><circle cx="581.2" cy="356.7" r="3.6"/><circle cx="582.0" cy="356.9" r="3.6"/><circle cx="582.8" cy="357.4" r="3.6"/><circle cx="583.6" cy="356.7" r="3.6"/><circle cx="584.4" cy="356.8" r="3.6"/><circle cx="585.2" cy="356.6" r="3.6"/><circle cx="586.0" cy="356.3" r="3.6"/><circle cx="586.8" cy="356.3" r="3.6"/><circle cx="587.6" cy="356.5" r="3.6"/><circle cx="588.4" cy="356.7" r="3.6"/><circle cx="589.2" cy="356.8" r="3.6"/><circle cx="590.0" cy="356.3" r="3.6"/><circle cx="590.8" cy="356.7" r="3.6"/><circle cx="591.6" cy="356.7" r="3.6"/><circle cx="592.4" cy="356.6" r="3.6"/><circle cx="593.2" cy="356.5" r="3.6"/><circle cx="593.9" cy="356.8" r="3.6"/><circle cx="594.7" cy="356.9" r="3.6"/><circle cx="595.5" cy="356.6" r="3.6"/><circle cx="596.3" cy="356.3" r="3.6"/><circle cx="597.1" cy="356.8" r="3.6"/><circle cx="597.9" cy="356.6" r="3.6"/><circle cx="598.7" cy="356.6" r="3.6"/><circle cx="599.5" cy="357.2" r="3.6"/><circle cx="600.3" cy="356.8" r="3.6"/><circle cx="601.1" cy="356.7" r="3.6"/><circle cx="601.9" cy="357.1" r="3.6"/><circle cx="602.7" cy="357.0" r="3.6"/><circle cx="603.5" cy="356.9" r="3.6"/><circle cx="604.3" cy="356.4" r="3.6"/><circle cx="605.1" cy="357.2" r="3.6"/><circle cx="605.8" cy="356.6" r="3.6"/><circle cx="606.6" cy="356.5" r="3.6"/><circle cx="607.4" cy="356.6" r="3.6"/><circle cx="608.2" cy="357.2" r="3.6"/><circle cx="609.0" cy="356.7" r="3.6"/><circle cx="609.8" cy="357.0" r="3.6"/><circle cx="610.6" cy="356.8" r="3.6"/><circle cx="611.4" cy="357.0" r="3.6"/><circle cx="612.2" cy="356.4" r="3.6"/><circle cx="613.0" cy="356.9" r="3.6"/><circle cx="613.8" cy="356.8" r="3.6"/><circle cx="614.6" cy="356.2" r="3.6"/><circle cx="615.4" cy="356.4" r="3.6"/><circle cx="616.2" cy="357.5" r="3.6"/><circle cx="617.0" cy="356.7" r="3.6"/><circle cx="617.7" cy="357.0" r="3.6"/><circle cx="618.5" cy="356.6" r="3.6"/><circle cx="619.3" cy="357.0" r="3.6"/><circle cx="620.1" cy="356.2" r="3.6"/><circle cx="620.9" cy="356.4" r="3.6"/><circle cx="621.7" cy="356.7" r="3.6"/><circle cx="622.5" cy="357.1" r="3.6"/><circle cx="623.3" cy="357.3" r="3.6"/><circle cx="624.1" cy="356.5" r="3.6"/><circle cx="624.9" cy="356.6" r="3.6"/><circle cx="625.7" cy="356.6" r="3.6"/><circle cx="626.5" cy="357.2" r="3.6"/><circle cx="627.3" cy="356.6" r="3.6"/><circle cx="628.1" cy="356.8" r="3.6"/><circle cx="628.9" cy="356.9" r="3.6"/><circle cx="629.7" cy="356.7" r="3.6"/><circle cx="630.4" cy="356.3" r="3.6"/><circle cx="631.2" cy="356.2" r="3.6"/><circle cx="632.0" cy="357.1" r="3.6"/><circle cx="632.8" cy="357.2" r="3.6"/><circle cx="633.6" cy="357.0" r="3.6"/><circle cx="634.4" cy="356.6" r="3.6"/><circle cx="635.2" cy="357.0" r="3.6"/><circle cx="636.0" cy="356.4" r="3.6"/><circle cx="636.8" cy="356.4" r="3.6"/><circle cx="637.6" cy="356.0" r="3.6"/><circle cx="638.4" cy="356.5" r="3.6"/><circle cx="639.2" cy="356.5" r="3.6"/><circle cx="640.0" cy="356.4" r="3.6"/><circle cx="640.8" cy="356.7" r="3.6"/><circle cx="641.6" cy="356.8" r="3.6"/><circle cx="642.3" cy="356.4" r="3.6"/><circle cx="643.1" cy="357.2" r="3.6"/><circle cx="643.9" cy="357.2" r="3.6"/><circle cx="644.7" cy="356.7" r="3.6"/><circle cx="645.5" cy="356.6" r="3.6"/><circle cx="646.3" cy="356.8" r="3.6"/><circle cx="647.1" cy="356.6" r="3.6"/><circle cx="647.9" cy="356.6" r="3.6"/><circle cx="648.7" cy="356.4" r="3.6"/><circle cx="649.5" cy="356.2" r="3.6"/><circle cx="650.3" cy="356.7" r="3.6"/><circle cx="651.1" cy="356.1" r="3.6"/><circle cx="651.9" cy="357.3" r="3.6"/><circle cx="652.7" cy="357.2" r="3.6"/><circle cx="653.5" cy="357.3" r="3.6"/><circle cx="654.2" cy="356.8" r="3.6"/></g>
<g fill="#fff" stroke="#3fb9c8" stroke-width="0.72" clip-path="url(#cg)"><circle cx="258.3" cy="368.9" r="3.6"/><circle cx="259.1" cy="370.4" r="3.6"/><circle cx="259.9" cy="369.3" r="3.6"/><circle cx="260.7" cy="368.3" r="3.6"/><circle cx="261.5" cy="368.4" r="3.6"/><circle cx="262.3" cy="368.7" r="3.6"/><circle cx="263.1" cy="368.5" r="3.6"/><circle cx="263.8" cy="367.5" r="3.6"/><circle cx="264.6" cy="368.0" r="3.6"/><circle cx="265.4" cy="367.1" r="3.6"/><circle cx="266.2" cy="366.7" r="3.6"/><circle cx="267.0" cy="367.5" r="3.6"/><circle cx="267.8" cy="367.5" r="3.6"/><circle cx="268.6" cy="364.6" r="3.6"/><circle cx="269.4" cy="367.5" r="3.6"/><circle cx="270.2" cy="366.6" r="3.6"/><circle cx="271.0" cy="365.5" r="3.6"/><circle cx="271.8" cy="365.0" r="3.6"/><circle cx="272.6" cy="365.2" r="3.6"/><circle cx="273.4" cy="363.7" r="3.6"/><circle cx="274.2" cy="364.8" r="3.6"/><circle cx="275.0" cy="365.0" r="3.6"/><circle cx="275.8" cy="365.5" r="3.6"/><circle cx="276.5" cy="364.3" r="3.6"/><circle cx="277.3" cy="364.1" r="3.6"/><circle cx="278.1" cy="363.8" r="3.6"/><circle cx="278.9" cy="363.1" r="3.6"/><circle cx="279.7" cy="363.5" r="3.6"/><circle cx="280.5" cy="362.9" r="3.6"/><circle cx="281.3" cy="362.0" r="3.6"/><circle cx="282.1" cy="363.4" r="3.6"/><circle cx="282.9" cy="361.1" r="3.6"/><circle cx="283.7" cy="359.4" r="3.6"/><circle cx="284.5" cy="361.8" r="3.6"/><circle cx="285.3" cy="358.9" r="3.6"/><circle cx="286.1" cy="363.2" r="3.6"/><circle cx="286.9" cy="360.8" r="3.6"/><circle cx="287.7" cy="361.0" r="3.6"/><circle cx="288.4" cy="361.3" r="3.6"/><circle cx="289.2" cy="359.9" r="3.6"/><circle cx="290.0" cy="360.1" r="3.6"/><circle cx="290.8" cy="361.7" r="3.6"/><circle cx="291.6" cy="360.9" r="3.6"/><circle cx="292.4" cy="360.8" r="3.6"/><circle cx="293.2" cy="360.9" r="3.6"/><circle cx="294.0" cy="359.6" r="3.6"/><circle cx="294.8" cy="359.6" r="3.6"/><circle cx="295.6" cy="361.0" r="3.6"/><circle cx="296.4" cy="359.4" r="3.6"/><circle cx="297.2" cy="359.2" r="3.6"/><circle cx="298.0" cy="360.2" r="3.6"/><circle cx="298.8" cy="360.2" r="3.6"/><circle cx="299.6" cy="361.0" r="3.6"/><circle cx="300.3" cy="360.0" r="3.6"/><circle cx="301.1" cy="359.5" r="3.6"/><circle cx="301.9" cy="361.0" r="3.6"/><circle cx="302.7" cy="360.5" r="3.6"/><circle cx="303.5" cy="360.6" r="3.6"/><circle cx="304.3" cy="360.1" r="3.6"/><circle cx="305.1" cy="359.3" r="3.6"/><circle cx="305.9" cy="359.5" r="3.6"/><circle cx="306.7" cy="359.5" r="3.6"/><circle cx="307.5" cy="360.0" r="3.6"/><circle cx="308.3" cy="358.7" r="3.6"/><circle cx="309.1" cy="358.8" r="3.6"/><circle cx="309.9" cy="359.2" r="3.6"/><circle cx="310.7" cy="359.7" r="3.6"/><circle cx="311.5" cy="360.0" r="3.6"/><circle cx="312.3" cy="358.8" r="3.6"/><circle cx="313.0" cy="358.9" r="3.6"/><circle cx="313.8" cy="358.7" r="3.6"/><circle cx="314.6" cy="358.0" r="3.6"/><circle cx="315.4" cy="358.3" r="3.6"/><circle cx="316.2" cy="360.5" r="3.6"/><circle cx="317.0" cy="358.8" r="3.6"/><circle cx="317.8" cy="358.9" r="3.6"/><circle cx="318.6" cy="358.0" r="3.6"/><circle cx="319.4" cy="358.9" r="3.6"/><circle cx="320.2" cy="358.3" r="3.6"/><circle cx="321.0" cy="357.8" r="3.6"/><circle cx="321.8" cy="359.3" r="3.6"/><circle cx="322.6" cy="357.5" r="3.6"/><circle cx="323.4" cy="358.0" r="3.6"/><circle cx="324.2" cy="358.4" r="3.6"/><circle cx="324.9" cy="359.5" r="3.6"/><circle cx="325.7" cy="358.6" r="3.6"/><circle cx="326.5" cy="358.9" r="3.6"/><circle cx="327.3" cy="358.2" r="3.6"/><circle cx="328.1" cy="358.2" r="3.6"/><circle cx="328.9" cy="358.1" r="3.6"/><circle cx="329.7" cy="357.8" r="3.6"/><circle cx="330.5" cy="358.4" r="3.6"/><circle cx="331.3" cy="357.6" r="3.6"/><circle cx="332.1" cy="359.0" r="3.6"/><circle cx="332.9" cy="357.4" r="3.6"/><circle cx="333.7" cy="357.2" r="3.6"/><circle cx="334.5" cy="357.6" r="3.6"/><circle cx="335.3" cy="357.2" r="3.6"/><circle cx="336.1" cy="357.4" r="3.6"/><circle cx="336.9" cy="358.3" r="3.6"/><circle cx="337.6" cy="358.6" r="3.6"/><circle cx="338.4" cy="356.6" r="3.6"/><circle cx="339.2" cy="358.4" r="3.6"/><circle cx="340.0" cy="358.2" r="3.6"/><circle cx="340.8" cy="357.7" r="3.6"/><circle cx="341.6" cy="359.5" r="3.6"/><circle cx="342.4" cy="358.7" r="3.6"/><circle cx="343.2" cy="357.6" r="3.6"/><circle cx="344.0" cy="358.0" r="3.6"/><circle cx="344.8" cy="358.7" r="3.6"/><circle cx="345.6" cy="358.2" r="3.6"/><circle cx="346.4" cy="358.4" r="3.6"/><circle cx="347.2" cy="356.7" r="3.6"/><circle cx="348.0" cy="357.6" r="3.6"/><circle cx="348.8" cy="357.5" r="3.6"/><circle cx="349.5" cy="356.8" r="3.6"/><circle cx="350.3" cy="358.3" r="3.6"/><circle cx="351.1" cy="357.5" r="3.6"/><circle cx="351.9" cy="357.8" r="3.6"/><circle cx="352.7" cy="357.2" r="3.6"/><circle cx="353.5" cy="357.3" r="3.6"/><circle cx="354.3" cy="356.7" r="3.6"/><circle cx="355.1" cy="357.3" r="3.6"/><circle cx="355.9" cy="356.6" r="3.6"/><circle cx="356.7" cy="358.0" r="3.6"/><circle cx="357.5" cy="356.3" r="3.6"/><circle cx="358.3" cy="357.5" r="3.6"/><circle cx="359.1" cy="357.8" r="3.6"/><circle cx="359.9" cy="357.1" r="3.6"/><circle cx="360.7" cy="357.6" r="3.6"/><circle cx="361.4" cy="357.4" r="3.6"/><circle cx="362.2" cy="357.8" r="3.6"/><circle cx="363.0" cy="357.1" r="3.6"/><circle cx="363.8" cy="357.6" r="3.6"/><circle cx="364.6" cy="357.1" r="3.6"/><circle cx="365.4" cy="356.8" r="3.6"/><circle cx="366.2" cy="357.9" r="3.6"/><circle cx="367.0" cy="357.7" r="3.6"/><circle cx="367.8" cy="357.0" r="3.6"/><circle cx="368.6" cy="357.3" r="3.6"/><circle cx="369.4" cy="358.3" r="3.6"/><circle cx="370.2" cy="356.8" r="3.6"/><circle cx="371.0" cy="356.2" r="3.6"/><circle cx="371.8" cy="357.7" r="3.6"/><circle cx="372.6" cy="356.0" r="3.6"/><circle cx="373.4" cy="356.8" r="3.6"/><circle cx="374.1" cy="355.6" r="3.6"/><circle cx="374.9" cy="357.7" r="3.6"/><circle cx="375.7" cy="357.8" r="3.6"/><circle cx="376.5" cy="357.0" r="3.6"/><circle cx="377.3" cy="356.8" r="3.6"/><circle cx="378.1" cy="357.8" r="3.6"/><circle cx="378.9" cy="358.6" r="3.6"/><circle cx="379.7" cy="357.1" r="3.6"/><circle cx="380.5" cy="356.6" r="3.6"/><circle cx="381.3" cy="357.6" r="3.6"/><circle cx="382.1" cy="356.8" r="3.6"/><circle cx="382.9" cy="357.2" r="3.6"/><circle cx="383.7" cy="358.4" r="3.6"/><circle cx="384.5" cy="357.6" r="3.6"/><circle cx="385.3" cy="356.6" r="3.6"/><circle cx="386.0" cy="356.7" r="3.6"/><circle cx="386.8" cy="356.4" r="3.6"/><circle cx="387.6" cy="356.4" r="3.6"/><circle cx="388.4" cy="357.4" r="3.6"/><circle cx="389.2" cy="357.3" r="3.6"/><circle cx="390.0" cy="356.6" r="3.6"/><circle cx="390.8" cy="355.6" r="3.6"/><circle cx="391.6" cy="355.7" r="3.6"/><circle cx="392.4" cy="357.3" r="3.6"/><circle cx="393.2" cy="357.1" r="3.6"/><circle cx="394.0" cy="356.9" r="3.6"/><circle cx="394.8" cy="356.7" r="3.6"/><circle cx="395.6" cy="357.3" r="3.6"/><circle cx="396.4" cy="355.8" r="3.6"/><circle cx="397.2" cy="355.6" r="3.6"/><circle cx="397.9" cy="356.6" r="3.6"/><circle cx="398.7" cy="356.3" r="3.6"/><circle cx="399.5" cy="355.3" r="3.6"/><circle cx="400.3" cy="357.6" r="3.6"/><circle cx="401.1" cy="357.2" r="3.6"/><circle cx="401.9" cy="357.2" r="3.6"/><circle cx="402.7" cy="355.8" r="3.6"/><circle cx="403.5" cy="356.3" r="3.6"/><circle cx="404.3" cy="356.3" r="3.6"/><circle cx="405.1" cy="357.7" r="3.6"/><circle cx="405.9" cy="355.5" r="3.6"/><circle cx="406.7" cy="356.6" r="3.6"/><circle cx="407.5" cy="355.2" r="3.6"/><circle cx="408.3" cy="356.8" r="3.6"/><circle cx="409.1" cy="356.5" r="3.6"/><circle cx="409.9" cy="356.8" r="3.6"/><circle cx="410.6" cy="355.4" r="3.6"/><circle cx="411.4" cy="356.0" r="3.6"/><circle cx="412.2" cy="356.4" r="3.6"/><circle cx="413.0" cy="356.4" r="3.6"/><circle cx="413.8" cy="358.0" r="3.6"/><circle cx="414.6" cy="356.5" r="3.6"/><circle cx="415.4" cy="356.9" r="3.6"/><circle cx="416.2" cy="358.8" r="3.6"/><circle cx="417.0" cy="355.7" r="3.6"/><circle cx="417.8" cy="356.6" r="3.6"/><circle cx="418.6" cy="356.5" r="3.6"/><circle cx="419.4" cy="357.1" r="3.6"/><circle cx="420.2" cy="356.0" r="3.6"/><circle cx="421.0" cy="356.8" r="3.6"/><circle cx="421.8" cy="357.4" r="3.6"/><circle cx="422.5" cy="357.4" r="3.6"/><circle cx="423.3" cy="356.6" r="3.6"/><circle cx="424.1" cy="356.2" r="3.6"/><circle cx="424.9" cy="355.1" r="3.6"/><circle cx="425.7" cy="357.3" r="3.6"/><circle cx="426.5" cy="357.2" r="3.6"/><circle cx="427.3" cy="355.8" r="3.6"/><circle cx="428.1" cy="356.7" r="3.6"/><circle cx="428.9" cy="357.2" r="3.6"/><circle cx="429.7" cy="356.6" r="3.6"/><circle cx="430.5" cy="356.9" r="3.6"/><circle cx="431.3" cy="355.8" r="3.6"/><circle cx="432.1" cy="356.8" r="3.6"/><circle cx="432.9" cy="356.2" r="3.6"/><circle cx="433.7" cy="357.2" r="3.6"/><circle cx="434.5" cy="356.2" r="3.6"/><circle cx="435.2" cy="357.8" r="3.6"/><circle cx="436.0" cy="356.1" r="3.6"/><circle cx="436.8" cy="355.9" r="3.6"/><circle cx="437.6" cy="356.3" r="3.6"/><circle cx="438.4" cy="356.8" r="3.6"/><circle cx="439.2" cy="357.2" r="3.6"/><circle cx="440.0" cy="355.9" r="3.6"/><circle cx="440.8" cy="355.5" r="3.6"/><circle cx="441.6" cy="356.7" r="3.6"/><circle cx="442.4" cy="356.7" r="3.6"/><circle cx="443.2" cy="357.0" r="3.6"/><circle cx="444.0" cy="356.4" r="3.6"/><circle cx="444.8" cy="357.4" r="3.6"/><circle cx="445.6" cy="356.3" r="3.6"/><circle cx="446.4" cy="356.8" r="3.6"/><circle cx="447.1" cy="357.2" r="3.6"/><circle cx="447.9" cy="356.8" r="3.6"/><circle cx="448.7" cy="356.6" r="3.6"/><circle cx="449.5" cy="357.5" r="3.6"/><circle cx="450.3" cy="356.8" r="3.6"/><circle cx="451.1" cy="355.0" r="3.6"/><circle cx="451.9" cy="356.6" r="3.6"/><circle cx="452.7" cy="356.5" r="3.6"/><circle cx="453.5" cy="356.4" r="3.6"/><circle cx="454.3" cy="356.4" r="3.6"/><circle cx="455.1" cy="356.9" r="3.6"/><circle cx="455.9" cy="358.9" r="3.6"/><circle cx="456.7" cy="355.7" r="3.6"/><circle cx="457.5" cy="356.8" r="3.6"/><circle cx="458.3" cy="357.7" r="3.6"/><circle cx="459.0" cy="356.6" r="3.6"/><circle cx="459.8" cy="356.4" r="3.6"/><circle cx="460.6" cy="356.1" r="3.6"/><circle cx="461.4" cy="355.3" r="3.6"/><circle cx="462.2" cy="355.8" r="3.6"/><circle cx="463.0" cy="356.4" r="3.6"/><circle cx="463.8" cy="355.6" r="3.6"/><circle cx="464.6" cy="354.7" r="3.6"/><circle cx="465.4" cy="357.9" r="3.6"/><circle cx="466.2" cy="356.5" r="3.6"/><circle cx="467.0" cy="354.5" r="3.6"/><circle cx="467.8" cy="356.2" r="3.6"/><circle cx="468.6" cy="355.9" r="3.6"/><circle cx="469.4" cy="357.3" r="3.6"/><circle cx="470.2" cy="357.1" r="3.6"/><circle cx="471.0" cy="357.5" r="3.6"/><circle cx="471.7" cy="355.9" r="3.6"/><circle cx="472.5" cy="355.6" r="3.6"/><circle cx="473.3" cy="356.3" r="3.6"/><circle cx="474.1" cy="356.1" r="3.6"/><circle cx="474.9" cy="355.0" r="3.6"/><circle cx="475.7" cy="355.8" r="3.6"/><circle cx="476.5" cy="354.3" r="3.6"/><circle cx="477.3" cy="356.3" r="3.6"/><circle cx="478.1" cy="356.1" r="3.6"/><circle cx="478.9" cy="355.6" r="3.6"/><circle cx="479.7" cy="356.6" r="3.6"/><circle cx="480.5" cy="356.2" r="3.6"/><circle cx="481.3" cy="357.2" r="3.6"/><circle cx="482.1" cy="355.1" r="3.6"/><circle cx="482.9" cy="354.7" r="3.6"/><circle cx="483.6" cy="356.0" r="3.6"/><circle cx="484.4" cy="356.6" r="3.6"/><circle cx="485.2" cy="355.9" r="3.6"/><circle cx="486.0" cy="356.4" r="3.6"/><circle cx="486.8" cy="356.8" r="3.6"/><circle cx="487.6" cy="356.0" r="3.6"/><circle cx="488.4" cy="356.1" r="3.6"/><circle cx="489.2" cy="356.0" r="3.6"/><circle cx="490.0" cy="355.6" r="3.6"/><circle cx="490.8" cy="356.8" r="3.6"/><circle cx="491.6" cy="355.1" r="3.6"/><circle cx="492.4" cy="355.1" r="3.6"/><circle cx="493.2" cy="355.7" r="3.6"/><circle cx="494.0" cy="357.1" r="3.6"/><circle cx="494.8" cy="356.8" r="3.6"/><circle cx="495.5" cy="357.6" r="3.6"/><circle cx="496.3" cy="356.7" r="3.6"/><circle cx="497.1" cy="355.5" r="3.6"/><circle cx="497.9" cy="355.5" r="3.6"/><circle cx="498.7" cy="356.5" r="3.6"/><circle cx="499.5" cy="356.4" r="3.6"/><circle cx="500.3" cy="356.2" r="3.6"/><circle cx="501.1" cy="356.8" r="3.6"/><circle cx="501.9" cy="354.0" r="3.6"/><circle cx="502.7" cy="356.2" r="3.6"/><circle cx="503.5" cy="355.9" r="3.6"/><circle cx="504.3" cy="356.9" r="3.6"/><circle cx="505.1" cy="355.8" r="3.6"/><circle cx="505.9" cy="356.6" r="3.6"/><circle cx="506.7" cy="356.9" r="3.6"/><circle cx="507.5" cy="356.4" r="3.6"/><circle cx="508.2" cy="355.0" r="3.6"/><circle cx="509.0" cy="355.5" r="3.6"/><circle cx="509.8" cy="357.1" r="3.6"/><circle cx="510.6" cy="356.3" r="3.6"/><circle cx="511.4" cy="355.8" r="3.6"/><circle cx="512.2" cy="356.1" r="3.6"/><circle cx="513.0" cy="356.0" r="3.6"/><circle cx="513.8" cy="355.6" r="3.6"/><circle cx="514.6" cy="356.2" r="3.6"/><circle cx="515.4" cy="355.2" r="3.6"/><circle cx="516.2" cy="356.0" r="3.6"/><circle cx="517.0" cy="357.0" r="3.6"/><circle cx="517.8" cy="355.6" r="3.6"/><circle cx="518.6" cy="355.5" r="3.6"/><circle cx="519.4" cy="358.4" r="3.6"/><circle cx="520.1" cy="355.9" r="3.6"/><circle cx="520.9" cy="356.7" r="3.6"/><circle cx="521.7" cy="356.1" r="3.6"/><circle cx="522.5" cy="355.7" r="3.6"/><circle cx="523.3" cy="356.7" r="3.6"/><circle cx="524.1" cy="355.7" r="3.6"/><circle cx="524.9" cy="356.4" r="3.6"/><circle cx="525.7" cy="355.9" r="3.6"/><circle cx="526.5" cy="356.9" r="3.6"/><circle cx="527.3" cy="355.3" r="3.6"/><circle cx="528.1" cy="356.4" r="3.6"/><circle cx="528.9" cy="356.2" r="3.6"/><circle cx="529.7" cy="355.3" r="3.6"/><circle cx="530.5" cy="355.6" r="3.6"/><circle cx="531.3" cy="354.9" r="3.6"/><circle cx="532.1" cy="355.9" r="3.6"/><circle cx="532.8" cy="356.3" r="3.6"/><circle cx="533.6" cy="355.9" r="3.6"/><circle cx="534.4" cy="356.0" r="3.6"/><circle cx="535.2" cy="356.4" r="3.6"/><circle cx="536.0" cy="356.0" r="3.6"/><circle cx="536.8" cy="356.1" r="3.6"/><circle cx="537.6" cy="356.5" r="3.6"/><circle cx="538.4" cy="356.3" r="3.6"/><circle cx="539.2" cy="356.2" r="3.6"/><circle cx="540.0" cy="354.6" r="3.6"/><circle cx="540.8" cy="355.8" r="3.6"/><circle cx="541.6" cy="356.3" r="3.6"/><circle cx="542.4" cy="355.8" r="3.6"/><circle cx="543.2" cy="356.0" r="3.6"/><circle cx="544.0" cy="355.6" r="3.6"/><circle cx="544.7" cy="355.2" r="3.6"/><circle cx="545.5" cy="355.3" r="3.6"/><circle cx="546.3" cy="355.3" r="3.6"/><circle cx="547.1" cy="356.5" r="3.6"/><circle cx="547.9" cy="355.4" r="3.6"/><circle cx="548.7" cy="356.4" r="3.6"/><circle cx="549.5" cy="354.9" r="3.6"/><circle cx="550.3" cy="355.9" r="3.6"/><circle cx="551.1" cy="356.5" r="3.6"/><circle cx="551.9" cy="357.4" r="3.6"/><circle cx="552.7" cy="355.4" r="3.6"/><circle cx="553.5" cy="355.9" r="3.6"/><circle cx="554.3" cy="356.5" r="3.6"/><circle cx="555.1" cy="357.5" r="3.6"/><circle cx="555.9" cy="355.1" r="3.6"/><circle cx="556.6" cy="356.6" r="3.6"/><circle cx="557.4" cy="356.2" r="3.6"/><circle cx="558.2" cy="355.4" r="3.6"/><circle cx="559.0" cy="356.2" r="3.6"/><circle cx="559.8" cy="354.3" r="3.6"/><circle cx="560.6" cy="355.3" r="3.6"/><circle cx="561.4" cy="355.9" r="3.6"/><circle cx="562.2" cy="356.0" r="3.6"/><circle cx="563.0" cy="356.0" r="3.6"/><circle cx="563.8" cy="355.9" r="3.6"/><circle cx="564.6" cy="355.6" r="3.6"/><circle cx="565.4" cy="355.7" r="3.6"/><circle cx="566.2" cy="355.0" r="3.6"/><circle cx="567.0" cy="354.8" r="3.6"/><circle cx="567.8" cy="355.8" r="3.6"/><circle cx="568.6" cy="354.5" r="3.6"/><circle cx="569.3" cy="354.4" r="3.6"/><circle cx="570.1" cy="354.9" r="3.6"/><circle cx="570.9" cy="355.7" r="3.6"/><circle cx="571.7" cy="356.2" r="3.6"/><circle cx="572.5" cy="356.9" r="3.6"/><circle cx="573.3" cy="356.5" r="3.6"/><circle cx="574.1" cy="355.6" r="3.6"/><circle cx="574.9" cy="355.2" r="3.6"/><circle cx="575.7" cy="356.1" r="3.6"/><circle cx="576.5" cy="355.3" r="3.6"/><circle cx="577.3" cy="355.6" r="3.6"/><circle cx="578.1" cy="356.7" r="3.6"/><circle cx="578.9" cy="356.8" r="3.6"/><circle cx="579.7" cy="355.9" r="3.6"/><circle cx="580.5" cy="357.2" r="3.6"/><circle cx="581.2" cy="355.1" r="3.6"/><circle cx="582.0" cy="354.1" r="3.6"/><circle cx="582.8" cy="357.3" r="3.6"/><circle cx="583.6" cy="355.5" r="3.6"/><circle cx="584.4" cy="356.8" r="3.6"/><circle cx="585.2" cy="356.7" r="3.6"/><circle cx="586.0" cy="357.0" r="3.6"/><circle cx="586.8" cy="355.6" r="3.6"/><circle cx="587.6" cy="356.2" r="3.6"/><circle cx="588.4" cy="355.6" r="3.6"/><circle cx="589.2" cy="355.1" r="3.6"/><circle cx="590.0" cy="356.1" r="3.6"/><circle cx="590.8" cy="356.2" r="3.6"/><circle cx="591.6" cy="356.0" r="3.6"/><circle cx="592.4" cy="356.1" r="3.6"/><circle cx="593.2" cy="356.5" r="3.6"/><circle cx="593.9" cy="355.4" r="3.6"/><circle cx="594.7" cy="355.9" r="3.6"/><circle cx="595.5" cy="356.9" r="3.6"/><circle cx="596.3" cy="356.3" r="3.6"/><circle cx="597.1" cy="355.9" r="3.6"/><circle cx="597.9" cy="355.5" r="3.6"/><circle cx="598.7" cy="358.2" r="3.6"/><circle cx="599.5" cy="355.8" r="3.6"/><circle cx="600.3" cy="354.6" r="3.6"/><circle cx="601.1" cy="355.1" r="3.6"/><circle cx="601.9" cy="357.2" r="3.6"/><circle cx="602.7" cy="356.5" r="3.6"/><circle cx="603.5" cy="355.8" r="3.6"/><circle cx="604.3" cy="355.1" r="3.6"/><circle cx="605.1" cy="357.1" r="3.6"/><circle cx="605.8" cy="355.3" r="3.6"/><circle cx="606.6" cy="355.0" r="3.6"/><circle cx="607.4" cy="355.5" r="3.6"/><circle cx="608.2" cy="355.6" r="3.6"/><circle cx="609.0" cy="355.5" r="3.6"/><circle cx="609.8" cy="356.4" r="3.6"/><circle cx="610.6" cy="353.1" r="3.6"/><circle cx="611.4" cy="355.4" r="3.6"/><circle cx="612.2" cy="357.5" r="3.6"/><circle cx="613.0" cy="355.3" r="3.6"/><circle cx="613.8" cy="356.0" r="3.6"/><circle cx="614.6" cy="354.9" r="3.6"/><circle cx="615.4" cy="355.2" r="3.6"/><circle cx="616.2" cy="355.8" r="3.6"/><circle cx="617.0" cy="355.2" r="3.6"/><circle cx="617.7" cy="354.3" r="3.6"/><circle cx="618.5" cy="355.9" r="3.6"/><circle cx="619.3" cy="354.7" r="3.6"/><circle cx="620.1" cy="355.7" r="3.6"/><circle cx="620.9" cy="357.1" r="3.6"/><circle cx="621.7" cy="356.3" r="3.6"/><circle cx="622.5" cy="355.9" r="3.6"/><circle cx="623.3" cy="355.1" r="3.6"/><circle cx="624.1" cy="357.0" r="3.6"/><circle cx="624.9" cy="356.4" r="3.6"/><circle cx="625.7" cy="354.6" r="3.6"/><circle cx="626.5" cy="356.5" r="3.6"/><circle cx="627.3" cy="355.2" r="3.6"/><circle cx="628.1" cy="356.1" r="3.6"/><circle cx="628.9" cy="356.3" r="3.6"/><circle cx="629.7" cy="357.5" r="3.6"/><circle cx="630.4" cy="354.6" r="3.6"/><circle cx="631.2" cy="356.3" r="3.6"/><circle cx="632.0" cy="355.8" r="3.6"/><circle cx="632.8" cy="356.5" r="3.6"/><circle cx="633.6" cy="355.6" r="3.6"/><circle cx="634.4" cy="356.3" r="3.6"/><circle cx="635.2" cy="355.5" r="3.6"/><circle cx="636.0" cy="355.5" r="3.6"/><circle cx="636.8" cy="353.4" r="3.6"/><circle cx="637.6" cy="356.6" r="3.6"/><circle cx="638.4" cy="356.1" r="3.6"/><circle cx="639.2" cy="356.2" r="3.6"/><circle cx="640.0" cy="353.7" r="3.6"/><circle cx="640.8" cy="356.6" r="3.6"/><circle cx="641.6" cy="355.7" r="3.6"/><circle cx="642.3" cy="355.0" r="3.6"/><circle cx="643.1" cy="356.9" r="3.6"/><circle cx="643.9" cy="356.1" r="3.6"/><circle cx="644.7" cy="355.0" r="3.6"/><circle cx="645.5" cy="356.5" r="3.6"/><circle cx="646.3" cy="355.8" r="3.6"/><circle cx="647.1" cy="353.2" r="3.6"/><circle cx="647.9" cy="355.6" r="3.6"/><circle cx="648.7" cy="355.7" r="3.6"/><circle cx="649.5" cy="356.4" r="3.6"/><circle cx="650.3" cy="357.6" r="3.6"/><circle cx="651.1" cy="355.9" r="3.6"/><circle cx="651.9" cy="355.9" r="3.6"/><circle cx="652.7" cy="356.0" r="3.6"/><circle cx="653.5" cy="356.0" r="3.6"/><circle cx="654.2" cy="356.6" r="3.6"/></g>
<g fill="#fff" stroke="#3fb9c8" stroke-width="0.7"><circle cx="259.3" cy="452.3" r="3.6"/><circle cx="259.3" cy="469.3" r="3.6"/></g>
<g clip-path="url(#cg)">
<polyline points="258.3,400.9 259.9,400.9 261.5,400.9 263.1,400.8 264.6,401.0 266.2,401.0 267.8,401.1 269.4,401.1 271.0,400.9 272.6,401.1 274.2,401.1 275.8,401.0 277.3,401.2 278.9,401.2 280.5,401.2 282.1,401.1 283.7,401.2 285.3,401.2 286.9,401.2 288.4,401.3 290.0,401.3 291.6,401.2 293.2,401.3 294.8,401.4 296.4,401.4 298.0,401.4 299.6,401.4 301.1,401.5 302.7,401.3 304.3,401.4 305.9,401.5 307.5,401.5 309.1,401.6 310.7,401.5 312.3,401.5 313.8,401.6 315.4,401.6 317.0,401.6 318.6,401.7 320.2,401.5 321.8,401.6 323.4,401.8 324.9,401.6 326.5,401.8 328.1,401.6 329.7,401.8 331.3,401.8 332.9,401.8 334.5,401.8 336.1,401.8 337.6,402.0 339.2,402.1 340.8,402.3 342.4,402.4 344.0,402.6 345.6,402.8 347.2,402.9 348.8,403.1 350.3,403.1 351.9,403.3 353.5,403.5 355.1,403.6 356.7,403.9 358.3,403.9 359.9,404.1 361.4,404.4 363.0,404.7 364.6,404.8 366.2,405.1 367.8,405.4 369.4,405.7 371.0,405.9 372.6,406.3 374.1,406.4 375.7,406.7 377.3,407.1 378.9,407.2 380.5,407.5 382.1,407.7 383.7,408.0 385.3,408.3 386.8,408.7 388.4,409.0 390.0,409.2 391.6,409.6 393.2,409.9 394.8,410.1 396.4,410.5 397.9,410.8 399.5,411.0 401.1,411.4 402.7,411.7 404.3,411.9 405.9,412.2 407.5,412.6 409.1,412.9 410.6,413.1 412.2,413.5 413.8,413.8 415.4,414.1 417.0,414.4 418.6,414.7 420.2,414.9 421.8,415.2 423.3,415.5 424.9,415.6 426.5,416.0 428.1,416.3 429.7,416.6 431.3,416.8 432.9,417.0 434.5,417.2 436.0,417.6 437.6,417.8 439.2,418.2 440.8,418.4 442.4,418.6 444.0,418.9 445.6,419.2 447.1,419.4 448.7,419.8 450.3,420.0 451.9,420.2 453.5,420.4 455.1,420.7 456.7,421.1 458.3,421.3 459.8,421.7 461.4,421.8 463.0,422.1 464.6,422.4 466.2,422.8 467.8,423.0 469.4,423.2 471.0,423.7 472.5,423.8 474.1,424.2 475.7,424.4 477.3,424.7 478.9,425.1 480.5,425.4 482.1,425.6 483.6,425.9" fill="none" stroke="#fb416b" stroke-width="8.2" stroke-linejoin="round" stroke-linecap="round"/>
<polyline points="258.3,394.1 259.9,394.2 261.5,394.1 263.1,394.3 264.6,394.3 266.2,394.3 267.8,394.3 269.4,394.3 271.0,394.2 272.6,394.3 274.2,394.3 275.8,394.3 277.3,394.4 278.9,394.3 280.5,394.3 282.1,394.3 283.7,394.5 285.3,394.4 286.9,394.4 288.4,394.4 290.0,394.5 291.6,394.5 293.2,394.5 294.8,394.5 296.4,394.6 298.0,394.5 299.6,394.5 301.1,394.5 302.7,394.5 304.3,394.6 305.9,394.5 307.5,394.6 309.1,394.7 310.7,394.6 312.3,394.6 313.8,394.7 315.4,394.7 317.0,394.6 318.6,394.6 320.2,394.7 321.8,394.8 323.4,394.8 324.9,394.8 326.5,394.7 328.1,394.8 329.7,394.7 331.3,394.8 332.9,394.8 334.5,394.9 336.1,394.9 337.6,394.9 339.2,394.9 340.8,395.0 342.4,394.9 344.0,395.0 345.6,395.0 347.2,395.1 348.8,395.0 350.3,395.2 351.9,395.0 353.5,395.2 355.1,395.2 356.7,395.1 358.3,395.3 359.9,395.2 361.4,395.3 363.0,395.3 364.6,395.3 366.2,395.3 367.8,395.4 369.4,395.4 371.0,395.3 372.6,395.5 374.1,395.4 375.7,395.5 377.3,395.5 378.9,395.6 380.5,395.6 382.1,395.7 383.7,395.7 385.3,395.6 386.8,395.6 388.4,395.6 390.0,395.7 391.6,395.8 393.2,395.8 394.8,395.9 396.4,395.8 397.9,395.8 399.5,395.9 401.1,395.9 402.7,396.0 404.3,396.0 405.9,396.0 407.5,396.0 409.1,396.0 410.6,396.0 412.2,396.1 413.8,396.1 415.4,396.3 417.0,396.2 418.6,396.2 420.2,396.3 421.8,396.3 423.3,396.4 424.9,396.6 426.5,396.7 428.1,396.6 429.7,396.8 431.3,396.8 432.9,396.9 434.5,396.9 436.0,396.9 437.6,397.0 439.2,397.2 440.8,397.2 442.4,397.3 444.0,397.4 445.6,397.5 447.1,397.4 448.7,397.5 450.3,397.6 451.9,397.7 453.5,397.7 455.1,397.7 456.7,397.9 458.3,397.9 459.8,398.1 461.4,398.1 463.0,398.1 464.6,398.2 466.2,398.2 467.8,398.3 469.4,398.3 471.0,398.5 472.5,398.5 474.1,398.7 475.7,398.6 477.3,398.8 478.9,398.8 480.5,398.9 482.1,398.9 483.6,399.0 485.2,399.0 486.8,399.2 488.4,399.2 490.0,399.3 491.6,399.4 493.2,399.3 494.8,399.4 496.3,399.5 497.9,399.7 499.5,399.6 501.1,399.8 502.7,399.9 504.3,400.0 505.9,400.1 507.5,400.1 509.0,400.1 510.6,400.3 512.2,400.3 513.8,400.5 515.4,400.5 517.0,400.6 518.6,400.7 520.1,400.8 521.7,400.9 523.3,400.9 524.9,401.1 526.5,401.0 528.1,401.2 529.7,401.1 531.3,401.3 532.8,401.4 534.4,401.5 536.0,401.5 537.6,401.6 539.2,401.8 540.8,401.8 542.4,401.9 544.0,402.0 545.5,401.9 547.1,402.2 548.7,402.1 550.3,402.3 551.9,402.3 553.5,402.4 555.1,402.6 556.6,402.7 558.2,402.7 559.8,402.8 561.4,402.9 563.0,403.0 564.6,402.9 566.2,403.1 567.8,403.2 569.3,403.3 570.9,403.3 572.5,403.4 574.1,403.5 575.7,403.5 577.3,403.6 578.9,403.8 580.5,403.8 582.0,403.8 583.6,404.0 585.2,403.9 586.8,404.1 588.4,404.1 590.0,404.1 591.6,404.2 593.2,404.4 594.7,404.4 596.3,404.6 597.9,404.7 599.5,404.6 601.1,404.8 602.7,404.8 604.3,404.9 605.8,404.9 607.4,405.1 609.0,405.2 610.6,405.1 612.2,405.2 613.8,405.3 615.4,405.3 617.0,405.5 618.5,405.6 620.1,405.5 621.7,405.8 623.3,405.7 624.9,405.7 626.5,406.0 628.1,405.9 629.7,406.0 631.2,406.1 632.8,406.2 634.4,406.2 636.0,406.3 637.6,406.4 639.2,406.5 640.8,406.6 642.3,406.6 643.9,406.7 645.5,406.8 647.1,406.9 648.7,406.9 650.3,407.1 651.9,407.1 653.5,407.2" fill="none" stroke="#72c136" stroke-width="8.2" stroke-linejoin="round" stroke-linecap="round"/>
<polyline points="258.3,434.5 259.9,435.0 261.5,435.5 263.1,436.2 264.6,436.7 266.2,437.0 267.8,437.4 269.4,437.7 271.0,437.8 272.6,438.2 274.2,438.4 275.8,438.7 277.3,439.0 278.9,439.2 280.5,439.5 282.1,439.7 283.7,439.8 285.3,440.0 286.9,440.1 288.4,440.3 290.0,440.3 291.6,440.5 293.2,440.5 294.8,440.7 296.4,440.8 298.0,440.9 299.6,441.2 301.1,441.2 302.7,441.5 304.3,441.5 305.9,441.7 307.5,441.8 309.1,441.7 310.7,441.8 312.3,442.0 313.8,442.0 315.4,442.1 317.0,442.1 318.6,442.2 320.2,442.3 321.8,442.3 323.4,442.5 324.9,442.5 326.5,442.5 328.1,442.6 329.7,442.7 331.3,442.6 332.9,442.9 334.5,442.9 336.1,443.0 337.6,443.0 339.2,442.9 340.8,443.1 342.4,443.0 344.0,443.2 345.6,443.2 347.2,443.1 348.8,443.2 350.3,443.2 351.9,443.3 353.5,443.2 355.1,443.4 356.7,443.3 358.3,443.5 359.9,443.4 361.4,443.5 363.0,443.5 364.6,443.5 366.2,443.5 367.8,443.6 369.4,443.6 371.0,443.7 372.6,443.7 374.1,443.7 375.7,443.9 377.3,443.9 378.9,443.9 380.5,443.8 382.1,443.9 383.7,444.0 385.3,444.0 386.8,443.9 388.4,444.1 390.0,444.1 391.6,444.1 393.2,444.2 394.8,444.1 396.4,444.1 397.9,444.3 399.5,444.2 401.1,444.2 402.7,444.3 404.3,444.5 405.9,444.5 407.5,444.4 409.1,444.4 410.6,444.6 412.2,444.6 413.8,444.6 415.4,444.5 417.0,444.6 418.6,444.7 420.2,444.6 421.8,444.7 423.3,444.6 424.9,444.8 426.5,444.6 428.1,444.8 429.7,444.8 431.3,444.8 432.9,444.7 434.5,444.8 436.0,444.8 437.6,444.8 439.2,444.7 440.8,444.8 442.4,444.9 444.0,444.8 445.6,444.9 447.1,444.9 448.7,444.9 450.3,444.9 451.9,444.9 453.5,445.0 455.1,445.0 456.7,445.0 458.3,445.0 459.8,445.0 461.4,445.1 463.0,445.0 464.6,444.9 466.2,445.0 467.8,445.0 469.4,445.0 471.0,445.1 472.5,445.0 474.1,445.2 475.7,445.1 477.3,445.2 478.9,445.2 480.5,445.2 482.1,445.2 483.6,445.2 485.2,445.3 486.8,445.2 488.4,445.2 490.0,445.3 491.6,445.3 493.2,445.2 494.8,445.3 496.3,445.4 497.9,445.4 499.5,445.4 501.1,445.3 502.7,445.3 504.3,445.3 505.9,445.5 507.5,445.5 509.0,445.5 510.6,445.5 512.2,445.5 513.8,445.5 515.4,445.6 517.0,445.6 518.6,445.6 520.1,445.6 521.7,445.6 523.3,445.7 524.9,445.7 526.5,445.6 528.1,445.7 529.7,445.7 531.3,445.7 532.8,445.8 534.4,445.8 536.0,445.8 537.6,445.8 539.2,445.8 540.8,446.0 542.4,445.8 544.0,445.8 545.5,446.0 547.1,445.9 548.7,446.0 550.3,446.0 551.9,446.0 553.5,446.0 555.1,445.9 556.6,446.1 558.2,446.2 559.8,446.1 561.4,446.1 563.0,446.1 564.6,446.1 566.2,446.3 567.8,446.3 569.3,446.2 570.9,446.2 572.5,446.3 574.1,446.3 575.7,446.3 577.3,446.3 578.9,446.3 580.5,446.4 582.0,446.4 583.6,446.4 585.2,446.3 586.8,446.4 588.4,446.5 590.0,446.5 591.6,446.4 593.2,446.4 594.7,446.4 596.3,446.5 597.9,446.4 599.5,446.6 601.1,446.5 602.7,446.5 604.3,446.6 605.8,446.6 607.4,446.6 609.0,446.5 610.6,446.6 612.2,446.6 613.8,446.6 615.4,446.7 617.0,446.7 618.5,446.6 620.1,446.6 621.7,446.7 623.3,446.7 624.9,446.7 626.5,446.7 628.1,446.8 629.7,446.7 631.2,446.8 632.8,446.7 634.4,446.9 636.0,446.9 637.6,446.8 639.2,446.9 640.8,446.8 642.3,446.8 643.9,446.9 645.5,446.9 647.1,446.9 648.7,446.8 650.3,446.9 651.9,447.0 653.5,446.9" fill="none" stroke="#3fb9c8" stroke-width="8.2" stroke-linejoin="round" stroke-linecap="round"/>
</g>
<rect x="254" y="345.4" width="401.20000000000005" height="140.20000000000005" fill="none" stroke="#111" stroke-width="1.5"/>
<line x1="654.90" y1="346.15" x2="654.90" y2="486.35" stroke="#fff" stroke-width="2.2"/>
<line x1="654.80" y1="346.15" x2="654.80" y2="486.35" stroke="#fb416b" stroke-width="1.1"/>
<line x1="257.50" y1="485.60" x2="257.50" y2="482.30" stroke="#111" stroke-width="1.2"/>
<text transform="translate(257.5 497.1) scale(0.9 1)" font-size="10.36" fill="#111" text-anchor="middle">0</text>
<line x1="297.18" y1="485.60" x2="297.18" y2="483.60" stroke="#111" stroke-width="1.2"/>
<line x1="336.85" y1="485.60" x2="336.85" y2="482.30" stroke="#111" stroke-width="1.2"/>
<text transform="translate(336.85 497.1) scale(0.9 1)" font-size="10.36" fill="#111" text-anchor="middle">100</text>
<line x1="376.52" y1="485.60" x2="376.52" y2="483.60" stroke="#111" stroke-width="1.2"/>
<line x1="416.20" y1="485.60" x2="416.20" y2="482.30" stroke="#111" stroke-width="1.2"/>
<text transform="translate(416.2 497.1) scale(0.9 1)" font-size="10.36" fill="#111" text-anchor="middle">200</text>
<line x1="455.88" y1="485.60" x2="455.88" y2="483.60" stroke="#111" stroke-width="1.2"/>
<line x1="495.55" y1="485.60" x2="495.55" y2="482.30" stroke="#111" stroke-width="1.2"/>
<text transform="translate(495.54999999999995 497.1) scale(0.9 1)" font-size="10.36" fill="#111" text-anchor="middle">300</text>
<line x1="535.22" y1="485.60" x2="535.22" y2="483.60" stroke="#111" stroke-width="1.2"/>
<line x1="574.90" y1="485.60" x2="574.90" y2="482.30" stroke="#111" stroke-width="1.2"/>
<text transform="translate(574.9 497.1) scale(0.9 1)" font-size="10.36" fill="#111" text-anchor="middle">400</text>
<line x1="614.58" y1="485.60" x2="614.58" y2="483.60" stroke="#111" stroke-width="1.2"/>
<line x1="654.25" y1="485.60" x2="654.25" y2="482.30" stroke="#111" stroke-width="1.2"/>
<text transform="translate(654.25 497.1) scale(0.9 1)" font-size="10.36" fill="#111" text-anchor="middle">500</text>
<line x1="254.00" y1="475.70" x2="257.30" y2="475.70" stroke="#111" stroke-width="1.2"/>
<text transform="translate(250.7 479.0) scale(0.9 1)" font-size="10.14" fill="#111" text-anchor="end">0</text>
<line x1="254.00" y1="465.68" x2="256.00" y2="465.68" stroke="#111" stroke-width="1.2"/>
<line x1="254.00" y1="455.65" x2="257.30" y2="455.65" stroke="#111" stroke-width="1.2"/>
<text transform="translate(250.7 458.951) scale(0.9 1)" font-size="10.14" fill="#111" text-anchor="end">30</text>
<line x1="254.00" y1="445.63" x2="256.00" y2="445.63" stroke="#111" stroke-width="1.2"/>
<line x1="254.00" y1="435.60" x2="257.30" y2="435.60" stroke="#111" stroke-width="1.2"/>
<text transform="translate(250.7 438.902) scale(0.9 1)" font-size="10.14" fill="#111" text-anchor="end">60</text>
<line x1="254.00" y1="425.58" x2="256.00" y2="425.58" stroke="#111" stroke-width="1.2"/>
<line x1="254.00" y1="415.55" x2="257.30" y2="415.55" stroke="#111" stroke-width="1.2"/>
<text transform="translate(250.7 418.853) scale(0.9 1)" font-size="10.14" fill="#111" text-anchor="end">90</text>
<line x1="254.00" y1="405.53" x2="256.00" y2="405.53" stroke="#111" stroke-width="1.2"/>
<line x1="254.00" y1="395.50" x2="257.30" y2="395.50" stroke="#111" stroke-width="1.2"/>
<text transform="translate(250.7 398.80400000000003) scale(0.9 1)" font-size="10.14" fill="#111" text-anchor="end">120</text>
<line x1="254.00" y1="385.48" x2="256.00" y2="385.48" stroke="#111" stroke-width="1.2"/>
<line x1="254.00" y1="375.45" x2="257.30" y2="375.45" stroke="#111" stroke-width="1.2"/>
<text transform="translate(250.7 378.755) scale(0.9 1)" font-size="10.14" fill="#111" text-anchor="end">150</text>
<line x1="254.00" y1="365.43" x2="256.00" y2="365.43" stroke="#111" stroke-width="1.2"/>
<line x1="254.00" y1="355.41" x2="257.30" y2="355.41" stroke="#111" stroke-width="1.2"/>
<text transform="translate(250.7 358.706) scale(0.9 1)" font-size="10.14" fill="#111" text-anchor="end">180</text>
<line x1="654.80" y1="466.50" x2="651.90" y2="466.50" stroke="#fb416b" stroke-width="1"/>
<text x="658.6" y="469.9" font-size="9.5" fill="#fb416b" text-anchor="start">88</text>
<line x1="654.80" y1="447.80" x2="653.20" y2="447.80" stroke="#fb416b" stroke-width="1"/>
<line x1="654.80" y1="429.10" x2="651.90" y2="429.10" stroke="#fb416b" stroke-width="1"/>
<text x="658.6" y="432.5" font-size="9.5" fill="#fb416b" text-anchor="start">92</text>
<line x1="654.80" y1="410.40" x2="653.20" y2="410.40" stroke="#fb416b" stroke-width="1"/>
<line x1="654.80" y1="391.70" x2="651.90" y2="391.70" stroke="#fb416b" stroke-width="1"/>
<text x="658.6" y="395.09999999999997" font-size="9.5" fill="#fb416b" text-anchor="start">96</text>
<line x1="654.80" y1="373.00" x2="653.20" y2="373.00" stroke="#fb416b" stroke-width="1"/>
<line x1="654.80" y1="354.30" x2="651.90" y2="354.30" stroke="#fb416b" stroke-width="1"/>
<text x="658.6" y="357.7" font-size="9.5" fill="#fb416b" text-anchor="start">100</text>
<text x="454.3" y="505.6" font-size="9.6" fill="#111" text-anchor="middle">Cycle number</text>
<text x="229.8" y="415" font-size="9.5" fill="#111" text-anchor="middle" transform="rotate(-90 229.8 415)">Specific capacity (mAh g<tspan font-size="6" dy="-3.5">-1</tspan><tspan dy="3.5">)</tspan></text>
<text x="681.6" y="414" font-size="9.5" fill="#fb416b" text-anchor="middle" transform="rotate(-90 681.6 414)">Coulombic efficiency (%)</text>
<text x="226.5" y="353.2" font-size="14" fill="#111" text-anchor="start" font-weight="bold">g</text>
<text x="265.8" y="458" font-size="16.3" fill="#111" text-anchor="start">1C</text>
<text x="265.8" y="480" font-size="16.3" fill="#111" text-anchor="start">30<tspan font-size="9.5" dy="-6.3">o</tspan><tspan dy="6.3">C</tspan></text>
<line x1="309.30" y1="451.70" x2="332.00" y2="451.70" stroke="#fb416b" stroke-width="2"/>
<circle cx="320.65" cy="451.7" r="4.2" fill="#fb416b"/>
<circle cx="319.45" cy="450.4" r="1.5" fill="#fff" opacity="0.55"/>
<text transform="translate(333.9 455.59999999999997) scale(0.9 1)" font-size="10.03" fill="#fb416b" text-anchor="start">HC||M2-PBA</text>
<line x1="309.30" y1="464.35" x2="332.00" y2="464.35" stroke="#72c136" stroke-width="2"/>
<circle cx="320.65" cy="464.34999999999997" r="4.2" fill="#72c136"/>
<circle cx="319.45" cy="463.04999999999995" r="1.5" fill="#fff" opacity="0.55"/>
<text transform="translate(333.9 468.24999999999994) scale(0.9 1)" font-size="10.03" fill="#72c136" text-anchor="start">HC||M4-PBA</text>
<line x1="309.30" y1="477.00" x2="332.00" y2="477.00" stroke="#3fb9c8" stroke-width="2"/>
<circle cx="320.65" cy="477.0" r="4.2" fill="#3fb9c8"/>
<circle cx="319.45" cy="475.7" r="1.5" fill="#fff" opacity="0.55"/>
<text transform="translate(333.9 480.9) scale(0.9 1)" font-size="10.03" fill="#3fb9c8" text-anchor="start">HC||M5-PBA</text>
<text x="651.5" y="396.5" font-size="16.5" fill="#72c136" text-anchor="end" font-weight="bold">82.9%</text>
<text x="489.2" y="426.3" font-size="16.3" fill="#fb416b" text-anchor="start" font-weight="bold">65.8%</text>
<text x="651.5" y="469" font-size="16.5" fill="#3fb9c8" text-anchor="end" font-weight="bold">70.1%</text>
<path d="M277.8,388.3 V384.8 H259" fill="none" stroke="#333" stroke-width="0.9"/><path d="M256.5,384.8 l5,-2.2 v4.4z" fill="#333"/>
<path d="M630.7,364.8 V369.3 H647" fill="none" stroke="#fb416b" stroke-width="0.9"/><path d="M651.5,369.3 l-5,-2.2 v4.4z" fill="#fb416b"/>
<defs>
<filter id="cm" x="0" y="0" width="100%" height="100%" filterUnits="objectBoundingBox" color-interpolation-filters="sRGB">
<feComponentTransfer><feFuncR type="table" tableValues="0.627 0.603 0.578 0.543 0.494 0.445 0.397 0.353 0.310 0.266 0.222 0.200 0.180 0.160 0.140 0.121 0.106 0.091 0.076 0.061 0.045 0.030 0.014 0.000 0.000 0.000 0.000 0.000 0.000 0.000 0.000 0.000 0.000 0.000 0.000 0.000 0.000 0.056 0.178 0.301 0.417 0.522 0.627 0.732 0.853 0.977 1.000 1.000 1.000 1.000 1.000 1.000 1.000 1.000 1.000 1.000 1.000 1.000 1.000 1.000 1.000 1.000 1.000 1.000 1.000"/><feFuncG type="table" tableValues="0.251 0.226 0.202 0.180 0.160 0.140 0.124 0.116 0.109 0.102 0.094 0.132 0.173 0.213 0.253 0.293 0.331 0.368 0.406 0.445 0.492 0.538 0.585 0.634 0.710 0.785 0.860 0.936 0.962 0.984 1.000 1.000 1.000 1.000 0.987 0.969 0.951 0.941 0.941 0.941 0.941 0.941 0.941 0.941 0.941 0.941 0.875 0.793 0.723 0.666 0.608 0.550 0.492 0.427 0.363 0.298 0.234 0.180 0.152 0.123 0.095 0.067 0.038 0.010 0.000"/><feFuncB type="table" tableValues="1.000 1.000 1.000 0.996 0.988 0.979 0.971 0.963 0.956 0.949 0.942 0.948 0.954 0.961 0.968 0.974 0.981 0.988 0.994 1.000 1.000 1.000 1.000 1.000 1.000 1.000 1.000 1.000 0.913 0.818 0.726 0.639 0.551 0.464 0.342 0.208 0.073 0.000 0.000 0.000 0.000 0.000 0.000 0.000 0.000 0.000 0.000 0.000 0.000 0.000 0.000 0.000 0.000 0.000 0.000 0.000 0.000 0.000 0.000 0.000 0.000 0.000 0.000 0.000 0.000"/></feComponentTransfer>
</filter>
<linearGradient id="cbar" x1="0" y1="1" x2="0" y2="0"><stop offset="0.000" stop-color="#A040FF"/><stop offset="0.040" stop-color="#9030FF"/><stop offset="0.090" stop-color="#6820F8"/><stop offset="0.157" stop-color="#3818F0"/><stop offset="0.230" stop-color="#2048F8"/><stop offset="0.295" stop-color="#1070FF"/><stop offset="0.358" stop-color="#00A0FF"/><stop offset="0.423" stop-color="#00F0FF"/><stop offset="0.464" stop-color="#00FFC0"/><stop offset="0.520" stop-color="#00FF70"/><stop offset="0.571" stop-color="#00F000"/><stop offset="0.619" stop-color="#60F000"/><stop offset="0.675" stop-color="#C0F000"/><stop offset="0.706" stop-color="#FFF000"/><stop offset="0.742" stop-color="#FFC000"/><stop offset="0.810" stop-color="#FF8000"/><stop offset="0.886" stop-color="#FF3000"/><stop offset="0.990" stop-color="#FF0000"/><stop offset="1.000" stop-color="#FF0000"/></linearGradient>
</defs>
<filter id="bl0" x="-50%" y="-50%" width="200%" height="200%" filterUnits="objectBoundingBox" color-interpolation-filters="sRGB"><feGaussianBlur stdDeviation="2.2 2.2"/></filter>
<filter id="bl1" x="-50%" y="-50%" width="200%" height="200%" filterUnits="objectBoundingBox" color-interpolation-filters="sRGB"><feGaussianBlur stdDeviation="2.0 2.0"/></filter>
<filter id="bl2" x="-50%" y="-50%" width="200%" height="200%" filterUnits="objectBoundingBox" color-interpolation-filters="sRGB"><feGaussianBlur stdDeviation="1.2 1.2"/></filter>
<filter id="bl3" x="-50%" y="-50%" width="200%" height="200%" filterUnits="objectBoundingBox" color-interpolation-filters="sRGB"><feGaussianBlur stdDeviation="1.8 1.8"/></filter>
<filter id="bl4" x="-50%" y="-50%" width="200%" height="200%" filterUnits="objectBoundingBox" color-interpolation-filters="sRGB"><feGaussianBlur stdDeviation="2.5 2.5"/></filter>
<filter id="bl5" x="-50%" y="-50%" width="200%" height="200%" filterUnits="objectBoundingBox" color-interpolation-filters="sRGB"><feGaussianBlur stdDeviation="1.6 1.6"/></filter>
<filter id="bl6" x="-50%" y="-50%" width="200%" height="200%" filterUnits="objectBoundingBox" color-interpolation-filters="sRGB"><feGaussianBlur stdDeviation="1.5 1.5"/></filter>
<filter id="bl7" x="-50%" y="-50%" width="200%" height="200%" filterUnits="objectBoundingBox" color-interpolation-filters="sRGB"><feGaussianBlur stdDeviation="1.2 2.4"/></filter>
<clipPath id="hcc"><rect x="25.5" y="168.5" width="155.0" height="148.0"/></clipPath>
<g clip-path="url(#hcc)"><g filter="url(#cm)"><rect x="5.5" y="148.5" width="195.0" height="188.0" fill="#000"/><g transform="translate(25.5 168.5)" stroke="none" stroke-linecap="round" stroke-linejoin="round">
<g filter="url(#bl0)" style="mix-blend-mode:lighten"><rect x="-40" y="-40" width="235" height="228" fill="none"/><polyline points="28.3,-6 27.8,40 26.6,78" fill="none" stroke="rgb(31,31,31)" stroke-width="21"/></g>
<g filter="url(#bl0)" style="mix-blend-mode:lighten"><rect x="-40" y="-40" width="235" height="228" fill="none"/><polyline points="29.5,-6 29,40 27.6,80" fill="none" stroke="rgb(51,51,51)" stroke-width="14"/></g>
<g filter="url(#bl0)" style="mix-blend-mode:lighten"><rect x="-40" y="-40" width="235" height="228" fill="none"/><polyline points="29.5,-6 29,40 27.6,80" fill="none" stroke="rgb(76,76,76)" stroke-width="9"/></g>
<g filter="url(#bl1)" style="mix-blend-mode:lighten"><rect x="-40" y="-40" width="235" height="228" fill="none"/><polygon points="17.5,76 37.5,76 31,92 22.3,102 17.5,92" fill="rgb(36,36,36)"/></g>
<g filter="url(#bl1)" style="mix-blend-mode:lighten"><rect x="-40" y="-40" width="235" height="228" fill="none"/><polygon points="21,76 35,76 29.5,90 24,95" fill="rgb(66,66,66)"/></g>
<g filter="url(#bl2)" style="mix-blend-mode:lighten"><rect x="-40" y="-40" width="235" height="228" fill="none"/><polyline points="22,99 21.5,128" fill="none" stroke="rgb(26,26,26)" stroke-width="2.5"/></g>
<g filter="url(#bl0)" style="mix-blend-mode:lighten"><rect x="-40" y="-40" width="235" height="228" fill="none"/><polygon points="18,160 18.5,128 23,112 27,122 38,130 38,160" fill="rgb(31,31,31)"/></g>
<g filter="url(#bl0)" style="mix-blend-mode:lighten"><rect x="-40" y="-40" width="235" height="228" fill="none"/><ellipse cx="29.3" cy="150" rx="7" ry="16" fill="rgb(51,51,51)"/></g>
<g filter="url(#bl0)" style="mix-blend-mode:lighten"><rect x="-40" y="-40" width="235" height="228" fill="none"/><ellipse cx="29.3" cy="151" rx="4.5" ry="11" fill="rgb(71,71,71)"/></g>
<g filter="url(#bl0)" style="mix-blend-mode:lighten"><rect x="-40" y="-40" width="235" height="228" fill="none"/><polyline points="76.5,-6 76.3,30 74,60 74,76" fill="none" stroke="rgb(31,31,31)" stroke-width="15"/></g>
<g filter="url(#bl1)" style="mix-blend-mode:lighten"><rect x="-40" y="-40" width="235" height="228" fill="none"/><polyline points="76.5,-6 76.5,30" fill="none" stroke="rgb(43,43,43)" stroke-width="9"/></g>
<g filter="url(#bl1)" style="mix-blend-mode:lighten"><rect x="-40" y="-40" width="235" height="228" fill="none"/><polyline points="76.5,-6 76.5,30" fill="none" stroke="rgb(64,64,64)" stroke-width="5"/></g>
<g filter="url(#bl1)" style="mix-blend-mode:lighten"><rect x="-40" y="-40" width="235" height="228" fill="none"/><polyline points="76.5,26 74.5,60 73.5,80" fill="none" stroke="rgb(38,38,38)" stroke-width="7.5"/></g>
<g filter="url(#bl3)" style="mix-blend-mode:lighten"><rect x="-40" y="-40" width="235" height="228" fill="none"/><ellipse cx="73.3" cy="77" rx="3.5" ry="6.5" fill="rgb(61,61,61)"/></g>
<g filter="url(#bl4)" style="mix-blend-mode:lighten"><rect x="-40" y="-40" width="235" height="228" fill="none"/><ellipse cx="82" cy="50" rx="4.5" ry="14" fill="rgb(15,15,15)"/></g>
<g filter="url(#bl0)" style="mix-blend-mode:lighten"><rect x="-40" y="-40" width="235" height="228" fill="none"/><polygon points="70,160 71.5,138 77,128 90,127 92,160" fill="rgb(28,28,28)"/></g>
<g filter="url(#bl0)" style="mix-blend-mode:lighten"><rect x="-40" y="-40" width="235" height="228" fill="none"/><ellipse cx="80" cy="150" rx="6.5" ry="14" fill="rgb(46,46,46)"/></g>
<g filter="url(#bl0)" style="mix-blend-mode:lighten"><rect x="-40" y="-40" width="235" height="228" fill="none"/><ellipse cx="80.5" cy="152" rx="3.8" ry="10" fill="rgb(61,61,61)"/></g>
<g filter="url(#bl3)" style="mix-blend-mode:lighten"><rect x="-40" y="-40" width="235" height="228" fill="none"/><polyline points="97,-6 97,15 106.3,25.8" fill="none" stroke="rgb(64,64,64)" stroke-width="13"/></g>
<g filter="url(#bl3)" style="mix-blend-mode:lighten"><rect x="-40" y="-40" width="235" height="228" fill="none"/><polyline points="97,-6 97,15 106.3,25.8" fill="none" stroke="rgb(92,92,92)" stroke-width="9"/></g>
<g filter="url(#bl3)" style="mix-blend-mode:lighten"><rect x="-40" y="-40" width="235" height="228" fill="none"/><polyline points="97,-6 97,15 106.3,25.8" fill="none" stroke="rgb(112,112,112)" stroke-width="5.5"/></g>
<g filter="url(#bl3)" style="mix-blend-mode:lighten"><rect x="-40" y="-40" width="235" height="228" fill="none"/><polyline points="106.3,25.8 114,23 121,27" fill="none" stroke="rgb(64,64,64)" stroke-width="12"/></g>
<g filter="url(#bl3)" style="mix-blend-mode:lighten"><rect x="-40" y="-40" width="235" height="228" fill="none"/><polyline points="106.3,25.8 114,23 121,27" fill="none" stroke="rgb(92,92,92)" stroke-width="7.5"/></g>
<g filter="url(#bl3)" style="mix-blend-mode:lighten"><rect x="-40" y="-40" width="235" height="228" fill="none"/><polyline points="106.3,25.8 114,23 121,27" fill="none" stroke="rgb(110,110,110)" stroke-width="3.5"/></g>
<g filter="url(#bl3)" style="mix-blend-mode:lighten"><rect x="-40" y="-40" width="235" height="228" fill="none"/><ellipse cx="106.3" cy="25.5" rx="4.5" ry="4" fill="rgb(122,122,122)"/></g>
<g filter="url(#bl3)" style="mix-blend-mode:lighten"><rect x="-40" y="-40" width="235" height="228" fill="none"/><polyline points="104.5,27 96,37 93.2,46 93.5,56 92.3,66 92,80.5" fill="none" stroke="rgb(56,56,56)" stroke-width="12"/></g>
<g filter="url(#bl3)" style="mix-blend-mode:lighten"><rect x="-40" y="-40" width="235" height="228" fill="none"/><polyline points="104.5,27 96,37 93.2,46 93.5,56 92.3,66 92,80.5" fill="none" stroke="rgb(82,82,82)" stroke-width="7"/></g>
<g filter="url(#bl3)" style="mix-blend-mode:lighten"><rect x="-40" y="-40" width="235" height="228" fill="none"/><polyline points="92.5,62 92,79.5" fill="none" stroke="rgb(97,97,97)" stroke-width="7"/></g>
<g filter="url(#bl3)" style="mix-blend-mode:lighten"><rect x="-40" y="-40" width="235" height="228" fill="none"/><polyline points="92.5,62 92,79.5" fill="none" stroke="rgb(112,112,112)" stroke-width="4"/></g>
<g filter="url(#bl3)" style="mix-blend-mode:lighten"><rect x="-40" y="-40" width="235" height="228" fill="none"/><polyline points="107.5,28 112,40 112,52 106.5,60" fill="none" stroke="rgb(64,64,64)" stroke-width="14"/></g>
<g filter="url(#bl3)" style="mix-blend-mode:lighten"><rect x="-40" y="-40" width="235" height="228" fill="none"/><polyline points="107.5,28 112,40 112,52 106.5,60" fill="none" stroke="rgb(102,102,102)" stroke-width="9.5"/></g>
<g filter="url(#bl5)" style="mix-blend-mode:lighten"><rect x="-40" y="-40" width="235" height="228" fill="none"/><polyline points="112.2,38 112,52 108,59" fill="none" stroke="rgb(133,133,133)" stroke-width="5.5"/></g>
<g filter="url(#bl3)" style="mix-blend-mode:lighten"><rect x="-40" y="-40" width="235" height="228" fill="none"/><polyline points="92.5,66 106,61" fill="none" stroke="rgb(64,64,64)" stroke-width="10"/></g>
<g filter="url(#bl3)" style="mix-blend-mode:lighten"><rect x="-40" y="-40" width="235" height="228" fill="none"/><polyline points="92.5,66 106,61" fill="none" stroke="rgb(97,97,97)" stroke-width="6"/></g>
<g filter="url(#bl3)" style="mix-blend-mode:lighten"><rect x="-40" y="-40" width="235" height="228" fill="none"/><ellipse cx="112.3" cy="45.5" rx="3.6" ry="9" fill="rgb(128,128,128)"/></g>
<g filter="url(#bl5)" style="mix-blend-mode:lighten"><rect x="-40" y="-40" width="235" height="228" fill="none"/><ellipse cx="112.4" cy="46" rx="2.4" ry="7" fill="rgb(148,148,148)"/></g>
<g filter="url(#bl3)" style="mix-blend-mode:lighten"><rect x="-40" y="-40" width="235" height="228" fill="none"/><ellipse cx="106.5" cy="59.8" rx="8.5" ry="6" fill="rgb(128,128,128)"/></g>
<g filter="url(#bl3)" style="mix-blend-mode:lighten"><rect x="-40" y="-40" width="235" height="228" fill="none"/><ellipse cx="106.5" cy="60" rx="6" ry="4" fill="rgb(148,148,148)"/></g>
<g filter="url(#bl3)" style="mix-blend-mode:lighten"><rect x="-40" y="-40" width="235" height="228" fill="none"/><polyline points="113,50 119,58 122,66" fill="none" stroke="rgb(56,56,56)" stroke-width="9"/></g>
<g filter="url(#bl5)" style="mix-blend-mode:lighten"><rect x="-40" y="-40" width="235" height="228" fill="none"/><ellipse cx="120.8" cy="75" rx="6" ry="12" fill="rgb(76,76,76)"/></g>
<g filter="url(#bl5)" style="mix-blend-mode:lighten"><rect x="-40" y="-40" width="235" height="228" fill="none"/><ellipse cx="120.8" cy="75.3" rx="5" ry="10.5" fill="rgb(140,140,140)"/></g>
<g filter="url(#bl5)" style="mix-blend-mode:lighten"><rect x="-40" y="-40" width="235" height="228" fill="none"/><ellipse cx="120.8" cy="75.5" rx="4" ry="9" fill="rgb(178,178,178)"/></g>
<g filter="url(#bl6)" style="mix-blend-mode:lighten"><rect x="-40" y="-40" width="235" height="228" fill="none"/><ellipse cx="120.8" cy="76" rx="3" ry="7.5" fill="rgb(214,214,214)"/></g>
<g filter="url(#bl7)" style="mix-blend-mode:lighten"><rect x="-40" y="-40" width="235" height="228" fill="none"/><rect x="121.8" y="-14" width="17.000000000000014" height="52.0" rx="7" fill="rgb(71,71,71)"/></g>
<g filter="url(#bl7)" style="mix-blend-mode:lighten"><rect x="-40" y="-40" width="235" height="228" fill="none"/><rect x="122.5" y="-14" width="15.600000000000023" height="48.5" rx="6.3" fill="rgb(107,107,107)"/></g>
<g filter="url(#bl7)" style="mix-blend-mode:lighten"><rect x="-40" y="-40" width="235" height="228" fill="none"/><rect x="123.3" y="-14" width="14.000000000000014" height="44.0" rx="5.5" fill="rgb(148,148,148)"/></g>
<g filter="url(#bl7)" style="mix-blend-mode:lighten"><rect x="-40" y="-40" width="235" height="228" fill="none"/><rect x="124.1" y="-14" width="12.400000000000006" height="39.5" rx="4.7" fill="rgb(178,178,178)"/></g>
<g filter="url(#bl7)" style="mix-blend-mode:lighten"><rect x="-40" y="-40" width="235" height="228" fill="none"/><rect x="124.8" y="-14" width="11.000000000000014" height="35.5" rx="4.0" fill="rgb(204,204,204)"/></g>
<g filter="url(#bl7)" style="mix-blend-mode:lighten"><rect x="-40" y="-40" width="235" height="228" fill="none"/><rect x="125.7" y="-14" width="9.200000000000003" height="30.5" rx="3.1" fill="rgb(224,224,224)"/></g>
<g filter="url(#bl7)" style="mix-blend-mode:lighten"><rect x="-40" y="-40" width="235" height="228" fill="none"/><rect x="126.8" y="-14" width="7.000000000000014" height="23.5" rx="2.0" fill="rgb(240,240,240)"/></g>
<g filter="url(#bl2)" style="mix-blend-mode:lighten"><rect x="-40" y="-40" width="235" height="228" fill="none"/><rect x="120.2" y="89" width="17.200000000000003" height="21" rx="5" fill="rgb(71,71,71)"/></g>
<g filter="url(#bl2)" style="mix-blend-mode:lighten"><rect x="-40" y="-40" width="235" height="228" fill="none"/><rect x="121.4" y="89" width="14.800000000000011" height="19.799999999999997" rx="3.8" fill="rgb(102,102,102)"/></g>
<g filter="url(#bl0)" style="mix-blend-mode:lighten"><rect x="-40" y="-40" width="235" height="228" fill="none"/><ellipse cx="129" cy="99.5" rx="4.5" ry="5" fill="rgb(128,128,128)"/></g>
<g filter="url(#bl2)" style="mix-blend-mode:lighten"><rect x="-40" y="-40" width="235" height="228" fill="none"/><rect x="120.2" y="114" width="17.999999999999986" height="51" rx="6" fill="rgb(71,71,71)"/></g>
<g filter="url(#bl2)" style="mix-blend-mode:lighten"><rect x="-40" y="-40" width="235" height="228" fill="none"/><rect x="121.4" y="115.5" width="15.599999999999994" height="49.5" rx="5" fill="rgb(102,102,102)"/></g>
<g filter="url(#bl0)" style="mix-blend-mode:lighten"><rect x="-40" y="-40" width="235" height="228" fill="none"/><ellipse cx="129" cy="124" rx="4" ry="6" fill="rgb(112,112,112)"/></g>
<g filter="url(#bl5)" style="mix-blend-mode:lighten"><rect x="-40" y="-40" width="235" height="228" fill="none"/><ellipse cx="129.2" cy="147" rx="8.4" ry="10.5" fill="rgb(140,140,140)"/></g>
<g filter="url(#bl5)" style="mix-blend-mode:lighten"><rect x="-40" y="-40" width="235" height="228" fill="none"/><ellipse cx="129.2" cy="147.5" rx="7.6" ry="9" fill="rgb(173,173,173)"/></g>
<g filter="url(#bl5)" style="mix-blend-mode:lighten"><rect x="-40" y="-40" width="235" height="228" fill="none"/><ellipse cx="129.2" cy="148" rx="6.8" ry="7.2" fill="rgb(204,204,204)"/></g>
<g filter="url(#bl5)" style="mix-blend-mode:lighten"><rect x="-40" y="-40" width="235" height="228" fill="none"/><ellipse cx="129.2" cy="148.5" rx="6" ry="5.5" fill="rgb(235,235,235)"/></g>
<g filter="url(#bl1)" style="mix-blend-mode:lighten"><rect x="-40" y="-40" width="235" height="228" fill="none"/><polygon points="86,160 91,136 99,125 125,121 125,160" fill="rgb(64,64,64)"/></g>
<g filter="url(#bl1)" style="mix-blend-mode:lighten"><rect x="-40" y="-40" width="235" height="228" fill="none"/><polygon points="95,160 97,137 104,130 122,123 124,140 112,160" fill="rgb(99,99,99)"/></g>
<g filter="url(#bl3)" style="mix-blend-mode:lighten"><rect x="-40" y="-40" width="235" height="228" fill="none"/><ellipse cx="104.2" cy="146" rx="7" ry="12" fill="rgb(128,128,128)"/></g>
<g filter="url(#bl3)" style="mix-blend-mode:lighten"><rect x="-40" y="-40" width="235" height="228" fill="none"/><ellipse cx="104.2" cy="147" rx="5.5" ry="10" fill="rgb(153,153,153)"/></g>
<g filter="url(#bl3)" style="mix-blend-mode:lighten"><rect x="-40" y="-40" width="235" height="228" fill="none"/><ellipse cx="104.2" cy="148" rx="3.5" ry="7.5" fill="rgb(176,176,176)"/></g>
<g filter="url(#bl6)" style="mix-blend-mode:lighten"><rect x="-40" y="-40" width="235" height="228" fill="none"/><ellipse cx="114" cy="146" rx="2.5" ry="7" fill="rgb(110,110,110)"/></g>
</g></g></g>
<rect x="25.5" y="168.5" width="155.0" height="148.0" fill="none" stroke="#111" stroke-width="1"/>
<line x1="63.80" y1="169.00" x2="63.80" y2="316.00" stroke="#e8d4ff" stroke-width="1.3" stroke-dasharray="3.2 2.2"/>
<line x1="112.10" y1="169.00" x2="112.10" y2="316.00" stroke="#e8d4ff" stroke-width="1.3" stroke-dasharray="3.2 2.2"/>
<line x1="141.70" y1="169.00" x2="141.70" y2="316.00" stroke="#e8d4ff" stroke-width="1.3" stroke-dasharray="3.2 2.2"/>
<line x1="25.50" y1="245.80" x2="180.50" y2="245.80" stroke="#111" stroke-width="1.1" stroke-dasharray="4 2.4"/>
<text x="40.7" y="177.8" font-size="8.2" fill="#f4ecff" text-anchor="middle">A</text>
<text x="87.9" y="177.8" font-size="8.2" fill="#f4ecff" text-anchor="middle">B</text>
<text x="133.7" y="177.8" font-size="8.2" fill="#f4ecff" text-anchor="middle">C</text>
<text x="170.1" y="177.8" font-size="8.2" fill="#f4ecff" text-anchor="middle">D</text>
<text x="36.1" y="204.5" font-size="8.2" fill="#f4ecff" text-anchor="middle" transform="rotate(-90 36.1 204.5)">Discharge</text>
<text x="36.1" y="281.0" font-size="8.2" fill="#f4ecff" text-anchor="middle" transform="rotate(-90 36.1 281.0)">Charge</text>
<line x1="25.50" y1="316.50" x2="25.50" y2="320.00" stroke="#111" stroke-width="1.2"/>
<text transform="translate(25.80 331.5) scale(0.84 1)" font-size="10.8" fill="#111" text-anchor="middle">10<tspan font-size="7.4" dy="-4.6">-5</tspan></text>
<line x1="44.88" y1="316.50" x2="44.88" y2="318.50" stroke="#111" stroke-width="1.2"/>
<line x1="64.25" y1="316.50" x2="64.25" y2="320.00" stroke="#111" stroke-width="1.2"/>
<text transform="translate(64.55 331.5) scale(0.84 1)" font-size="10.8" fill="#111" text-anchor="middle">10<tspan font-size="7.4" dy="-4.6">-3</tspan></text>
<line x1="83.62" y1="316.50" x2="83.62" y2="318.50" stroke="#111" stroke-width="1.2"/>
<line x1="103.00" y1="316.50" x2="103.00" y2="320.00" stroke="#111" stroke-width="1.2"/>
<text transform="translate(103.30 331.5) scale(0.84 1)" font-size="10.8" fill="#111" text-anchor="middle">10<tspan font-size="7.4" dy="-4.6">-1</tspan></text>
<line x1="122.38" y1="316.50" x2="122.38" y2="318.50" stroke="#111" stroke-width="1.2"/>
<line x1="141.75" y1="316.50" x2="141.75" y2="320.00" stroke="#111" stroke-width="1.2"/>
<text transform="translate(142.05 331.5) scale(0.84 1)" font-size="10.8" fill="#111" text-anchor="middle">10<tspan font-size="7.4" dy="-4.6">1</tspan></text>
<line x1="161.12" y1="316.50" x2="161.12" y2="318.50" stroke="#111" stroke-width="1.2"/>
<line x1="180.50" y1="316.50" x2="180.50" y2="320.00" stroke="#111" stroke-width="1.2"/>
<text transform="translate(180.80 331.5) scale(0.84 1)" font-size="10.8" fill="#111" text-anchor="middle">10<tspan font-size="7.4" dy="-4.6">3</tspan></text>
<text x="103.0" y="341.5" font-size="9.8" fill="#111" text-anchor="middle">τ(s)</text>
<rect x="202.3" y="169.0" width="10.0" height="147.7" fill="url(#cbar)" stroke="#111" stroke-width="0.9"/>
<line x1="199.30" y1="170.10" x2="202.30" y2="170.10" stroke="#111" stroke-width="1.2"/>
<text transform="translate(197.70000000000002 173.4) scale(0.9 1)" font-size="9.81" fill="#111" text-anchor="end">7k</text>
<line x1="199.30" y1="184.50" x2="202.30" y2="184.50" stroke="#111" stroke-width="1.2"/>
<text transform="translate(197.70000000000002 187.8) scale(0.9 1)" font-size="9.81" fill="#111" text-anchor="end">4k</text>
<line x1="199.30" y1="206.50" x2="202.30" y2="206.50" stroke="#111" stroke-width="1.2"/>
<text transform="translate(197.70000000000002 209.8) scale(0.9 1)" font-size="9.81" fill="#111" text-anchor="end">2k</text>
<line x1="199.30" y1="228.50" x2="202.30" y2="228.50" stroke="#111" stroke-width="1.2"/>
<text transform="translate(197.70000000000002 231.8) scale(0.9 1)" font-size="9.81" fill="#111" text-anchor="end">970</text>
<line x1="199.30" y1="250.50" x2="202.30" y2="250.50" stroke="#111" stroke-width="1.2"/>
<text transform="translate(197.70000000000002 253.8) scale(0.9 1)" font-size="9.81" fill="#111" text-anchor="end">462</text>
<line x1="199.30" y1="272.50" x2="202.30" y2="272.50" stroke="#111" stroke-width="1.2"/>
<text transform="translate(197.70000000000002 275.8) scale(0.9 1)" font-size="9.81" fill="#111" text-anchor="end">220</text>
<line x1="199.30" y1="294.50" x2="202.30" y2="294.50" stroke="#111" stroke-width="1.2"/>
<text transform="translate(197.70000000000002 297.8) scale(0.9 1)" font-size="9.81" fill="#111" text-anchor="end">105</text>
<line x1="199.30" y1="315.70" x2="202.30" y2="315.70" stroke="#111" stroke-width="1.2"/>
<text transform="translate(197.70000000000002 319.0) scale(0.9 1)" font-size="9.81" fill="#111" text-anchor="end">50</text>
<text x="221.8" y="242.5" font-size="9.2" fill="#111" text-anchor="middle" transform="rotate(-90 221.8 242.5)">g (f) (Ωs)</text>
<filter id="bl8" x="-50%" y="-50%" width="200%" height="200%" filterUnits="objectBoundingBox" color-interpolation-filters="sRGB"><feGaussianBlur stdDeviation="2.4 2.4"/></filter>
<filter id="bl9" x="-50%" y="-50%" width="200%" height="200%" filterUnits="objectBoundingBox" color-interpolation-filters="sRGB"><feGaussianBlur stdDeviation="1.0 1.0"/></filter>
<filter id="bl10" x="-50%" y="-50%" width="200%" height="200%" filterUnits="objectBoundingBox" color-interpolation-filters="sRGB"><feGaussianBlur stdDeviation="1.1 1.1"/></filter>
<filter id="bl11" x="-50%" y="-50%" width="200%" height="200%" filterUnits="objectBoundingBox" color-interpolation-filters="sRGB"><feGaussianBlur stdDeviation="1.3 1.3"/></filter>
<filter id="bl12" x="-50%" y="-50%" width="200%" height="200%" filterUnits="objectBoundingBox" color-interpolation-filters="sRGB"><feGaussianBlur stdDeviation="1.4 1.4"/></filter>
<clipPath id="hcd"><rect x="249.8" y="168.5" width="155.0" height="148.0"/></clipPath>
<g clip-path="url(#hcd)"><g filter="url(#cm)"><rect x="229.8" y="148.5" width="195.0" height="188.0" fill="#000"/><g transform="translate(249.8 168.5)" stroke="none" stroke-linecap="round" stroke-linejoin="round">
<g filter="url(#bl8)" style="mix-blend-mode:lighten"><rect x="-40" y="-40" width="235" height="228" fill="none"/><polyline points="30.5,-6 30,40 28.5,78" fill="none" stroke="rgb(33,33,33)" stroke-width="23"/></g>
<g filter="url(#bl8)" style="mix-blend-mode:lighten"><rect x="-40" y="-40" width="235" height="228" fill="none"/><polyline points="30.5,-6 30,40 28.5,78" fill="none" stroke="rgb(56,56,56)" stroke-width="16"/></g>
<g filter="url(#bl8)" style="mix-blend-mode:lighten"><rect x="-40" y="-40" width="235" height="228" fill="none"/><polyline points="30.5,-6 30,40 28.5,78" fill="none" stroke="rgb(76,76,76)" stroke-width="10"/></g>
<g filter="url(#bl4)" style="mix-blend-mode:lighten"><rect x="-40" y="-40" width="235" height="228" fill="none"/><ellipse cx="30.3" cy="10" rx="3" ry="12" fill="rgb(84,84,84)"/></g>
<g filter="url(#bl1)" style="mix-blend-mode:lighten"><rect x="-40" y="-40" width="235" height="228" fill="none"/><polygon points="18.7,76 38,76 37,84 28,95 24,96 18.7,88" fill="rgb(33,33,33)"/></g>
<g filter="url(#bl0)" style="mix-blend-mode:lighten"><rect x="-40" y="-40" width="235" height="228" fill="none"/><ellipse cx="28.3" cy="77" rx="5" ry="7" fill="rgb(61,61,61)"/></g>
<g filter="url(#bl2)" style="mix-blend-mode:lighten"><rect x="-40" y="-40" width="235" height="228" fill="none"/><polyline points="21.3,110 21.3,126" fill="none" stroke="rgb(23,23,23)" stroke-width="2.2"/></g>
<g filter="url(#bl1)" style="mix-blend-mode:lighten"><rect x="-40" y="-40" width="235" height="228" fill="none"/><polygon points="20.8,125 41,131 41,160 20.8,160" fill="rgb(31,31,31)"/></g>
<g filter="url(#bl0)" style="mix-blend-mode:lighten"><rect x="-40" y="-40" width="235" height="228" fill="none"/><ellipse cx="31" cy="146" rx="6" ry="14" fill="rgb(51,51,51)"/></g>
<g filter="url(#bl0)" style="mix-blend-mode:lighten"><rect x="-40" y="-40" width="235" height="228" fill="none"/><ellipse cx="31" cy="148" rx="3.8" ry="10" fill="rgb(71,71,71)"/></g>
<g filter="url(#bl0)" style="mix-blend-mode:lighten"><rect x="-40" y="-40" width="235" height="228" fill="none"/><polygon points="56.5,-8 90,-8 90,70 74,76 68.5,72 67.5,62 71,50 69.5,38 63,24 56.5,12" fill="rgb(31,31,31)"/></g>
<g filter="url(#bl0)" style="mix-blend-mode:lighten"><rect x="-40" y="-40" width="235" height="228" fill="none"/><polyline points="78.5,-6 78.3,18 74.5,36 71.5,60 71,68" fill="none" stroke="rgb(46,46,46)" stroke-width="10"/></g>
<g filter="url(#bl1)" style="mix-blend-mode:lighten"><rect x="-40" y="-40" width="235" height="228" fill="none"/><polyline points="78.5,-6 78.5,18" fill="none" stroke="rgb(74,74,74)" stroke-width="6.5"/></g>
<g filter="url(#bl1)" style="mix-blend-mode:lighten"><rect x="-40" y="-40" width="235" height="228" fill="none"/><polyline points="77,20 74.5,36 72,56" fill="none" stroke="rgb(54,54,54)" stroke-width="4"/></g>
<g filter="url(#bl0)" style="mix-blend-mode:lighten"><rect x="-40" y="-40" width="235" height="228" fill="none"/><polygon points="57,160 58.5,140 66,131 76,127.5 100,128 100,160" fill="rgb(28,28,28)"/></g>
<g filter="url(#bl8)" style="mix-blend-mode:lighten"><rect x="-40" y="-40" width="235" height="228" fill="none"/><ellipse cx="80" cy="147" rx="10" ry="14" fill="rgb(48,48,48)"/></g>
<g filter="url(#bl8)" style="mix-blend-mode:lighten"><rect x="-40" y="-40" width="235" height="228" fill="none"/><ellipse cx="80.5" cy="148" rx="6" ry="9" fill="rgb(69,69,69)"/></g>
<g filter="url(#bl1)" style="mix-blend-mode:lighten"><rect x="-40" y="-40" width="235" height="228" fill="none"/><polyline points="92.5,33 92.3,50 91.5,70" fill="none" stroke="rgb(56,56,56)" stroke-width="11"/></g>
<g filter="url(#bl1)" style="mix-blend-mode:lighten"><rect x="-40" y="-40" width="235" height="228" fill="none"/><polyline points="92.5,33 92.3,50 91.5,70" fill="none" stroke="rgb(79,79,79)" stroke-width="6.5"/></g>
<g filter="url(#bl1)" style="mix-blend-mode:lighten"><rect x="-40" y="-40" width="235" height="228" fill="none"/><ellipse cx="92.5" cy="39.5" rx="2.8" ry="5" fill="rgb(92,92,92)"/></g>
<g filter="url(#bl1)" style="mix-blend-mode:lighten"><rect x="-40" y="-40" width="235" height="228" fill="none"/><ellipse cx="91.7" cy="60.5" rx="2.5" ry="6" fill="rgb(92,92,92)"/></g>
<g filter="url(#bl3)" style="mix-blend-mode:lighten"><rect x="-40" y="-40" width="235" height="228" fill="none"/><polyline points="92,33 103,31" fill="none" stroke="rgb(64,64,64)" stroke-width="7"/></g>
<g filter="url(#bl6)" style="mix-blend-mode:lighten"><rect x="-40" y="-40" width="235" height="228" fill="none"/><polyline points="99.7,-6 99.9,12 102,19 106.2,25 109.5,34 111,46 111.5,60 110.5,70 109,81" fill="none" stroke="rgb(66,66,66)" stroke-width="14.5"/></g>
<g filter="url(#bl6)" style="mix-blend-mode:lighten"><rect x="-40" y="-40" width="235" height="228" fill="none"/><polyline points="99.7,-6 99.9,12 102,19 106.2,25 109.5,34 111,46 111.5,60 110.5,70 109,81" fill="none" stroke="rgb(102,102,102)" stroke-width="10.5"/></g>
<g filter="url(#bl6)" style="mix-blend-mode:lighten"><rect x="-40" y="-40" width="235" height="228" fill="none"/><polyline points="99.7,-6 99.9,12 102,19 106.2,25 109.5,34 111,46 111.5,60 110.5,70 109,81" fill="none" stroke="rgb(128,128,128)" stroke-width="6.5"/></g>
<g filter="url(#bl6)" style="mix-blend-mode:lighten"><rect x="-40" y="-40" width="235" height="228" fill="none"/><polyline points="99.7,-6 99.9,12 102,19 106.2,25 109.5,34 111,46 111.5,60 110.5,70 109.3,77" fill="none" stroke="rgb(145,145,145)" stroke-width="3.5"/></g>
<g filter="url(#bl5)" style="mix-blend-mode:lighten"><rect x="-40" y="-40" width="235" height="228" fill="none"/><ellipse cx="106.2" cy="25" rx="2.5" ry="3" fill="rgb(168,168,168)"/></g>
<g filter="url(#bl5)" style="mix-blend-mode:lighten"><rect x="-40" y="-40" width="235" height="228" fill="none"/><ellipse cx="111.5" cy="60.5" rx="2" ry="6" fill="rgb(178,178,178)"/></g>
<g filter="url(#bl9)" style="mix-blend-mode:lighten"><rect x="-40" y="-40" width="235" height="228" fill="none"/><rect x="119.6" y="-14" width="19.400000000000006" height="52" rx="9" fill="rgb(71,71,71)"/></g>
<g filter="url(#bl9)" style="mix-blend-mode:lighten"><rect x="-40" y="-40" width="235" height="228" fill="none"/><rect x="120.4" y="-14" width="17.799999999999983" height="50.5" rx="8.5" fill="rgb(107,107,107)"/></g>
<g filter="url(#bl10)" style="mix-blend-mode:lighten"><rect x="-40" y="-40" width="235" height="228" fill="none"/><rect x="121.4" y="-14" width="15.799999999999983" height="48" rx="8" fill="rgb(148,148,148)"/></g>
<g filter="url(#bl2)" style="mix-blend-mode:lighten"><rect x="-40" y="-40" width="235" height="228" fill="none"/><rect x="122.4" y="-14" width="13.799999999999983" height="44.5" rx="7" fill="rgb(178,178,178)"/></g>
<g filter="url(#bl11)" style="mix-blend-mode:lighten"><rect x="-40" y="-40" width="235" height="228" fill="none"/><rect x="123.4" y="-14" width="12.0" height="40.5" rx="6.5" fill="rgb(204,204,204)"/></g>
<g filter="url(#bl12)" style="mix-blend-mode:lighten"><rect x="-40" y="-40" width="235" height="228" fill="none"/><rect x="124.6" y="-14" width="10.200000000000017" height="35.5" rx="5.5" fill="rgb(222,222,222)"/></g>
<g filter="url(#bl5)" style="mix-blend-mode:lighten"><rect x="-40" y="-40" width="235" height="228" fill="none"/><rect x="126" y="-14" width="7.800000000000011" height="26" rx="4.5" fill="rgb(237,237,237)"/></g>
<g filter="url(#bl3)" style="mix-blend-mode:lighten"><rect x="-40" y="-40" width="235" height="228" fill="none"/><ellipse cx="120.7" cy="91" rx="4.2" ry="11.5" fill="rgb(31,31,31)"/></g>
<g filter="url(#bl3)" style="mix-blend-mode:lighten"><rect x="-40" y="-40" width="235" height="228" fill="none"/><ellipse cx="120.7" cy="90" rx="2.6" ry="8.5" fill="rgb(51,51,51)"/></g>
<g filter="url(#bl10)" style="mix-blend-mode:lighten"><rect x="-40" y="-40" width="235" height="228" fill="none"/><rect x="120.0" y="100.5" width="18.0" height="33.5" rx="5" fill="rgb(71,71,71)"/></g>
<g filter="url(#bl10)" style="mix-blend-mode:lighten"><rect x="-40" y="-40" width="235" height="228" fill="none"/><rect x="121.2" y="101.7" width="15.600000000000009" height="32.3" rx="4.5" fill="rgb(107,107,107)"/></g>
<g filter="url(#bl5)" style="mix-blend-mode:lighten"><rect x="-40" y="-40" width="235" height="228" fill="none"/><ellipse cx="129.3" cy="116.5" rx="6" ry="12.5" fill="rgb(133,133,133)"/></g>
<g filter="url(#bl5)" style="mix-blend-mode:lighten"><rect x="-40" y="-40" width="235" height="228" fill="none"/><ellipse cx="129.3" cy="116.5" rx="4.8" ry="10.5" fill="rgb(153,153,153)"/></g>
<g filter="url(#bl10)" style="mix-blend-mode:lighten"><rect x="-40" y="-40" width="235" height="228" fill="none"/><rect x="120.8" y="130" width="16.799999999999997" height="35" rx="5" fill="rgb(71,71,71)"/></g>
<g filter="url(#bl10)" style="mix-blend-mode:lighten"><rect x="-40" y="-40" width="235" height="228" fill="none"/><rect x="121.8" y="134" width="14.799999999999997" height="31" rx="4.5" fill="rgb(107,107,107)"/></g>
<g filter="url(#bl12)" style="mix-blend-mode:lighten"><rect x="-40" y="-40" width="235" height="228" fill="none"/><ellipse cx="128.8" cy="146" rx="7.2" ry="10" fill="rgb(148,148,148)"/></g>
<g filter="url(#bl12)" style="mix-blend-mode:lighten"><rect x="-40" y="-40" width="235" height="228" fill="none"/><ellipse cx="128.8" cy="146.5" rx="6.4" ry="8.6" fill="rgb(178,178,178)"/></g>
<g filter="url(#bl12)" style="mix-blend-mode:lighten"><rect x="-40" y="-40" width="235" height="228" fill="none"/><ellipse cx="128.8" cy="147" rx="5.6" ry="7.2" fill="rgb(209,209,209)"/></g>
<g filter="url(#bl12)" style="mix-blend-mode:lighten"><rect x="-40" y="-40" width="235" height="228" fill="none"/><ellipse cx="128.8" cy="147.5" rx="4.6" ry="5.6" fill="rgb(237,237,237)"/></g>
<g filter="url(#bl11)" style="mix-blend-mode:lighten"><rect x="-40" y="-40" width="235" height="228" fill="none"/><polyline points="98,109 98,126" fill="none" stroke="rgb(31,31,31)" stroke-width="3"/></g>
<g filter="url(#bl3)" style="mix-blend-mode:lighten"><rect x="-40" y="-40" width="235" height="228" fill="none"/><polygon points="97,160 98,135 104,128 122,127 122,160" fill="rgb(64,64,64)"/></g>
<g filter="url(#bl3)" style="mix-blend-mode:lighten"><rect x="-40" y="-40" width="235" height="228" fill="none"/><polygon points="99.5,160 100.5,137 106,131.5 121,131 121,160" fill="rgb(102,102,102)"/></g>
<g filter="url(#bl5)" style="mix-blend-mode:lighten"><rect x="-40" y="-40" width="235" height="228" fill="none"/><ellipse cx="105.5" cy="144" rx="5.5" ry="10" fill="rgb(128,128,128)"/></g>
<g filter="url(#bl5)" style="mix-blend-mode:lighten"><rect x="-40" y="-40" width="235" height="228" fill="none"/><ellipse cx="105.3" cy="144.5" rx="4" ry="8.5" fill="rgb(153,153,153)"/></g>
<g filter="url(#bl11)" style="mix-blend-mode:lighten"><rect x="-40" y="-40" width="235" height="228" fill="none"/><ellipse cx="111" cy="147.5" rx="2.2" ry="6" fill="rgb(76,76,76)"/></g>
</g></g></g>
<rect x="249.8" y="168.5" width="155.0" height="148.0" fill="none" stroke="#111" stroke-width="1"/>
<line x1="288.10" y1="169.00" x2="288.10" y2="316.00" stroke="#e8d4ff" stroke-width="1.3" stroke-dasharray="3.2 2.2"/>
<line x1="336.40" y1="169.00" x2="336.40" y2="316.00" stroke="#e8d4ff" stroke-width="1.3" stroke-dasharray="3.2 2.2"/>
<line x1="366.00" y1="169.00" x2="366.00" y2="316.00" stroke="#e8d4ff" stroke-width="1.3" stroke-dasharray="3.2 2.2"/>
<line x1="249.80" y1="245.80" x2="404.80" y2="245.80" stroke="#111" stroke-width="1.1" stroke-dasharray="4 2.4"/>
<text x="265.0" y="177.8" font-size="8.2" fill="#f4ecff" text-anchor="middle">A</text>
<text x="312.2" y="177.8" font-size="8.2" fill="#f4ecff" text-anchor="middle">B</text>
<text x="361.6" y="177.8" font-size="8.2" fill="#f4ecff" text-anchor="middle">C</text>
<text x="394.4" y="177.8" font-size="8.2" fill="#f4ecff" text-anchor="middle">D</text>
<text x="260.40000000000003" y="204.5" font-size="8.2" fill="#f4ecff" text-anchor="middle" transform="rotate(-90 260.40000000000003 204.5)">Discharge</text>
<text x="260.40000000000003" y="281.0" font-size="8.2" fill="#f4ecff" text-anchor="middle" transform="rotate(-90 260.40000000000003 281.0)">Charge</text>
<line x1="249.80" y1="316.50" x2="249.80" y2="320.00" stroke="#111" stroke-width="1.2"/>
<text transform="translate(250.10 331.5) scale(0.84 1)" font-size="10.8" fill="#111" text-anchor="middle">10<tspan font-size="7.4" dy="-4.6">-5</tspan></text>
<line x1="269.18" y1="316.50" x2="269.18" y2="318.50" stroke="#111" stroke-width="1.2"/>
<line x1="288.55" y1="316.50" x2="288.55" y2="320.00" stroke="#111" stroke-width="1.2"/>
<text transform="translate(288.85 331.5) scale(0.84 1)" font-size="10.8" fill="#111" text-anchor="middle">10<tspan font-size="7.4" dy="-4.6">-3</tspan></text>
<line x1="307.93" y1="316.50" x2="307.93" y2="318.50" stroke="#111" stroke-width="1.2"/>
<line x1="327.30" y1="316.50" x2="327.30" y2="320.00" stroke="#111" stroke-width="1.2"/>
<text transform="translate(327.60 331.5) scale(0.84 1)" font-size="10.8" fill="#111" text-anchor="middle">10<tspan font-size="7.4" dy="-4.6">-1</tspan></text>
<line x1="346.68" y1="316.50" x2="346.68" y2="318.50" stroke="#111" stroke-width="1.2"/>
<line x1="366.05" y1="316.50" x2="366.05" y2="320.00" stroke="#111" stroke-width="1.2"/>
<text transform="translate(366.35 331.5) scale(0.84 1)" font-size="10.8" fill="#111" text-anchor="middle">10<tspan font-size="7.4" dy="-4.6">1</tspan></text>
<line x1="385.43" y1="316.50" x2="385.43" y2="318.50" stroke="#111" stroke-width="1.2"/>
<line x1="404.80" y1="316.50" x2="404.80" y2="320.00" stroke="#111" stroke-width="1.2"/>
<text transform="translate(405.10 331.5) scale(0.84 1)" font-size="10.8" fill="#111" text-anchor="middle">10<tspan font-size="7.4" dy="-4.6">3</tspan></text>
<text x="327.3" y="341.5" font-size="9.8" fill="#111" text-anchor="middle">τ(s)</text>
<rect x="426.6" y="169.0" width="10.0" height="147.7" fill="url(#cbar)" stroke="#111" stroke-width="0.9"/>
<line x1="423.60" y1="170.10" x2="426.60" y2="170.10" stroke="#111" stroke-width="1.2"/>
<text transform="translate(422.0 173.4) scale(0.9 1)" font-size="9.81" fill="#111" text-anchor="end">7k</text>
<line x1="423.60" y1="184.50" x2="426.60" y2="184.50" stroke="#111" stroke-width="1.2"/>
<text transform="translate(422.0 187.8) scale(0.9 1)" font-size="9.81" fill="#111" text-anchor="end">4k</text>
<line x1="423.60" y1="206.50" x2="426.60" y2="206.50" stroke="#111" stroke-width="1.2"/>
<text transform="translate(422.0 209.8) scale(0.9 1)" font-size="9.81" fill="#111" text-anchor="end">2k</text>
<line x1="423.60" y1="228.50" x2="426.60" y2="228.50" stroke="#111" stroke-width="1.2"/>
<text transform="translate(422.0 231.8) scale(0.9 1)" font-size="9.81" fill="#111" text-anchor="end">970</text>
<line x1="423.60" y1="250.50" x2="426.60" y2="250.50" stroke="#111" stroke-width="1.2"/>
<text transform="translate(422.0 253.8) scale(0.9 1)" font-size="9.81" fill="#111" text-anchor="end">462</text>
<line x1="423.60" y1="272.50" x2="426.60" y2="272.50" stroke="#111" stroke-width="1.2"/>
<text transform="translate(422.0 275.8) scale(0.9 1)" font-size="9.81" fill="#111" text-anchor="end">220</text>
<line x1="423.60" y1="294.50" x2="426.60" y2="294.50" stroke="#111" stroke-width="1.2"/>
<text transform="translate(422.0 297.8) scale(0.9 1)" font-size="9.81" fill="#111" text-anchor="end">105</text>
<line x1="423.60" y1="315.70" x2="426.60" y2="315.70" stroke="#111" stroke-width="1.2"/>
<text transform="translate(422.0 319.0) scale(0.9 1)" font-size="9.81" fill="#111" text-anchor="end">50</text>
<text x="446.1" y="242.5" font-size="9.2" fill="#111" text-anchor="middle" transform="rotate(-90 446.1 242.5)">g (f) (Ωs)</text>
<filter id="bl13" x="-50%" y="-50%" width="200%" height="200%" filterUnits="objectBoundingBox" color-interpolation-filters="sRGB"><feGaussianBlur stdDeviation="1.1 2.4"/></filter>
<clipPath id="hce"><rect x="471.5" y="167.8" width="155.0" height="148.0"/></clipPath>
<g clip-path="url(#hce)"><g filter="url(#cm)"><rect x="451.5" y="147.8" width="195.0" height="188.0" fill="#000"/><g transform="translate(471.5 167.8)" stroke="none" stroke-linecap="round" stroke-linejoin="round">
<g filter="url(#bl8)" style="mix-blend-mode:lighten"><rect x="-40" y="-40" width="235" height="228" fill="none"/><polyline points="30.2,-6 29.7,30 28.3,62 27.5,80" fill="none" stroke="rgb(31,31,31)" stroke-width="21"/></g>
<g filter="url(#bl8)" style="mix-blend-mode:lighten"><rect x="-40" y="-40" width="235" height="228" fill="none"/><polyline points="30.2,-6 29.7,30 28.3,62 27.5,80" fill="none" stroke="rgb(54,54,54)" stroke-width="14"/></g>
<g filter="url(#bl8)" style="mix-blend-mode:lighten"><rect x="-40" y="-40" width="235" height="228" fill="none"/><polyline points="30.2,-6 29.7,30 28.3,62 27.5,80" fill="none" stroke="rgb(76,76,76)" stroke-width="8.5"/></g>
<g filter="url(#bl4)" style="mix-blend-mode:lighten"><rect x="-40" y="-40" width="235" height="228" fill="none"/><ellipse cx="30" cy="8" rx="3" ry="11" fill="rgb(87,87,87)"/></g>
<g filter="url(#bl1)" style="mix-blend-mode:lighten"><rect x="-40" y="-40" width="235" height="228" fill="none"/><polygon points="17.5,74 35,74 32,90 25.8,110 30,125 35.5,148 35.5,160 15,160 15.5,140 17.5,120" fill="rgb(26,26,26)"/></g>
<g filter="url(#bl0)" style="mix-blend-mode:lighten"><rect x="-40" y="-40" width="235" height="228" fill="none"/><ellipse cx="26" cy="76" rx="4.5" ry="9" fill="rgb(51,51,51)"/></g>
<g filter="url(#bl8)" style="mix-blend-mode:lighten"><rect x="-40" y="-40" width="235" height="228" fill="none"/><ellipse cx="24" cy="143" rx="4" ry="12" fill="rgb(41,41,41)"/></g>
<g filter="url(#bl3)" style="mix-blend-mode:lighten"><rect x="-40" y="-40" width="235" height="228" fill="none"/><polygon points="71.5,-8 85.5,-8 85.5,30 76.5,66 72,68 69.2,60 69.2,38 66.8,24.5 71.5,15" fill="rgb(33,33,33)"/></g>
<g filter="url(#bl1)" style="mix-blend-mode:lighten"><rect x="-40" y="-40" width="235" height="228" fill="none"/><polyline points="79,-6 78.8,18 76,32 74.5,46" fill="none" stroke="rgb(51,51,51)" stroke-width="8"/></g>
<g filter="url(#bl3)" style="mix-blend-mode:lighten"><rect x="-40" y="-40" width="235" height="228" fill="none"/><polyline points="79,-6 79,16" fill="none" stroke="rgb(69,69,69)" stroke-width="5"/></g>
<g filter="url(#bl1)" style="mix-blend-mode:lighten"><rect x="-40" y="-40" width="235" height="228" fill="none"/><ellipse cx="75.7" cy="36" rx="2.3" ry="7" fill="rgb(61,61,61)"/></g>
<g filter="url(#bl5)" style="mix-blend-mode:lighten"><rect x="-40" y="-40" width="235" height="228" fill="none"/><polygon points="72,160 75,138 86,133.5 88,160" fill="rgb(31,31,31)"/></g>
<g filter="url(#bl3)" style="mix-blend-mode:lighten"><rect x="-40" y="-40" width="235" height="228" fill="none"/><ellipse cx="81.5" cy="147" rx="5.5" ry="9" fill="rgb(56,56,56)"/></g>
<g filter="url(#bl3)" style="mix-blend-mode:lighten"><rect x="-40" y="-40" width="235" height="228" fill="none"/><ellipse cx="81.5" cy="148.5" rx="3.8" ry="6.5" fill="rgb(79,79,79)"/></g>
<g filter="url(#bl3)" style="mix-blend-mode:lighten"><rect x="-40" y="-40" width="235" height="228" fill="none"/><polyline points="95,10 93,18 93,30 92.8,42 91.8,56 91.2,68" fill="none" stroke="rgb(61,61,61)" stroke-width="14"/></g>
<g filter="url(#bl3)" style="mix-blend-mode:lighten"><rect x="-40" y="-40" width="235" height="228" fill="none"/><polyline points="95,10 93,18 93,30 92.8,42 91.8,56 91.2,68" fill="none" stroke="rgb(87,87,87)" stroke-width="10"/></g>
<g filter="url(#bl5)" style="mix-blend-mode:lighten"><rect x="-40" y="-40" width="235" height="228" fill="none"/><polyline points="94.5,11 93,16" fill="none" stroke="rgb(110,110,110)" stroke-width="6"/></g>
<g filter="url(#bl3)" style="mix-blend-mode:lighten"><rect x="-40" y="-40" width="235" height="228" fill="none"/><polyline points="92.8,32 92.3,44" fill="none" stroke="rgb(110,110,110)" stroke-width="6.5"/></g>
<g filter="url(#bl3)" style="mix-blend-mode:lighten"><rect x="-40" y="-40" width="235" height="228" fill="none"/><polyline points="92.3,44 91.4,62" fill="none" stroke="rgb(102,102,102)" stroke-width="3.5"/></g>
<g filter="url(#bl3)" style="mix-blend-mode:lighten"><rect x="-40" y="-40" width="235" height="228" fill="none"/><polygon points="88,4 100,-4 106,22 104,36 96,44 88,30" fill="rgb(76,76,76)"/></g>
<g filter="url(#bl6)" style="mix-blend-mode:lighten"><rect x="-40" y="-40" width="235" height="228" fill="none"/><polyline points="100.5,-6 101,6 103,16 106.8,25 110,38 112.4,49 114,60.5 112.8,68 112,72" fill="none" stroke="rgb(66,66,66)" stroke-width="14"/></g>
<g filter="url(#bl6)" style="mix-blend-mode:lighten"><rect x="-40" y="-40" width="235" height="228" fill="none"/><polyline points="100.5,-6 101,6 103,16 106.8,25 110,38 112.4,49 114,60.5 112.8,68 112,72" fill="none" stroke="rgb(102,102,102)" stroke-width="10"/></g>
<g filter="url(#bl6)" style="mix-blend-mode:lighten"><rect x="-40" y="-40" width="235" height="228" fill="none"/><polyline points="100.5,-6 101,6 103,16 106.8,25 110,38 112.4,49 114,60.5 112.8,68 112,72" fill="none" stroke="rgb(128,128,128)" stroke-width="6.2"/></g>
<g filter="url(#bl6)" style="mix-blend-mode:lighten"><rect x="-40" y="-40" width="235" height="228" fill="none"/><polyline points="100.5,-6 101,6 103,16 106.8,25 110,38 112.4,49 114,60.5 112.8,68" fill="none" stroke="rgb(148,148,148)" stroke-width="3.4"/></g>
<g filter="url(#bl3)" style="mix-blend-mode:lighten"><rect x="-40" y="-40" width="235" height="228" fill="none"/><ellipse cx="101" cy="0" rx="3" ry="6" fill="rgb(163,163,163)"/></g>
<g filter="url(#bl5)" style="mix-blend-mode:lighten"><rect x="-40" y="-40" width="235" height="228" fill="none"/><ellipse cx="114" cy="60.5" rx="1.8" ry="5" fill="rgb(178,178,178)"/></g>
<g filter="url(#bl5)" style="mix-blend-mode:lighten"><rect x="-40" y="-40" width="235" height="228" fill="none"/><ellipse cx="106.8" cy="25" rx="2.2" ry="3" fill="rgb(161,161,161)"/></g>
<g filter="url(#bl3)" style="mix-blend-mode:lighten"><rect x="-40" y="-40" width="235" height="228" fill="none"/><polyline points="100.5,70 100.2,97" fill="none" stroke="rgb(26,26,26)" stroke-width="9"/></g>
<g filter="url(#bl3)" style="mix-blend-mode:lighten"><rect x="-40" y="-40" width="235" height="228" fill="none"/><polyline points="100.5,70 100.2,97" fill="none" stroke="rgb(43,43,43)" stroke-width="5"/></g>
<g filter="url(#bl9)" style="mix-blend-mode:lighten"><rect x="-40" y="-40" width="235" height="228" fill="none"/><ellipse cx="94.7" cy="123.6" rx="2.2" ry="2.2" fill="rgb(23,23,23)"/></g>
<g filter="url(#bl13)" style="mix-blend-mode:lighten"><rect x="-40" y="-40" width="235" height="228" fill="none"/><rect x="118.2" y="-14" width="20.200000000000003" height="52.0" rx="5" fill="rgb(71,71,71)"/></g>
<g filter="url(#bl13)" style="mix-blend-mode:lighten"><rect x="-40" y="-40" width="235" height="228" fill="none"/><rect x="118.9" y="-14" width="18.80000000000001" height="50.2" rx="4.3" fill="rgb(107,107,107)"/></g>
<g filter="url(#bl13)" style="mix-blend-mode:lighten"><rect x="-40" y="-40" width="235" height="228" fill="none"/><rect x="119.60000000000001" y="-14" width="17.39999999999999" height="47.7" rx="3.6" fill="rgb(148,148,148)"/></g>
<g filter="url(#bl13)" style="mix-blend-mode:lighten"><rect x="-40" y="-40" width="235" height="228" fill="none"/><rect x="120.3" y="-14" width="16.000000000000014" height="44.5" rx="2.9" fill="rgb(178,178,178)"/></g>
<g filter="url(#bl13)" style="mix-blend-mode:lighten"><rect x="-40" y="-40" width="235" height="228" fill="none"/><rect x="121.0" y="-14" width="14.599999999999994" height="38.5" rx="2.2" fill="rgb(204,204,204)"/></g>
<g filter="url(#bl13)" style="mix-blend-mode:lighten"><rect x="-40" y="-40" width="235" height="228" fill="none"/><rect x="121.8" y="-14" width="13.000000000000014" height="32.5" rx="1.4" fill="rgb(222,222,222)"/></g>
<g filter="url(#bl13)" style="mix-blend-mode:lighten"><rect x="-40" y="-40" width="235" height="228" fill="none"/><rect x="122.8" y="-14" width="11.000000000000014" height="23.5" rx="1" fill="rgb(237,237,237)"/></g>
<g filter="url(#bl2)" style="mix-blend-mode:lighten"><rect x="-40" y="-40" width="235" height="228" fill="none"/><polygon points="118.4,66 121,63.3 135,63.3 137.6,66 137.6,104 134,108.5 125.5,108.5 118.4,101" fill="rgb(69,69,69)"/></g>
<g filter="url(#bl12)" style="mix-blend-mode:lighten"><rect x="-40" y="-40" width="235" height="228" fill="none"/><polygon points="119.6,67 121.8,64.8 134.2,64.8 136.4,67 136.4,99 132,103 127,103 119.6,96" fill="rgb(107,107,107)"/></g>
<g filter="url(#bl3)" style="mix-blend-mode:lighten"><rect x="-40" y="-40" width="235" height="228" fill="none"/><ellipse cx="128" cy="80" rx="6.8" ry="16" fill="rgb(128,128,128)"/></g>
<g filter="url(#bl3)" style="mix-blend-mode:lighten"><rect x="-40" y="-40" width="235" height="228" fill="none"/><ellipse cx="128" cy="79" rx="5.4" ry="13" fill="rgb(153,153,153)"/></g>
<g filter="url(#bl3)" style="mix-blend-mode:lighten"><rect x="-40" y="-40" width="235" height="228" fill="none"/><ellipse cx="120.6" cy="122" rx="5.5" ry="10" fill="rgb(56,56,56)"/></g>
<g filter="url(#bl3)" style="mix-blend-mode:lighten"><rect x="-40" y="-40" width="235" height="228" fill="none"/><ellipse cx="120.8" cy="122" rx="3.8" ry="7.5" fill="rgb(92,92,92)"/></g>
<g filter="url(#bl5)" style="mix-blend-mode:lighten"><rect x="-40" y="-40" width="235" height="228" fill="none"/><polyline points="120,126 112.5,131 109,139" fill="none" stroke="rgb(61,61,61)" stroke-width="8.5"/></g>
<g filter="url(#bl5)" style="mix-blend-mode:lighten"><rect x="-40" y="-40" width="235" height="228" fill="none"/><polyline points="120,126 112.5,131 109,139" fill="none" stroke="rgb(102,102,102)" stroke-width="5"/></g>
<g filter="url(#bl2)" style="mix-blend-mode:lighten"><rect x="-40" y="-40" width="235" height="228" fill="none"/><rect x="97.8" y="136.5" width="16.700000000000003" height="28.5" rx="4" fill="rgb(71,71,71)"/></g>
<g filter="url(#bl2)" style="mix-blend-mode:lighten"><rect x="-40" y="-40" width="235" height="228" fill="none"/><rect x="99" y="137.8" width="14.299999999999997" height="27.19999999999999" rx="3.5" fill="rgb(107,107,107)"/></g>
<g filter="url(#bl6)" style="mix-blend-mode:lighten"><rect x="-40" y="-40" width="235" height="228" fill="none"/><ellipse cx="105" cy="147" rx="6" ry="8.5" fill="rgb(140,140,140)"/></g>
<g filter="url(#bl6)" style="mix-blend-mode:lighten"><rect x="-40" y="-40" width="235" height="228" fill="none"/><ellipse cx="104.4" cy="148" rx="4.2" ry="6" fill="rgb(173,173,173)"/></g>
<g filter="url(#bl9)" style="mix-blend-mode:lighten"><rect x="-40" y="-40" width="235" height="228" fill="none"/><rect x="118.2" y="136.3" width="20.200000000000003" height="28.69999999999999" rx="4.5" fill="rgb(71,71,71)"/></g>
<g filter="url(#bl9)" style="mix-blend-mode:lighten"><rect x="-40" y="-40" width="235" height="228" fill="none"/><rect x="118.9" y="137.0" width="18.80000000000001" height="28.0" rx="4.15" fill="rgb(107,107,107)"/></g>
<g filter="url(#bl9)" style="mix-blend-mode:lighten"><rect x="-40" y="-40" width="235" height="228" fill="none"/><rect x="119.60000000000001" y="137.70000000000002" width="17.39999999999999" height="27.299999999999983" rx="3.8" fill="rgb(148,148,148)"/></g>
<g filter="url(#bl9)" style="mix-blend-mode:lighten"><rect x="-40" y="-40" width="235" height="228" fill="none"/><rect x="120.3" y="138.4" width="16.000000000000014" height="26.599999999999994" rx="3.45" fill="rgb(178,178,178)"/></g>
<g filter="url(#bl9)" style="mix-blend-mode:lighten"><rect x="-40" y="-40" width="235" height="228" fill="none"/><rect x="121.0" y="139.10000000000002" width="14.599999999999994" height="25.899999999999977" rx="3.1" fill="rgb(204,204,204)"/></g>
<g filter="url(#bl9)" style="mix-blend-mode:lighten"><rect x="-40" y="-40" width="235" height="228" fill="none"/><rect x="121.8" y="139.9" width="13.000000000000014" height="25.099999999999994" rx="2.7" fill="rgb(224,224,224)"/></g>
<g filter="url(#bl9)" style="mix-blend-mode:lighten"><rect x="-40" y="-40" width="235" height="228" fill="none"/><rect x="122.8" y="140.9" width="11.000000000000014" height="24.099999999999994" rx="2.2" fill="rgb(242,242,242)"/></g>
</g></g></g>
<rect x="471.5" y="167.8" width="155.0" height="148.0" fill="none" stroke="#111" stroke-width="1"/>
<line x1="509.80" y1="168.30" x2="509.80" y2="315.30" stroke="#e8d4ff" stroke-width="1.3" stroke-dasharray="3.2 2.2"/>
<line x1="558.10" y1="168.30" x2="558.10" y2="315.30" stroke="#e8d4ff" stroke-width="1.3" stroke-dasharray="3.2 2.2"/>
<line x1="587.70" y1="168.30" x2="587.70" y2="315.30" stroke="#e8d4ff" stroke-width="1.3" stroke-dasharray="3.2 2.2"/>
<line x1="471.50" y1="245.10" x2="626.50" y2="245.10" stroke="#111" stroke-width="1.1" stroke-dasharray="4 2.4"/>
<text x="486.7" y="177.10000000000002" font-size="8.2" fill="#f4ecff" text-anchor="middle">A</text>
<text x="533.9" y="177.10000000000002" font-size="8.2" fill="#f4ecff" text-anchor="middle">B</text>
<text x="583.3" y="177.10000000000002" font-size="8.2" fill="#f4ecff" text-anchor="middle">C</text>
<text x="616.1" y="177.10000000000002" font-size="8.2" fill="#f4ecff" text-anchor="middle">D</text>
<text x="482.1" y="203.8" font-size="8.2" fill="#f4ecff" text-anchor="middle" transform="rotate(-90 482.1 203.8)">Discharge</text>
<text x="482.1" y="280.3" font-size="8.2" fill="#f4ecff" text-anchor="middle" transform="rotate(-90 482.1 280.3)">Charge</text>
<line x1="471.50" y1="315.80" x2="471.50" y2="319.30" stroke="#111" stroke-width="1.2"/>
<text transform="translate(471.80 330.8) scale(0.84 1)" font-size="10.8" fill="#111" text-anchor="middle">10<tspan font-size="7.4" dy="-4.6">-5</tspan></text>
<line x1="490.88" y1="315.80" x2="490.88" y2="317.80" stroke="#111" stroke-width="1.2"/>
<line x1="510.25" y1="315.80" x2="510.25" y2="319.30" stroke="#111" stroke-width="1.2"/>
<text transform="translate(510.55 330.8) scale(0.84 1)" font-size="10.8" fill="#111" text-anchor="middle">10<tspan font-size="7.4" dy="-4.6">-3</tspan></text>
<line x1="529.62" y1="315.80" x2="529.62" y2="317.80" stroke="#111" stroke-width="1.2"/>
<line x1="549.00" y1="315.80" x2="549.00" y2="319.30" stroke="#111" stroke-width="1.2"/>
<text transform="translate(549.30 330.8) scale(0.84 1)" font-size="10.8" fill="#111" text-anchor="middle">10<tspan font-size="7.4" dy="-4.6">-1</tspan></text>
<line x1="568.38" y1="315.80" x2="568.38" y2="317.80" stroke="#111" stroke-width="1.2"/>
<line x1="587.75" y1="315.80" x2="587.75" y2="319.30" stroke="#111" stroke-width="1.2"/>
<text transform="translate(588.05 330.8) scale(0.84 1)" font-size="10.8" fill="#111" text-anchor="middle">10<tspan font-size="7.4" dy="-4.6">1</tspan></text>
<line x1="607.12" y1="315.80" x2="607.12" y2="317.80" stroke="#111" stroke-width="1.2"/>
<line x1="626.50" y1="315.80" x2="626.50" y2="319.30" stroke="#111" stroke-width="1.2"/>
<text transform="translate(626.80 330.8) scale(0.84 1)" font-size="10.8" fill="#111" text-anchor="middle">10<tspan font-size="7.4" dy="-4.6">3</tspan></text>
<text x="549.0" y="340.8" font-size="9.8" fill="#111" text-anchor="middle">τ(s)</text>
<rect x="648.3" y="168.3" width="10.0" height="147.7" fill="url(#cbar)" stroke="#111" stroke-width="0.9"/>
<line x1="645.30" y1="169.40" x2="648.30" y2="169.40" stroke="#111" stroke-width="1.2"/>
<text transform="translate(643.6999999999999 172.70000000000002) scale(0.9 1)" font-size="9.81" fill="#111" text-anchor="end">7k</text>
<line x1="645.30" y1="183.80" x2="648.30" y2="183.80" stroke="#111" stroke-width="1.2"/>
<text transform="translate(643.6999999999999 187.10000000000002) scale(0.9 1)" font-size="9.81" fill="#111" text-anchor="end">4k</text>
<line x1="645.30" y1="205.80" x2="648.30" y2="205.80" stroke="#111" stroke-width="1.2"/>
<text transform="translate(643.6999999999999 209.10000000000002) scale(0.9 1)" font-size="9.81" fill="#111" text-anchor="end">2k</text>
<line x1="645.30" y1="227.80" x2="648.30" y2="227.80" stroke="#111" stroke-width="1.2"/>
<text transform="translate(643.6999999999999 231.10000000000002) scale(0.9 1)" font-size="9.81" fill="#111" text-anchor="end">970</text>
<line x1="645.30" y1="249.80" x2="648.30" y2="249.80" stroke="#111" stroke-width="1.2"/>
<text transform="translate(643.6999999999999 253.10000000000002) scale(0.9 1)" font-size="9.81" fill="#111" text-anchor="end">462</text>
<line x1="645.30" y1="271.80" x2="648.30" y2="271.80" stroke="#111" stroke-width="1.2"/>
<text transform="translate(643.6999999999999 275.1) scale(0.9 1)" font-size="9.81" fill="#111" text-anchor="end">220</text>
<line x1="645.30" y1="293.80" x2="648.30" y2="293.80" stroke="#111" stroke-width="1.2"/>
<text transform="translate(643.6999999999999 297.1) scale(0.9 1)" font-size="9.81" fill="#111" text-anchor="end">105</text>
<line x1="645.30" y1="315.00" x2="648.30" y2="315.00" stroke="#111" stroke-width="1.2"/>
<text transform="translate(643.6999999999999 318.3) scale(0.9 1)" font-size="9.81" fill="#111" text-anchor="end">50</text>
<text x="667.8" y="241.8" font-size="9.2" fill="#111" text-anchor="middle" transform="rotate(-90 667.8 241.8)">g (f) (Ωs)</text>
<text x="13" y="182.5" font-size="14" fill="#111" text-anchor="start" font-weight="bold">c</text>
<text x="237.5" y="182.5" font-size="14" fill="#111" text-anchor="start" font-weight="bold">d</text>
<text x="461.2" y="182.5" font-size="14" fill="#111" text-anchor="start" font-weight="bold">e</text>
</svg>
</body></html>
